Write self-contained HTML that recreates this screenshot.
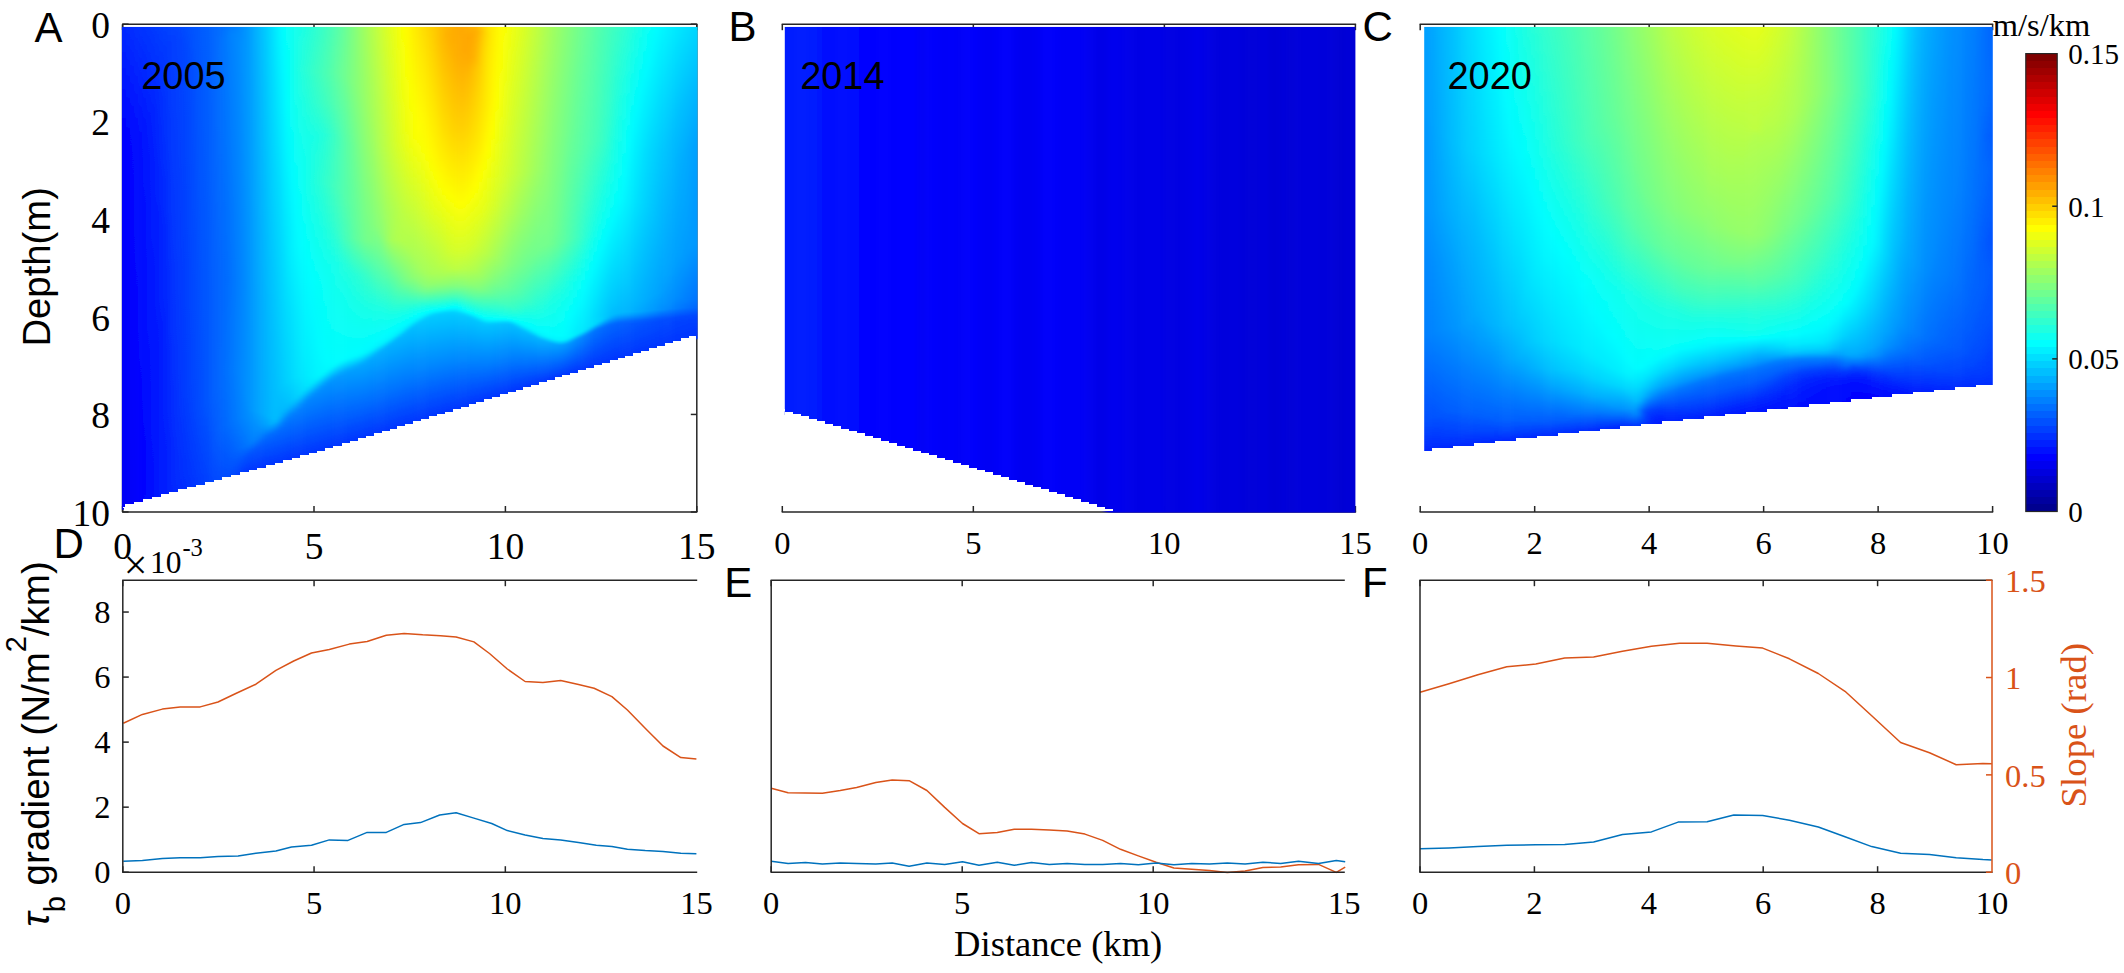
<!DOCTYPE html>
<html><head><meta charset="utf-8"><title>Figure</title>
<style>html,body{margin:0;padding:0;background:#fff;}svg{display:block;}</style></head>
<body><svg width="2124" height="973" viewBox="0 0 2124 973">
<defs><linearGradient id="a0" x1="0" y1="0" x2="0" y2="1"><stop offset="0" stop-color="#0029ff"/><stop offset="0.2237" stop-color="#0000ff"/><stop offset="0.9734" stop-color="#0000f5"/><stop offset="0.9983" stop-color="#0000f6"/></linearGradient>
<linearGradient id="a1" x1="0" y1="0" x2="0" y2="1"><stop offset="0" stop-color="#002bff"/><stop offset="0.2242" stop-color="#0004ff"/><stop offset="0.6436" stop-color="#0000fc"/><stop offset="0.9778" stop-color="#0000f7"/><stop offset="0.9986" stop-color="#0000f8"/></linearGradient>
<linearGradient id="a2" x1="0" y1="0" x2="0" y2="1"><stop offset="0" stop-color="#002dff"/><stop offset="0.2268" stop-color="#0007ff"/><stop offset="0.7991" stop-color="#0000fc"/><stop offset="0.9801" stop-color="#0000f9"/><stop offset="0.9988" stop-color="#0000fb"/></linearGradient>
<linearGradient id="a3" x1="0" y1="0" x2="0" y2="1"><stop offset="0" stop-color="#0030ff"/><stop offset="0.2294" stop-color="#000bff"/><stop offset="0.9282" stop-color="#0000fc"/><stop offset="0.9845" stop-color="#0000fc"/><stop offset="0.9991" stop-color="#0000fe"/></linearGradient>
<linearGradient id="a4" x1="0" y1="0" x2="0" y2="1"><stop offset="0" stop-color="#0032ff"/><stop offset="0.23" stop-color="#0010ff"/><stop offset="0.9889" stop-color="#0001ff"/><stop offset="0.9994" stop-color="#0002ff"/></linearGradient>
<linearGradient id="a5" x1="0" y1="0" x2="0" y2="1"><stop offset="0" stop-color="#0034ff"/><stop offset="0.2305" stop-color="#0014ff"/><stop offset="0.9598" stop-color="#0004ff"/><stop offset="0.9892" stop-color="#0007ff"/><stop offset="0.9997" stop-color="#0007ff"/></linearGradient>
<linearGradient id="a6" x1="0" y1="0" x2="0" y2="1"><stop offset="0" stop-color="#0036ff"/><stop offset="0.2206" stop-color="#001aff"/><stop offset="0.9852" stop-color="#000bff"/><stop offset="0.9999" stop-color="#000dff"/></linearGradient>
<linearGradient id="a7" x1="0" y1="0" x2="0" y2="1"><stop offset="0" stop-color="#0038ff"/><stop offset="0.1979" stop-color="#0020ff"/><stop offset="0.5959" stop-color="#0016ff"/><stop offset="0.9813" stop-color="#0010ff"/><stop offset="0.9981" stop-color="#0012ff"/></linearGradient>
<linearGradient id="a8" x1="0" y1="0" x2="0" y2="1"><stop offset="0" stop-color="#003bff"/><stop offset="0.1456" stop-color="#0029ff"/><stop offset="0.3989" stop-color="#001eff"/><stop offset="0.819" stop-color="#0015ff"/><stop offset="0.9984" stop-color="#0016ff"/></linearGradient>
<linearGradient id="a9" x1="0" y1="0" x2="0" y2="1"><stop offset="0" stop-color="#003dff"/><stop offset="0.09732" stop-color="#0031ff"/><stop offset="0.3893" stop-color="#0024ff"/><stop offset="0.8125" stop-color="#001bff"/><stop offset="0.9986" stop-color="#001aff"/></linearGradient>
<linearGradient id="a10" x1="0" y1="0" x2="0" y2="1"><stop offset="0" stop-color="#0040ff"/><stop offset="0.05726" stop-color="#0037ff"/><stop offset="0.422" stop-color="#0028ff"/><stop offset="0.8123" stop-color="#0020ff"/><stop offset="0.9989" stop-color="#001eff"/></linearGradient>
<linearGradient id="a11" x1="0" y1="0" x2="0" y2="1"><stop offset="0" stop-color="#0043ff"/><stop offset="0.03401" stop-color="#003bff"/><stop offset="0.5187" stop-color="#002cff"/><stop offset="0.8206" stop-color="#0025ff"/><stop offset="0.9992" stop-color="#0021ff"/></linearGradient>
<linearGradient id="a12" x1="0" y1="0" x2="0" y2="1"><stop offset="0" stop-color="#0043ff"/><stop offset="0.02344" stop-color="#003dff"/><stop offset="0.6947" stop-color="#002fff"/><stop offset="0.9994" stop-color="#0024ff"/></linearGradient>
<linearGradient id="a13" x1="0" y1="0" x2="0" y2="1"><stop offset="0" stop-color="#0043ff"/><stop offset="0.02136" stop-color="#003fff"/><stop offset="0.8011" stop-color="#0031ff"/><stop offset="0.9997" stop-color="#0028ff"/></linearGradient>
<linearGradient id="a14" x1="0" y1="0" x2="0" y2="1"><stop offset="0" stop-color="#0048ff"/><stop offset="0.02784" stop-color="#0043ff"/><stop offset="0.7987" stop-color="#0036ff"/><stop offset="1" stop-color="#002bff"/></linearGradient>
<linearGradient id="a15" x1="0" y1="0" x2="0" y2="1"><stop offset="0" stop-color="#004eff"/><stop offset="0.03649" stop-color="#0047ff"/><stop offset="0.7963" stop-color="#003cff"/><stop offset="0.9981" stop-color="#002eff"/></linearGradient>
<linearGradient id="a16" x1="0" y1="0" x2="0" y2="1"><stop offset="0" stop-color="#0051ff"/><stop offset="0.06025" stop-color="#004bff"/><stop offset="0.8026" stop-color="#0041ff"/><stop offset="0.9984" stop-color="#0031ff"/></linearGradient>
<linearGradient id="a17" x1="0" y1="0" x2="0" y2="1"><stop offset="0" stop-color="#0054ff"/><stop offset="0.1078" stop-color="#004fff"/><stop offset="0.811" stop-color="#0045ff"/><stop offset="0.9987" stop-color="#0034ff"/></linearGradient>
<linearGradient id="a18" x1="0" y1="0" x2="0" y2="1"><stop offset="0" stop-color="#0057ff"/><stop offset="0.6054" stop-color="#004dff"/><stop offset="0.8216" stop-color="#004aff"/><stop offset="0.9989" stop-color="#0037ff"/></linearGradient>
<linearGradient id="a19" x1="0" y1="0" x2="0" y2="1"><stop offset="0" stop-color="#005bff"/><stop offset="0.6026" stop-color="#0052ff"/><stop offset="0.8236" stop-color="#004fff"/><stop offset="0.9992" stop-color="#003bff"/></linearGradient>
<linearGradient id="a20" x1="0" y1="0" x2="0" y2="1"><stop offset="0" stop-color="#005eff"/><stop offset="0.5975" stop-color="#0056ff"/><stop offset="0.8213" stop-color="#0054ff"/><stop offset="0.9995" stop-color="#003eff"/></linearGradient>
<linearGradient id="a21" x1="0" y1="0" x2="0" y2="1"><stop offset="0" stop-color="#0062ff"/><stop offset="0.5946" stop-color="#005aff"/><stop offset="0.8168" stop-color="#005aff"/><stop offset="0.9715" stop-color="#0046ff"/><stop offset="0.9998" stop-color="#0042ff"/></linearGradient>
<linearGradient id="a22" x1="0" y1="0" x2="0" y2="1"><stop offset="0" stop-color="#0066ff"/><stop offset="0.2336" stop-color="#0064ff"/><stop offset="0.5721" stop-color="#005eff"/><stop offset="0.797" stop-color="#0060ff"/><stop offset="0.9084" stop-color="#0055ff"/><stop offset="0.9979" stop-color="#0044ff"/></linearGradient>
<linearGradient id="a23" x1="0" y1="0" x2="0" y2="1"><stop offset="0" stop-color="#006aff"/><stop offset="0.05472" stop-color="#006dff"/><stop offset="0.5691" stop-color="#0063ff"/><stop offset="0.7858" stop-color="#0065ff"/><stop offset="0.8909" stop-color="#005dff"/><stop offset="0.9982" stop-color="#0047ff"/></linearGradient>
<linearGradient id="a24" x1="0" y1="0" x2="0" y2="1"><stop offset="0" stop-color="#006fff"/><stop offset="0.03511" stop-color="#0073ff"/><stop offset="0.5618" stop-color="#0067ff"/><stop offset="0.7724" stop-color="#006bff"/><stop offset="0.8822" stop-color="#0064ff"/><stop offset="0.9985" stop-color="#0049ff"/></linearGradient>
<linearGradient id="a25" x1="0" y1="0" x2="0" y2="1"><stop offset="0" stop-color="#0075ff"/><stop offset="0.0242" stop-color="#007aff"/><stop offset="0.5544" stop-color="#006cff"/><stop offset="0.7634" stop-color="#0071ff"/><stop offset="0.8756" stop-color="#006aff"/><stop offset="0.9988" stop-color="#004aff"/></linearGradient>
<linearGradient id="a26" x1="0" y1="0" x2="0" y2="1"><stop offset="0" stop-color="#007bff"/><stop offset="0.01544" stop-color="#0081ff"/><stop offset="0.5536" stop-color="#0071ff"/><stop offset="0.7587" stop-color="#0077ff"/><stop offset="0.8711" stop-color="#0071ff"/><stop offset="0.9505" stop-color="#005aff"/><stop offset="0.9991" stop-color="#0049ff"/></linearGradient>
<linearGradient id="a27" x1="0" y1="0" x2="0" y2="1"><stop offset="0" stop-color="#007fff"/><stop offset="0.0199" stop-color="#0086ff"/><stop offset="0.5638" stop-color="#0078ff"/><stop offset="0.7606" stop-color="#007dff"/><stop offset="0.8689" stop-color="#0077ff"/><stop offset="0.9375" stop-color="#0063ff"/><stop offset="0.9839" stop-color="#004bff"/><stop offset="0.9949" stop-color="#0044ff"/><stop offset="0.9994" stop-color="#0044ff"/></linearGradient>
<linearGradient id="a28" x1="0" y1="0" x2="0" y2="1"><stop offset="0" stop-color="#0086ff"/><stop offset="0.03325" stop-color="#008bff"/><stop offset="0.5697" stop-color="#007fff"/><stop offset="0.7692" stop-color="#0084ff"/><stop offset="0.8667" stop-color="#007eff"/><stop offset="0.9354" stop-color="#0069ff"/><stop offset="0.9842" stop-color="#0045ff"/><stop offset="0.993" stop-color="#003dff"/><stop offset="0.9997" stop-color="#003dff"/></linearGradient>
<linearGradient id="a29" x1="0" y1="0" x2="0" y2="1"><stop offset="0" stop-color="#008eff"/><stop offset="0.05333" stop-color="#0092ff"/><stop offset="0.5733" stop-color="#0086ff"/><stop offset="0.7822" stop-color="#008aff"/><stop offset="0.8667" stop-color="#0085ff"/><stop offset="0.9355" stop-color="#006eff"/><stop offset="0.9622" stop-color="#0051ff"/><stop offset="0.9933" stop-color="#0037ff"/><stop offset="1" stop-color="#0037ff"/></linearGradient>
<linearGradient id="a30" x1="0" y1="0" x2="0" y2="1"><stop offset="0" stop-color="#0097ff"/><stop offset="0.1225" stop-color="#0099ff"/><stop offset="0.577" stop-color="#008eff"/><stop offset="0.8265" stop-color="#0091ff"/><stop offset="0.8733" stop-color="#0089ff"/><stop offset="0.9335" stop-color="#0075ff"/><stop offset="0.9558" stop-color="#0052ff"/><stop offset="0.9936" stop-color="#0033ff"/><stop offset="0.9981" stop-color="#0033ff"/></linearGradient>
<linearGradient id="a31" x1="0" y1="0" x2="0" y2="1"><stop offset="0" stop-color="#00a2ff"/><stop offset="0.5874" stop-color="#0097ff"/><stop offset="0.8555" stop-color="#0096ff"/><stop offset="0.9292" stop-color="#007dff"/><stop offset="0.9515" stop-color="#0053ff"/><stop offset="0.9939" stop-color="#0033ff"/><stop offset="0.9984" stop-color="#0033ff"/></linearGradient>
<linearGradient id="a32" x1="0" y1="0" x2="0" y2="1"><stop offset="0" stop-color="#00adff"/><stop offset="0.5889" stop-color="#009fff"/><stop offset="0.8599" stop-color="#009dff"/><stop offset="0.9248" stop-color="#0080ff"/><stop offset="0.9383" stop-color="#0066ff"/><stop offset="0.9472" stop-color="#0054ff"/><stop offset="0.9943" stop-color="#0033ff"/><stop offset="0.9987" stop-color="#0033ff"/></linearGradient>
<linearGradient id="a33" x1="0" y1="0" x2="0" y2="1"><stop offset="0" stop-color="#00b8ff"/><stop offset="0.595" stop-color="#00a8ff"/><stop offset="0.8644" stop-color="#00a5ff"/><stop offset="0.8981" stop-color="#0092ff"/><stop offset="0.9205" stop-color="#007fff"/><stop offset="0.943" stop-color="#0057ff"/><stop offset="0.9946" stop-color="#0033ff"/><stop offset="0.9991" stop-color="#0033ff"/></linearGradient>
<linearGradient id="a34" x1="0" y1="0" x2="0" y2="1"><stop offset="0" stop-color="#00c4ff"/><stop offset="0.6123" stop-color="#00b0ff"/><stop offset="0.8689" stop-color="#00acff"/><stop offset="0.8936" stop-color="#009eff"/><stop offset="0.9116" stop-color="#0089ff"/><stop offset="0.9342" stop-color="#0060ff"/><stop offset="0.9904" stop-color="#0033ff"/><stop offset="0.9994" stop-color="#0033ff"/></linearGradient>
<linearGradient id="a35" x1="0" y1="0" x2="0" y2="1"><stop offset="0" stop-color="#00d0ff"/><stop offset="0.65" stop-color="#00b8ff"/><stop offset="0.8779" stop-color="#00b2ff"/><stop offset="0.8982" stop-color="#00a3ff"/><stop offset="0.9073" stop-color="#0094ff"/><stop offset="0.9231" stop-color="#006cff"/><stop offset="0.9434" stop-color="#0058ff"/><stop offset="0.993" stop-color="#0033ff"/><stop offset="0.9998" stop-color="#0033ff"/></linearGradient>
<linearGradient id="a36" x1="0" y1="0" x2="0" y2="1"><stop offset="0" stop-color="#00ddff"/><stop offset="0.6472" stop-color="#00bfff"/><stop offset="0.8847" stop-color="#00b8ff"/><stop offset="0.8983" stop-color="#00aeff"/><stop offset="0.9096" stop-color="#008dff"/><stop offset="0.9209" stop-color="#006dff"/><stop offset="0.9368" stop-color="#005dff"/><stop offset="0.9934" stop-color="#0033ff"/><stop offset="0.9979" stop-color="#0033ff"/></linearGradient>
<linearGradient id="a37" x1="0" y1="0" x2="0" y2="1"><stop offset="0" stop-color="#00e9ff"/><stop offset="0.633" stop-color="#00c7ff"/><stop offset="0.8893" stop-color="#00bcff"/><stop offset="0.8962" stop-color="#00b2ff"/><stop offset="0.9166" stop-color="#0073ff"/><stop offset="0.9279" stop-color="#0063ff"/><stop offset="0.9937" stop-color="#0033ff"/><stop offset="0.9982" stop-color="#0033ff"/></linearGradient>
<linearGradient id="a38" x1="0" y1="0" x2="0" y2="1"><stop offset="0" stop-color="#00f6ff"/><stop offset="0.389" stop-color="#00dbff"/><stop offset="0.5573" stop-color="#00d3ff"/><stop offset="0.8166" stop-color="#00c5ff"/><stop offset="0.8849" stop-color="#00b7ff"/><stop offset="0.8963" stop-color="#00a0ff"/><stop offset="0.9122" stop-color="#0073ff"/><stop offset="0.9213" stop-color="#0067ff"/><stop offset="0.9941" stop-color="#0033ff"/><stop offset="0.9986" stop-color="#0033ff"/></linearGradient>
<linearGradient id="a39" x1="0" y1="0" x2="0" y2="1"><stop offset="0" stop-color="#01fffe"/><stop offset="0.2897" stop-color="#00eeff"/><stop offset="0.4562" stop-color="#00e2ff"/><stop offset="0.5383" stop-color="#00ddff"/><stop offset="0.812" stop-color="#00ccff"/><stop offset="0.869" stop-color="#00bbff"/><stop offset="0.8781" stop-color="#00b4ff"/><stop offset="0.9032" stop-color="#0079ff"/><stop offset="0.9146" stop-color="#006bff"/><stop offset="0.9944" stop-color="#0033ff"/><stop offset="0.999" stop-color="#0033ff"/></linearGradient>
<linearGradient id="a40" x1="0" y1="0" x2="0" y2="1"><stop offset="0" stop-color="#08fff7"/><stop offset="0.1784" stop-color="#02fffd"/><stop offset="0.4574" stop-color="#00eaff"/><stop offset="0.5168" stop-color="#00e8ff"/><stop offset="0.6952" stop-color="#00daff"/><stop offset="0.8096" stop-color="#00d2ff"/><stop offset="0.8599" stop-color="#00c1ff"/><stop offset="0.8713" stop-color="#00b6ff"/><stop offset="0.8942" stop-color="#007eff"/><stop offset="0.9079" stop-color="#006fff"/><stop offset="0.9925" stop-color="#0033ff"/><stop offset="0.9994" stop-color="#0033ff"/></linearGradient>
<linearGradient id="a41" x1="0" y1="0" x2="0" y2="1"><stop offset="0" stop-color="#0efff1"/><stop offset="0.1101" stop-color="#0ffff0"/><stop offset="0.3302" stop-color="#00fcff"/><stop offset="0.4609" stop-color="#00f2ff"/><stop offset="0.5091" stop-color="#00f1ff"/><stop offset="0.6444" stop-color="#00e2ff"/><stop offset="0.8049" stop-color="#00d9ff"/><stop offset="0.8553" stop-color="#00c7ff"/><stop offset="0.8645" stop-color="#00bdff"/><stop offset="0.8874" stop-color="#0082ff"/><stop offset="0.9012" stop-color="#0073ff"/><stop offset="0.9929" stop-color="#0033ff"/><stop offset="0.9998" stop-color="#0033ff"/></linearGradient>
<linearGradient id="a42" x1="0" y1="0" x2="0" y2="1"><stop offset="0" stop-color="#13ffec"/><stop offset="0.1012" stop-color="#18ffe7"/><stop offset="0.3978" stop-color="#00fcff"/><stop offset="0.4783" stop-color="#00f9ff"/><stop offset="0.5104" stop-color="#00f6ff"/><stop offset="0.653" stop-color="#00e8ff"/><stop offset="0.8048" stop-color="#00dfff"/><stop offset="0.853" stop-color="#00cdff"/><stop offset="0.8622" stop-color="#00baff"/><stop offset="0.8806" stop-color="#0087ff"/><stop offset="0.8921" stop-color="#0078ff"/><stop offset="0.9841" stop-color="#0038ff"/><stop offset="0.9956" stop-color="#0033ff"/><stop offset="0.9979" stop-color="#0033ff"/></linearGradient>
<linearGradient id="a43" x1="0" y1="0" x2="0" y2="1"><stop offset="0" stop-color="#18ffe7"/><stop offset="0.09914" stop-color="#20ffdf"/><stop offset="0.2928" stop-color="#0dfff2"/><stop offset="0.4703" stop-color="#00fdff"/><stop offset="0.5049" stop-color="#00fdff"/><stop offset="0.6571" stop-color="#00edff"/><stop offset="0.8047" stop-color="#00e4ff"/><stop offset="0.8462" stop-color="#00d5ff"/><stop offset="0.8554" stop-color="#00c1ff"/><stop offset="0.8715" stop-color="#0090ff"/><stop offset="0.883" stop-color="#007dff"/><stop offset="0.9753" stop-color="#003fff"/><stop offset="0.9937" stop-color="#0033ff"/><stop offset="0.9983" stop-color="#0033ff"/></linearGradient>
<linearGradient id="a44" x1="0" y1="0" x2="0" y2="1"><stop offset="0" stop-color="#1dffe2"/><stop offset="0.09941" stop-color="#27ffd8"/><stop offset="0.1988" stop-color="#1bffe4"/><stop offset="0.2774" stop-color="#12ffed"/><stop offset="0.3838" stop-color="#0efff1"/><stop offset="0.4948" stop-color="#02fffd"/><stop offset="0.756" stop-color="#00eeff"/><stop offset="0.8207" stop-color="#00e5ff"/><stop offset="0.8392" stop-color="#00ddff"/><stop offset="0.8485" stop-color="#00c7ff"/><stop offset="0.8647" stop-color="#0093ff"/><stop offset="0.8739" stop-color="#0082ff"/><stop offset="0.9779" stop-color="#003dff"/><stop offset="0.9941" stop-color="#0033ff"/><stop offset="0.9987" stop-color="#0033ff"/></linearGradient>
<linearGradient id="a45" x1="0" y1="0" x2="0" y2="1"><stop offset="0" stop-color="#23ffdc"/><stop offset="0.102" stop-color="#2effd1"/><stop offset="0.1878" stop-color="#23ffdc"/><stop offset="0.2596" stop-color="#16ffe9"/><stop offset="0.3709" stop-color="#16ffe9"/><stop offset="0.5471" stop-color="#00ffff"/><stop offset="0.8091" stop-color="#00edff"/><stop offset="0.8323" stop-color="#00e4ff"/><stop offset="0.8415" stop-color="#00ceff"/><stop offset="0.8578" stop-color="#0097ff"/><stop offset="0.867" stop-color="#0085ff"/><stop offset="0.9737" stop-color="#0040ff"/><stop offset="0.9946" stop-color="#0033ff"/><stop offset="0.9992" stop-color="#0033ff"/></linearGradient>
<linearGradient id="a46" x1="0" y1="0" x2="0" y2="1"><stop offset="0" stop-color="#29ffd6"/><stop offset="0.1023" stop-color="#35ffca"/><stop offset="0.1813" stop-color="#2affd5"/><stop offset="0.2557" stop-color="#19ffe6"/><stop offset="0.365" stop-color="#1dffe2"/><stop offset="0.5858" stop-color="#01fffe"/><stop offset="0.8113" stop-color="#00f0ff"/><stop offset="0.8276" stop-color="#00e8ff"/><stop offset="0.8369" stop-color="#00ceff"/><stop offset="0.8532" stop-color="#0096ff"/><stop offset="0.8625" stop-color="#0086ff"/><stop offset="0.9601" stop-color="#0049ff"/><stop offset="0.9927" stop-color="#0033ff"/><stop offset="0.9996" stop-color="#0033ff"/></linearGradient>
<linearGradient id="a47" x1="0" y1="0" x2="0" y2="1"><stop offset="0" stop-color="#2fffd0"/><stop offset="0.1049" stop-color="#3cffc3"/><stop offset="0.1795" stop-color="#30ffcf"/><stop offset="0.2541" stop-color="#1dffe2"/><stop offset="0.359" stop-color="#24ffdb"/><stop offset="0.5875" stop-color="#04fffb"/><stop offset="0.7437" stop-color="#00f9ff"/><stop offset="0.8159" stop-color="#00f3ff"/><stop offset="0.8229" stop-color="#00ebff"/><stop offset="0.8323" stop-color="#00ceff"/><stop offset="0.8462" stop-color="#009cff"/><stop offset="0.8556" stop-color="#008aff"/><stop offset="0.9605" stop-color="#0049ff"/><stop offset="0.9931" stop-color="#0033ff"/><stop offset="0.9978" stop-color="#0033ff"/></linearGradient>
<linearGradient id="a48" x1="0" y1="0" x2="0" y2="1"><stop offset="0" stop-color="#36ffc9"/><stop offset="0.1052" stop-color="#42ffbd"/><stop offset="0.1777" stop-color="#37ffc8"/><stop offset="0.2525" stop-color="#21ffde"/><stop offset="0.3577" stop-color="#2bffd4"/><stop offset="0.4559" stop-color="#1bffe4"/><stop offset="0.5143" stop-color="#12ffed"/><stop offset="0.5845" stop-color="#07fff8"/><stop offset="0.7551" stop-color="#00fbff"/><stop offset="0.8136" stop-color="#00f5ff"/><stop offset="0.8206" stop-color="#00e6ff"/><stop offset="0.8416" stop-color="#009cff"/><stop offset="0.851" stop-color="#008cff"/><stop offset="0.9515" stop-color="#004eff"/><stop offset="0.9936" stop-color="#0033ff"/><stop offset="0.9982" stop-color="#0033ff"/></linearGradient>
<linearGradient id="a49" x1="0" y1="0" x2="0" y2="1"><stop offset="0" stop-color="#3dffc2"/><stop offset="0.1078" stop-color="#49ffb6"/><stop offset="0.1782" stop-color="#3effc1"/><stop offset="0.2532" stop-color="#27ffd8"/><stop offset="0.361" stop-color="#31ffce"/><stop offset="0.4501" stop-color="#23ffdc"/><stop offset="0.5205" stop-color="#15ffea"/><stop offset="0.6002" stop-color="#09fff6"/><stop offset="0.776" stop-color="#00fdff"/><stop offset="0.8088" stop-color="#00f7ff"/><stop offset="0.8159" stop-color="#00e7ff"/><stop offset="0.8346" stop-color="#00a3ff"/><stop offset="0.844" stop-color="#008fff"/><stop offset="0.9518" stop-color="#004eff"/><stop offset="0.994" stop-color="#0033ff"/><stop offset="0.9987" stop-color="#0033ff"/></linearGradient>
<linearGradient id="a50" x1="0" y1="0" x2="0" y2="1"><stop offset="0" stop-color="#45ffba"/><stop offset="0.1082" stop-color="#50ffaf"/><stop offset="0.1787" stop-color="#45ffba"/><stop offset="0.2539" stop-color="#2fffd0"/><stop offset="0.3668" stop-color="#38ffc7"/><stop offset="0.4538" stop-color="#2affd5"/><stop offset="0.569" stop-color="#0ffff0"/><stop offset="0.7876" stop-color="#00fdff"/><stop offset="0.8041" stop-color="#00f8ff"/><stop offset="0.8135" stop-color="#00dfff"/><stop offset="0.83" stop-color="#00a4ff"/><stop offset="0.8394" stop-color="#0091ff"/><stop offset="0.9452" stop-color="#0052ff"/><stop offset="0.9945" stop-color="#0033ff"/><stop offset="0.9992" stop-color="#0033ff"/></linearGradient>
<linearGradient id="a51" x1="0" y1="0" x2="0" y2="1"><stop offset="0" stop-color="#4cffb3"/><stop offset="0.1085" stop-color="#58ffa7"/><stop offset="0.1816" stop-color="#4cffb3"/><stop offset="0.2547" stop-color="#38ffc7"/><stop offset="0.3749" stop-color="#3fffc0"/><stop offset="0.4622" stop-color="#2fffd0"/><stop offset="0.5635" stop-color="#13ffec"/><stop offset="0.7946" stop-color="#00fcff"/><stop offset="0.8017" stop-color="#00f5ff"/><stop offset="0.8111" stop-color="#00d9ff"/><stop offset="0.8253" stop-color="#00a7ff"/><stop offset="0.8347" stop-color="#0094ff"/><stop offset="0.9432" stop-color="#0054ff"/><stop offset="0.9927" stop-color="#0033ff"/><stop offset="0.9998" stop-color="#0033ff"/></linearGradient>
<linearGradient id="a52" x1="0" y1="0" x2="0" y2="1"><stop offset="0" stop-color="#55ffaa"/><stop offset="0.1064" stop-color="#60ff9f"/><stop offset="0.1821" stop-color="#54ffab"/><stop offset="0.2578" stop-color="#42ffbd"/><stop offset="0.3831" stop-color="#46ffb9"/><stop offset="0.48" stop-color="#34ffcb"/><stop offset="0.5604" stop-color="#18ffe7"/><stop offset="0.6716" stop-color="#0bfff4"/><stop offset="0.7922" stop-color="#00fdff"/><stop offset="0.7993" stop-color="#00f3ff"/><stop offset="0.8135" stop-color="#00c4ff"/><stop offset="0.8253" stop-color="#00a0ff"/><stop offset="0.8324" stop-color="#0095ff"/><stop offset="0.9364" stop-color="#0058ff"/><stop offset="0.9932" stop-color="#0033ff"/><stop offset="0.9979" stop-color="#0033ff"/></linearGradient>
<linearGradient id="a53" x1="0" y1="0" x2="0" y2="1"><stop offset="0" stop-color="#5effa1"/><stop offset="0.1091" stop-color="#68ff97"/><stop offset="0.1897" stop-color="#5bffa4"/><stop offset="0.2633" stop-color="#4cffb3"/><stop offset="0.3913" stop-color="#4dffb2"/><stop offset="0.498" stop-color="#3affc5"/><stop offset="0.5597" stop-color="#1fffe0"/><stop offset="0.638" stop-color="#10ffef"/><stop offset="0.7898" stop-color="#00fdff"/><stop offset="0.7969" stop-color="#00f2ff"/><stop offset="0.8206" stop-color="#00a6ff"/><stop offset="0.8301" stop-color="#0097ff"/><stop offset="0.9344" stop-color="#005aff"/><stop offset="0.9937" stop-color="#0033ff"/><stop offset="0.9985" stop-color="#0033ff"/></linearGradient>
<linearGradient id="a54" x1="0" y1="0" x2="0" y2="1"><stop offset="0" stop-color="#69ff96"/><stop offset="0.1166" stop-color="#70ff8f"/><stop offset="0.2141" stop-color="#5effa1"/><stop offset="0.2854" stop-color="#56ffa9"/><stop offset="0.402" stop-color="#55ffaa"/><stop offset="0.5066" stop-color="#44ffbb"/><stop offset="0.5637" stop-color="#24ffdb"/><stop offset="0.6256" stop-color="#14ffeb"/><stop offset="0.7873" stop-color="#00fdff"/><stop offset="0.7945" stop-color="#00f4ff"/><stop offset="0.8182" stop-color="#00a8ff"/><stop offset="0.8278" stop-color="#009aff"/><stop offset="0.9324" stop-color="#005bff"/><stop offset="0.9943" stop-color="#0033ff"/><stop offset="0.999" stop-color="#0033ff"/></linearGradient>
<linearGradient id="a55" x1="0" y1="0" x2="0" y2="1"><stop offset="0" stop-color="#75ff8a"/><stop offset="0.1241" stop-color="#79ff86"/><stop offset="0.2767" stop-color="#61ff9e"/><stop offset="0.4175" stop-color="#5bffa4"/><stop offset="0.5081" stop-color="#4effb1"/><stop offset="0.5821" stop-color="#23ffdc"/><stop offset="0.6441" stop-color="#15ffea"/><stop offset="0.7849" stop-color="#00fdff"/><stop offset="0.792" stop-color="#00f6ff"/><stop offset="0.804" stop-color="#00d2ff"/><stop offset="0.8159" stop-color="#00acff"/><stop offset="0.8254" stop-color="#009cff"/><stop offset="0.928" stop-color="#005fff"/><stop offset="0.9924" stop-color="#0033ff"/><stop offset="0.9996" stop-color="#0033ff"/></linearGradient>
<linearGradient id="a56" x1="0" y1="0" x2="0" y2="1"><stop offset="0" stop-color="#80ff7f"/><stop offset="0.134" stop-color="#81ff7e"/><stop offset="0.2847" stop-color="#6bff94"/><stop offset="0.4427" stop-color="#61ff9e"/><stop offset="0.5073" stop-color="#5affa5"/><stop offset="0.5934" stop-color="#25ffda"/><stop offset="0.6724" stop-color="#13ffec"/><stop offset="0.7824" stop-color="#00fdff"/><stop offset="0.7896" stop-color="#00f8ff"/><stop offset="0.7992" stop-color="#00dfff"/><stop offset="0.8135" stop-color="#00afff"/><stop offset="0.8231" stop-color="#009eff"/><stop offset="0.926" stop-color="#0060ff"/><stop offset="0.993" stop-color="#0033ff"/><stop offset="0.9978" stop-color="#0033ff"/></linearGradient>
<linearGradient id="a57" x1="0" y1="0" x2="0" y2="1"><stop offset="0" stop-color="#8cff73"/><stop offset="0.144" stop-color="#89ff76"/><stop offset="0.2976" stop-color="#75ff8a"/><stop offset="0.5088" stop-color="#63ff9c"/><stop offset="0.5976" stop-color="#29ffd6"/><stop offset="0.6744" stop-color="#15ffea"/><stop offset="0.78" stop-color="#00fdff"/><stop offset="0.7896" stop-color="#00f7ff"/><stop offset="0.7992" stop-color="#00dbff"/><stop offset="0.8112" stop-color="#00b2ff"/><stop offset="0.8208" stop-color="#00a0ff"/><stop offset="0.9239" stop-color="#0062ff"/><stop offset="0.9935" stop-color="#0033ff"/><stop offset="0.9983" stop-color="#0033ff"/></linearGradient>
<linearGradient id="a58" x1="0" y1="0" x2="0" y2="1"><stop offset="0" stop-color="#98ff67"/><stop offset="0.1565" stop-color="#91ff6e"/><stop offset="0.3274" stop-color="#7dff82"/><stop offset="0.5127" stop-color="#6bff94"/><stop offset="0.597" stop-color="#30ffcf"/><stop offset="0.6643" stop-color="#1affe5"/><stop offset="0.7775" stop-color="#00fdff"/><stop offset="0.7871" stop-color="#00f8ff"/><stop offset="0.7943" stop-color="#00e6ff"/><stop offset="0.8088" stop-color="#00b3ff"/><stop offset="0.816" stop-color="#00a4ff"/><stop offset="0.9315" stop-color="#005dff"/><stop offset="0.9941" stop-color="#0033ff"/><stop offset="0.9989" stop-color="#0033ff"/></linearGradient>
<linearGradient id="a59" x1="0" y1="0" x2="0" y2="1"><stop offset="0" stop-color="#a3ff5c"/><stop offset="0.1714" stop-color="#99ff66"/><stop offset="0.5167" stop-color="#72ff8d"/><stop offset="0.5988" stop-color="#37ffc8"/><stop offset="0.6833" stop-color="#17ffe8"/><stop offset="0.775" stop-color="#00fcff"/><stop offset="0.7871" stop-color="#00f4ff"/><stop offset="0.7967" stop-color="#00d4ff"/><stop offset="0.8064" stop-color="#00b2ff"/><stop offset="0.8136" stop-color="#00a5ff"/><stop offset="0.9174" stop-color="#0066ff"/><stop offset="0.9923" stop-color="#0033ff"/><stop offset="0.9995" stop-color="#0033ff"/></linearGradient>
<linearGradient id="a60" x1="0" y1="0" x2="0" y2="1"><stop offset="0" stop-color="#aeff51"/><stop offset="0.1913" stop-color="#a1ff5e"/><stop offset="0.5158" stop-color="#77ff88"/><stop offset="0.6151" stop-color="#35ffca"/><stop offset="0.6999" stop-color="#13ffec"/><stop offset="0.7701" stop-color="#00fdff"/><stop offset="0.7822" stop-color="#00f7ff"/><stop offset="0.7895" stop-color="#00e3ff"/><stop offset="0.8016" stop-color="#00b5ff"/><stop offset="0.8088" stop-color="#00a6ff"/><stop offset="0.913" stop-color="#0069ff"/><stop offset="0.9929" stop-color="#0033ff"/><stop offset="0.9977" stop-color="#0033ff"/></linearGradient>
<linearGradient id="a61" x1="0" y1="0" x2="0" y2="1"><stop offset="0" stop-color="#b9ff46"/><stop offset="0.2259" stop-color="#a7ff58"/><stop offset="0.4785" stop-color="#83ff7c"/><stop offset="0.5295" stop-color="#72ff8d"/><stop offset="0.6583" stop-color="#25ffda"/><stop offset="0.7651" stop-color="#00fdff"/><stop offset="0.7797" stop-color="#00f5ff"/><stop offset="0.787" stop-color="#00deff"/><stop offset="0.7967" stop-color="#00b7ff"/><stop offset="0.804" stop-color="#00a8ff"/><stop offset="0.9109" stop-color="#006aff"/><stop offset="0.9935" stop-color="#0033ff"/><stop offset="0.9983" stop-color="#0033ff"/></linearGradient>
<linearGradient id="a62" x1="0" y1="0" x2="0" y2="1"><stop offset="0" stop-color="#c3ff3c"/><stop offset="0.2802" stop-color="#acff53"/><stop offset="0.4873" stop-color="#89ff76"/><stop offset="0.5604" stop-color="#66ff99"/><stop offset="0.6846" stop-color="#1cffe3"/><stop offset="0.7626" stop-color="#00fcff"/><stop offset="0.7772" stop-color="#00f2ff"/><stop offset="0.787" stop-color="#00ccff"/><stop offset="0.7943" stop-color="#00b1ff"/><stop offset="0.8016" stop-color="#00a9ff"/><stop offset="0.9137" stop-color="#0067ff"/><stop offset="0.9941" stop-color="#0033ff"/><stop offset="0.9989" stop-color="#0033ff"/></linearGradient>
<linearGradient id="a63" x1="0" y1="0" x2="0" y2="1"><stop offset="0" stop-color="#ceff31"/><stop offset="0.2957" stop-color="#b4ff4b"/><stop offset="0.5059" stop-color="#8dff72"/><stop offset="0.6281" stop-color="#44ffbb"/><stop offset="0.6892" stop-color="#1cffe3"/><stop offset="0.7576" stop-color="#00fdff"/><stop offset="0.7723" stop-color="#00f5ff"/><stop offset="0.7772" stop-color="#00e7ff"/><stop offset="0.7894" stop-color="#00b3ff"/><stop offset="0.7943" stop-color="#00acff"/><stop offset="0.9043" stop-color="#006dff"/><stop offset="0.9922" stop-color="#0033ff"/><stop offset="0.9996" stop-color="#0033ff"/></linearGradient>
<linearGradient id="a64" x1="0" y1="0" x2="0" y2="1"><stop offset="0" stop-color="#d8ff27"/><stop offset="0.2917" stop-color="#beff41"/><stop offset="0.4805" stop-color="#9eff61"/><stop offset="0.5222" stop-color="#96ff69"/><stop offset="0.5614" stop-color="#78ff87"/><stop offset="0.6521" stop-color="#39ffc6"/><stop offset="0.6962" stop-color="#1cffe3"/><stop offset="0.7551" stop-color="#00fdff"/><stop offset="0.7698" stop-color="#00f3ff"/><stop offset="0.7747" stop-color="#00e1ff"/><stop offset="0.7845" stop-color="#00b6ff"/><stop offset="0.7894" stop-color="#00aeff"/><stop offset="0.8997" stop-color="#006fff"/><stop offset="0.9928" stop-color="#0033ff"/><stop offset="0.9978" stop-color="#0033ff"/></linearGradient>
<linearGradient id="a65" x1="0" y1="0" x2="0" y2="1"><stop offset="0" stop-color="#e1ff1e"/><stop offset="0.2902" stop-color="#c8ff37"/><stop offset="0.4598" stop-color="#a8ff57"/><stop offset="0.5238" stop-color="#a5ff5a"/><stop offset="0.568" stop-color="#7fff80"/><stop offset="0.6517" stop-color="#41ffbe"/><stop offset="0.7058" stop-color="#1affe5"/><stop offset="0.75" stop-color="#00feff"/><stop offset="0.7648" stop-color="#00f5ff"/><stop offset="0.7697" stop-color="#00e6ff"/><stop offset="0.7795" stop-color="#00b8ff"/><stop offset="0.7844" stop-color="#00b0ff"/><stop offset="0.8976" stop-color="#0070ff"/><stop offset="0.9935" stop-color="#0033ff"/><stop offset="0.9984" stop-color="#0033ff"/></linearGradient>
<linearGradient id="a66" x1="0" y1="0" x2="0" y2="1"><stop offset="0" stop-color="#eaff15"/><stop offset="0.2886" stop-color="#d2ff2d"/><stop offset="0.4539" stop-color="#b0ff4f"/><stop offset="0.5254" stop-color="#acff53"/><stop offset="0.6487" stop-color="#4cffb3"/><stop offset="0.7153" stop-color="#14ffeb"/><stop offset="0.7474" stop-color="#00fdff"/><stop offset="0.7622" stop-color="#00f2ff"/><stop offset="0.7696" stop-color="#00d0ff"/><stop offset="0.7745" stop-color="#00baff"/><stop offset="0.7795" stop-color="#00b2ff"/><stop offset="0.8929" stop-color="#0073ff"/><stop offset="0.9941" stop-color="#0033ff"/><stop offset="0.999" stop-color="#0033ff"/></linearGradient>
<linearGradient id="a67" x1="0" y1="0" x2="0" y2="1"><stop offset="0" stop-color="#f2ff0d"/><stop offset="0.287" stop-color="#dbff24"/><stop offset="0.4528" stop-color="#b7ff48"/><stop offset="0.527" stop-color="#b0ff4f"/><stop offset="0.6384" stop-color="#60ff9f"/><stop offset="0.7102" stop-color="#18ffe7"/><stop offset="0.7423" stop-color="#00feff"/><stop offset="0.7572" stop-color="#00f2ff"/><stop offset="0.7621" stop-color="#00deff"/><stop offset="0.7695" stop-color="#00bbff"/><stop offset="0.7745" stop-color="#00b4ff"/><stop offset="0.8908" stop-color="#0074ff"/><stop offset="0.9922" stop-color="#0033ff"/><stop offset="0.9997" stop-color="#0033ff"/></linearGradient>
<linearGradient id="a68" x1="0" y1="0" x2="0" y2="1"><stop offset="0" stop-color="#fbff04"/><stop offset="0.2457" stop-color="#e9ff16"/><stop offset="0.3028" stop-color="#dfff20"/><stop offset="0.4642" stop-color="#bbff44"/><stop offset="0.5312" stop-color="#b2ff4d"/><stop offset="0.6329" stop-color="#6fff90"/><stop offset="0.7124" stop-color="#15ffea"/><stop offset="0.7397" stop-color="#00fdff"/><stop offset="0.7521" stop-color="#00f2ff"/><stop offset="0.7645" stop-color="#00bcff"/><stop offset="0.7719" stop-color="#00b5ff"/><stop offset="0.8936" stop-color="#0071ff"/><stop offset="0.9929" stop-color="#0033ff"/><stop offset="0.9978" stop-color="#0033ff"/></linearGradient>
<linearGradient id="a69" x1="0" y1="0" x2="0" y2="1"><stop offset="0" stop-color="#fffb00"/><stop offset="0.1096" stop-color="#faff05"/><stop offset="0.244" stop-color="#f0ff0f"/><stop offset="0.2913" stop-color="#eaff15"/><stop offset="0.4781" stop-color="#bdff42"/><stop offset="0.5428" stop-color="#b0ff4f"/><stop offset="0.6324" stop-color="#7aff85"/><stop offset="0.6822" stop-color="#39ffc6"/><stop offset="0.7196" stop-color="#0dfff2"/><stop offset="0.737" stop-color="#00fcff"/><stop offset="0.7445" stop-color="#00f6ff"/><stop offset="0.7495" stop-color="#00e6ff"/><stop offset="0.7569" stop-color="#00c4ff"/><stop offset="0.7619" stop-color="#00b9ff"/><stop offset="0.8764" stop-color="#007bff"/><stop offset="0.9935" stop-color="#0033ff"/><stop offset="0.9985" stop-color="#0033ff"/></linearGradient>
<linearGradient id="a70" x1="0" y1="0" x2="0" y2="1"><stop offset="0" stop-color="#fff300"/><stop offset="0.1624" stop-color="#fcff03"/><stop offset="0.2448" stop-color="#f6ff09"/><stop offset="0.2822" stop-color="#f3ff0c"/><stop offset="0.5595" stop-color="#acff53"/><stop offset="0.6269" stop-color="#87ff78"/><stop offset="0.6594" stop-color="#61ff9e"/><stop offset="0.7094" stop-color="#16ffe9"/><stop offset="0.7318" stop-color="#00fdff"/><stop offset="0.7393" stop-color="#00f6ff"/><stop offset="0.7443" stop-color="#00e5ff"/><stop offset="0.7518" stop-color="#00c5ff"/><stop offset="0.7568" stop-color="#00bbff"/><stop offset="0.8742" stop-color="#007dff"/><stop offset="0.9941" stop-color="#0033ff"/><stop offset="0.9991" stop-color="#0033ff"/></linearGradient>
<linearGradient id="a71" x1="0" y1="0" x2="0" y2="1"><stop offset="0" stop-color="#ffeb00"/><stop offset="0.208" stop-color="#fcff03"/><stop offset="0.2781" stop-color="#faff05"/><stop offset="0.5763" stop-color="#aaff55"/><stop offset="0.6264" stop-color="#8fff70"/><stop offset="0.659" stop-color="#69ff96"/><stop offset="0.7116" stop-color="#12ffed"/><stop offset="0.7266" stop-color="#00ffff"/><stop offset="0.7366" stop-color="#00f1ff"/><stop offset="0.7467" stop-color="#00c8ff"/><stop offset="0.7517" stop-color="#00beff"/><stop offset="0.8669" stop-color="#0081ff"/><stop offset="0.9922" stop-color="#0033ff"/><stop offset="0.9997" stop-color="#0033ff"/></linearGradient>
<linearGradient id="a72" x1="0" y1="0" x2="0" y2="1"><stop offset="0" stop-color="#ffe400"/><stop offset="0.2514" stop-color="#ffff00"/><stop offset="0.2991" stop-color="#f8ff07"/><stop offset="0.4675" stop-color="#cdff32"/><stop offset="0.5329" stop-color="#baff45"/><stop offset="0.6058" stop-color="#a3ff5c"/><stop offset="0.6384" stop-color="#8cff73"/><stop offset="0.6636" stop-color="#6cff93"/><stop offset="0.7088" stop-color="#15ffea"/><stop offset="0.7239" stop-color="#00ffff"/><stop offset="0.7314" stop-color="#00f5ff"/><stop offset="0.744" stop-color="#00c7ff"/><stop offset="0.7515" stop-color="#00c0ff"/><stop offset="0.8747" stop-color="#007dff"/><stop offset="0.9928" stop-color="#0033ff"/><stop offset="0.9979" stop-color="#0033ff"/></linearGradient>
<linearGradient id="a73" x1="0" y1="0" x2="0" y2="1"><stop offset="0" stop-color="#ffdd00"/><stop offset="0.2244" stop-color="#fff900"/><stop offset="0.3076" stop-color="#fbff04"/><stop offset="0.4564" stop-color="#d6ff29"/><stop offset="0.5396" stop-color="#bcff43"/><stop offset="0.6152" stop-color="#a4ff5b"/><stop offset="0.648" stop-color="#8bff74"/><stop offset="0.6657" stop-color="#72ff8d"/><stop offset="0.706" stop-color="#1affe5"/><stop offset="0.7237" stop-color="#00fdff"/><stop offset="0.7287" stop-color="#00f3ff"/><stop offset="0.7388" stop-color="#00ccff"/><stop offset="0.7438" stop-color="#00c4ff"/><stop offset="0.8598" stop-color="#0086ff"/><stop offset="0.9935" stop-color="#0033ff"/><stop offset="0.9985" stop-color="#0033ff"/></linearGradient>
<linearGradient id="a74" x1="0" y1="0" x2="0" y2="1"><stop offset="0" stop-color="#ffd600"/><stop offset="0.2631" stop-color="#fff800"/><stop offset="0.3263" stop-color="#fcff03"/><stop offset="0.4528" stop-color="#ddff22"/><stop offset="0.5514" stop-color="#bdff42"/><stop offset="0.6248" stop-color="#a5ff5a"/><stop offset="0.6551" stop-color="#8bff74"/><stop offset="0.6703" stop-color="#70ff8f"/><stop offset="0.7083" stop-color="#17ffe8"/><stop offset="0.7209" stop-color="#01fffe"/><stop offset="0.726" stop-color="#00f3ff"/><stop offset="0.7361" stop-color="#00ccff"/><stop offset="0.7437" stop-color="#00c5ff"/><stop offset="0.8651" stop-color="#0083ff"/><stop offset="0.9916" stop-color="#0033ff"/><stop offset="0.9992" stop-color="#0033ff"/></linearGradient>
<linearGradient id="a75" x1="0" y1="0" x2="0" y2="1"><stop offset="0" stop-color="#ffcf00"/><stop offset="0.3147" stop-color="#fff900"/><stop offset="0.3578" stop-color="#fbff04"/><stop offset="0.4542" stop-color="#e2ff1d"/><stop offset="0.6268" stop-color="#a8ff57"/><stop offset="0.6547" stop-color="#8fff70"/><stop offset="0.6725" stop-color="#6fff90"/><stop offset="0.7131" stop-color="#0ffff0"/><stop offset="0.7207" stop-color="#01fffe"/><stop offset="0.7258" stop-color="#00eeff"/><stop offset="0.7334" stop-color="#00d0ff"/><stop offset="0.7384" stop-color="#00c8ff"/><stop offset="0.8552" stop-color="#0089ff"/><stop offset="0.9922" stop-color="#0033ff"/><stop offset="0.9998" stop-color="#0033ff"/></linearGradient>
<linearGradient id="a76" x1="0" y1="0" x2="0" y2="1"><stop offset="0" stop-color="#ffc900"/><stop offset="0.03819" stop-color="#ffcb00"/><stop offset="0.3208" stop-color="#fff500"/><stop offset="0.3768" stop-color="#fcff03"/><stop offset="0.4633" stop-color="#e5ff1a"/><stop offset="0.6263" stop-color="#abff54"/><stop offset="0.6517" stop-color="#94ff6b"/><stop offset="0.6721" stop-color="#72ff8d"/><stop offset="0.7179" stop-color="#07fff8"/><stop offset="0.7205" stop-color="#02fffd"/><stop offset="0.7255" stop-color="#00eeff"/><stop offset="0.7332" stop-color="#00d0ff"/><stop offset="0.7408" stop-color="#00c8ff"/><stop offset="0.8605" stop-color="#0087ff"/><stop offset="0.9929" stop-color="#0033ff"/><stop offset="0.9979" stop-color="#0033ff"/></linearGradient>
<linearGradient id="a77" x1="0" y1="0" x2="0" y2="1"><stop offset="0" stop-color="#ffc000"/><stop offset="0.0332" stop-color="#ffc100"/><stop offset="0.3116" stop-color="#ffed00"/><stop offset="0.3984" stop-color="#fdff02"/><stop offset="0.6079" stop-color="#b8ff47"/><stop offset="0.6411" stop-color="#a2ff5d"/><stop offset="0.664" stop-color="#84ff7b"/><stop offset="0.6896" stop-color="#4dffb2"/><stop offset="0.7202" stop-color="#04fffb"/><stop offset="0.7228" stop-color="#00fcff"/><stop offset="0.733" stop-color="#00d2ff"/><stop offset="0.7381" stop-color="#00c9ff"/><stop offset="0.853" stop-color="#008bff"/><stop offset="0.9935" stop-color="#0033ff"/><stop offset="0.9986" stop-color="#0033ff"/></linearGradient>
<linearGradient id="a78" x1="0" y1="0" x2="0" y2="1"><stop offset="0" stop-color="#ffb800"/><stop offset="0.02306" stop-color="#ffb700"/><stop offset="0.2562" stop-color="#ffdd00"/><stop offset="0.3638" stop-color="#fff400"/><stop offset="0.4202" stop-color="#fcff03"/><stop offset="0.5893" stop-color="#c3ff3c"/><stop offset="0.6303" stop-color="#aeff51"/><stop offset="0.6585" stop-color="#8fff70"/><stop offset="0.679" stop-color="#69ff96"/><stop offset="0.7226" stop-color="#00ffff"/><stop offset="0.7328" stop-color="#00d5ff"/><stop offset="0.7379" stop-color="#00caff"/><stop offset="0.8558" stop-color="#008aff"/><stop offset="0.9916" stop-color="#0033ff"/><stop offset="0.9993" stop-color="#0033ff"/></linearGradient>
<linearGradient id="a79" x1="0" y1="0" x2="0" y2="1"><stop offset="0" stop-color="#ffb400"/><stop offset="0.02056" stop-color="#ffb000"/><stop offset="0.3162" stop-color="#ffe400"/><stop offset="0.4293" stop-color="#fdff02"/><stop offset="0.5784" stop-color="#cdff32"/><stop offset="0.6247" stop-color="#b6ff49"/><stop offset="0.6606" stop-color="#8dff72"/><stop offset="0.6812" stop-color="#66ff99"/><stop offset="0.7223" stop-color="#03fffc"/><stop offset="0.7249" stop-color="#00faff"/><stop offset="0.7352" stop-color="#00d1ff"/><stop offset="0.7429" stop-color="#00c8ff"/><stop offset="0.8612" stop-color="#0087ff"/><stop offset="0.9923" stop-color="#0033ff"/><stop offset="1" stop-color="#0033ff"/></linearGradient>
<linearGradient id="a80" x1="0" y1="0" x2="0" y2="1"><stop offset="0" stop-color="#ffaf00"/><stop offset="0.03353" stop-color="#ffae00"/><stop offset="0.2656" stop-color="#ffd500"/><stop offset="0.4384" stop-color="#fdff02"/><stop offset="0.5751" stop-color="#d3ff2c"/><stop offset="0.6241" stop-color="#baff45"/><stop offset="0.668" stop-color="#83ff7c"/><stop offset="0.6912" stop-color="#51ffae"/><stop offset="0.7221" stop-color="#04fffb"/><stop offset="0.7247" stop-color="#00fdff"/><stop offset="0.7376" stop-color="#00cfff"/><stop offset="0.7453" stop-color="#00c7ff"/><stop offset="0.864" stop-color="#0086ff"/><stop offset="0.9929" stop-color="#0033ff"/><stop offset="0.9981" stop-color="#0033ff"/></linearGradient>
<linearGradient id="a81" x1="0" y1="0" x2="0" y2="1"><stop offset="0" stop-color="#ffab00"/><stop offset="0.07504" stop-color="#ffaf00"/><stop offset="0.2639" stop-color="#ffd200"/><stop offset="0.4528" stop-color="#fdff02"/><stop offset="0.577" stop-color="#d5ff2a"/><stop offset="0.6262" stop-color="#bcff43"/><stop offset="0.6728" stop-color="#7eff81"/><stop offset="0.6986" stop-color="#44ffbb"/><stop offset="0.7167" stop-color="#16ffe9"/><stop offset="0.7245" stop-color="#01fffe"/><stop offset="0.7323" stop-color="#00ebff"/><stop offset="0.74" stop-color="#00d1ff"/><stop offset="0.7478" stop-color="#00c7ff"/><stop offset="0.8642" stop-color="#0086ff"/><stop offset="0.9936" stop-color="#0033ff"/><stop offset="0.9988" stop-color="#0033ff"/></linearGradient>
<linearGradient id="a82" x1="0" y1="0" x2="0" y2="1"><stop offset="0" stop-color="#ffa800"/><stop offset="0.08048" stop-color="#ffad00"/><stop offset="0.2674" stop-color="#ffd100"/><stop offset="0.4595" stop-color="#fdff02"/><stop offset="0.5815" stop-color="#d4ff2b"/><stop offset="0.6282" stop-color="#baff45"/><stop offset="0.675" stop-color="#7eff81"/><stop offset="0.7035" stop-color="#41ffbe"/><stop offset="0.7295" stop-color="#02fffd"/><stop offset="0.7347" stop-color="#00f5ff"/><stop offset="0.7451" stop-color="#00cfff"/><stop offset="0.7529" stop-color="#00c6ff"/><stop offset="0.8671" stop-color="#0085ff"/><stop offset="0.9917" stop-color="#0033ff"/><stop offset="0.9995" stop-color="#0033ff"/></linearGradient>
<linearGradient id="a83" x1="0" y1="0" x2="0" y2="1"><stop offset="0" stop-color="#ffaa00"/><stop offset="0.06251" stop-color="#ffa800"/><stop offset="0.2683" stop-color="#ffd200"/><stop offset="0.4584" stop-color="#fdff02"/><stop offset="0.586" stop-color="#d2ff2d"/><stop offset="0.6329" stop-color="#b5ff4a"/><stop offset="0.672" stop-color="#88ff77"/><stop offset="0.698" stop-color="#58ffa7"/><stop offset="0.7371" stop-color="#02fffd"/><stop offset="0.7397" stop-color="#00faff"/><stop offset="0.7501" stop-color="#00d1ff"/><stop offset="0.7553" stop-color="#00c7ff"/><stop offset="0.8647" stop-color="#0088ff"/><stop offset="0.9924" stop-color="#0033ff"/><stop offset="0.9976" stop-color="#0033ff"/></linearGradient>
<linearGradient id="a84" x1="0" y1="0" x2="0" y2="1"><stop offset="0" stop-color="#ffae00"/><stop offset="0.02875" stop-color="#ffa600"/><stop offset="0.08101" stop-color="#ffab00"/><stop offset="0.1359" stop-color="#ffbc00"/><stop offset="0.2666" stop-color="#ffd500"/><stop offset="0.4469" stop-color="#fdff02"/><stop offset="0.5828" stop-color="#d2ff2d"/><stop offset="0.6324" stop-color="#b6ff49"/><stop offset="0.6716" stop-color="#8eff71"/><stop offset="0.6978" stop-color="#63ff9c"/><stop offset="0.7448" stop-color="#00ffff"/><stop offset="0.7552" stop-color="#00d4ff"/><stop offset="0.7605" stop-color="#00c7ff"/><stop offset="0.8755" stop-color="#0083ff"/><stop offset="0.9931" stop-color="#0033ff"/><stop offset="0.9983" stop-color="#0033ff"/></linearGradient>
<linearGradient id="a85" x1="0" y1="0" x2="0" y2="1"><stop offset="0" stop-color="#ffb200"/><stop offset="0.02098" stop-color="#ffa900"/><stop offset="0.08128" stop-color="#ffaf00"/><stop offset="0.1154" stop-color="#ffbe00"/><stop offset="0.3094" stop-color="#ffe300"/><stop offset="0.4353" stop-color="#fdff02"/><stop offset="0.5768" stop-color="#d1ff2e"/><stop offset="0.6345" stop-color="#b3ff4c"/><stop offset="0.6765" stop-color="#8cff73"/><stop offset="0.7027" stop-color="#63ff9c"/><stop offset="0.7499" stop-color="#04fffb"/><stop offset="0.7525" stop-color="#00faff"/><stop offset="0.763" stop-color="#00ceff"/><stop offset="0.7683" stop-color="#00c5ff"/><stop offset="0.8731" stop-color="#0086ff"/><stop offset="0.9911" stop-color="#0033ff"/><stop offset="0.999" stop-color="#0033ff"/></linearGradient>
<linearGradient id="a86" x1="0" y1="0" x2="0" y2="1"><stop offset="0" stop-color="#ffb600"/><stop offset="0.01315" stop-color="#ffaf00"/><stop offset="0.08419" stop-color="#ffbb00"/><stop offset="0.1158" stop-color="#ffc800"/><stop offset="0.3025" stop-color="#ffe600"/><stop offset="0.4157" stop-color="#ffff00"/><stop offset="0.5735" stop-color="#cfff30"/><stop offset="0.6419" stop-color="#acff53"/><stop offset="0.684" stop-color="#86ff79"/><stop offset="0.7103" stop-color="#5dffa2"/><stop offset="0.7577" stop-color="#02fffd"/><stop offset="0.7629" stop-color="#00edff"/><stop offset="0.7708" stop-color="#00cdff"/><stop offset="0.7761" stop-color="#00c4ff"/><stop offset="0.8787" stop-color="#0085ff"/><stop offset="0.9918" stop-color="#0033ff"/><stop offset="0.9997" stop-color="#0033ff"/></linearGradient>
<linearGradient id="a87" x1="0" y1="0" x2="0" y2="1"><stop offset="0" stop-color="#ffc600"/><stop offset="0.0132" stop-color="#ffbe00"/><stop offset="0.07127" stop-color="#ffcb00"/><stop offset="0.1927" stop-color="#ffdd00"/><stop offset="0.3009" stop-color="#ffec00"/><stop offset="0.3907" stop-color="#fdff02"/><stop offset="0.4936" stop-color="#e5ff1a"/><stop offset="0.5939" stop-color="#c1ff3e"/><stop offset="0.6573" stop-color="#9eff61"/><stop offset="0.6942" stop-color="#7cff83"/><stop offset="0.7338" stop-color="#38ffc7"/><stop offset="0.7655" stop-color="#00ffff"/><stop offset="0.7734" stop-color="#00e0ff"/><stop offset="0.7813" stop-color="#00c6ff"/><stop offset="0.9001" stop-color="#0077ff"/><stop offset="0.9925" stop-color="#0033ff"/><stop offset="0.9978" stop-color="#0033ff"/></linearGradient>
<linearGradient id="a88" x1="0" y1="0" x2="0" y2="1"><stop offset="0" stop-color="#ffd900"/><stop offset="0.01324" stop-color="#ffd100"/><stop offset="0.06621" stop-color="#ffdc00"/><stop offset="0.2092" stop-color="#ffe700"/><stop offset="0.3258" stop-color="#fff900"/><stop offset="0.3682" stop-color="#fbff04"/><stop offset="0.4794" stop-color="#e4ff1b"/><stop offset="0.5959" stop-color="#bcff43"/><stop offset="0.6648" stop-color="#94ff6b"/><stop offset="0.6992" stop-color="#75ff8a"/><stop offset="0.739" stop-color="#36ffc9"/><stop offset="0.7707" stop-color="#01fffe"/><stop offset="0.776" stop-color="#00f2ff"/><stop offset="0.7866" stop-color="#00c9ff"/><stop offset="0.7946" stop-color="#00c0ff"/><stop offset="0.8979" stop-color="#007bff"/><stop offset="0.9906" stop-color="#0033ff"/><stop offset="0.9985" stop-color="#0033ff"/></linearGradient>
<linearGradient id="a89" x1="0" y1="0" x2="0" y2="1"><stop offset="0" stop-color="#ffe500"/><stop offset="0.02392" stop-color="#ffe200"/><stop offset="0.08238" stop-color="#ffe800"/><stop offset="0.1967" stop-color="#ffef00"/><stop offset="0.3295" stop-color="#fdff02"/><stop offset="0.4837" stop-color="#dcff23"/><stop offset="0.6033" stop-color="#b3ff4c"/><stop offset="0.6671" stop-color="#8dff72"/><stop offset="0.7069" stop-color="#6bff94"/><stop offset="0.7468" stop-color="#2effd1"/><stop offset="0.776" stop-color="#00ffff"/><stop offset="0.7813" stop-color="#00eeff"/><stop offset="0.7893" stop-color="#00cdff"/><stop offset="0.7946" stop-color="#00c2ff"/><stop offset="0.8903" stop-color="#0082ff"/><stop offset="0.9913" stop-color="#0033ff"/><stop offset="0.9992" stop-color="#0033ff"/></linearGradient>
<linearGradient id="a90" x1="0" y1="0" x2="0" y2="1"><stop offset="0" stop-color="#ffed00"/><stop offset="0.1947" stop-color="#fff800"/><stop offset="0.272" stop-color="#feff01"/><stop offset="0.472" stop-color="#d9ff26"/><stop offset="0.608" stop-color="#abff54"/><stop offset="0.6693" stop-color="#87ff78"/><stop offset="0.712" stop-color="#64ff9b"/><stop offset="0.7493" stop-color="#30ffcf"/><stop offset="0.7787" stop-color="#01fffe"/><stop offset="0.7813" stop-color="#00f9ff"/><stop offset="0.792" stop-color="#00cbff"/><stop offset="0.7973" stop-color="#00c1ff"/><stop offset="0.8933" stop-color="#0080ff"/><stop offset="0.992" stop-color="#0033ff"/><stop offset="1" stop-color="#0033ff"/></linearGradient>
<linearGradient id="a91" x1="0" y1="0" x2="0" y2="1"><stop offset="0" stop-color="#fff500"/><stop offset="0.1953" stop-color="#fcff03"/><stop offset="0.3586" stop-color="#e8ff17"/><stop offset="0.4816" stop-color="#d0ff2f"/><stop offset="0.6181" stop-color="#a0ff5f"/><stop offset="0.6823" stop-color="#7aff85"/><stop offset="0.7225" stop-color="#58ffa7"/><stop offset="0.7626" stop-color="#21ffde"/><stop offset="0.7813" stop-color="#02fffd"/><stop offset="0.784" stop-color="#00f8ff"/><stop offset="0.7947" stop-color="#00c8ff"/><stop offset="0.8" stop-color="#00bfff"/><stop offset="0.8964" stop-color="#007eff"/><stop offset="0.99" stop-color="#0033ff"/><stop offset="0.9981" stop-color="#0033ff"/></linearGradient>
<linearGradient id="a92" x1="0" y1="0" x2="0" y2="1"><stop offset="0" stop-color="#fffd00"/><stop offset="0.1853" stop-color="#f5ff0a"/><stop offset="0.4162" stop-color="#d8ff27"/><stop offset="0.5397" stop-color="#b6ff49"/><stop offset="0.6363" stop-color="#92ff6d"/><stop offset="0.6981" stop-color="#6dff92"/><stop offset="0.7384" stop-color="#48ffb7"/><stop offset="0.7733" stop-color="#16ffe9"/><stop offset="0.784" stop-color="#03fffc"/><stop offset="0.7867" stop-color="#00f6ff"/><stop offset="0.7947" stop-color="#00cfff"/><stop offset="0.8001" stop-color="#00c0ff"/><stop offset="0.8995" stop-color="#007cff"/><stop offset="0.9907" stop-color="#0033ff"/><stop offset="0.9988" stop-color="#0033ff"/></linearGradient>
<linearGradient id="a93" x1="0" y1="0" x2="0" y2="1"><stop offset="0" stop-color="#faff05"/><stop offset="0.2371" stop-color="#e7ff18"/><stop offset="0.4176" stop-color="#d1ff2e"/><stop offset="0.5415" stop-color="#aeff51"/><stop offset="0.6439" stop-color="#88ff77"/><stop offset="0.7032" stop-color="#68ff97"/><stop offset="0.7463" stop-color="#42ffbd"/><stop offset="0.7759" stop-color="#19ffe6"/><stop offset="0.7867" stop-color="#03fffc"/><stop offset="0.7894" stop-color="#00f5ff"/><stop offset="0.7975" stop-color="#00ccff"/><stop offset="0.8029" stop-color="#00beff"/><stop offset="0.8972" stop-color="#007eff"/><stop offset="0.9915" stop-color="#0033ff"/><stop offset="0.9995" stop-color="#0033ff"/></linearGradient>
<linearGradient id="a94" x1="0" y1="0" x2="0" y2="1"><stop offset="0" stop-color="#f3ff0c"/><stop offset="0.3704" stop-color="#d1ff2e"/><stop offset="0.4839" stop-color="#b9ff46"/><stop offset="0.638" stop-color="#85ff7a"/><stop offset="0.7056" stop-color="#64ff9b"/><stop offset="0.7516" stop-color="#40ffbf"/><stop offset="0.7786" stop-color="#1bffe4"/><stop offset="0.7894" stop-color="#06fff9"/><stop offset="0.7921" stop-color="#00f9ff"/><stop offset="0.8002" stop-color="#00ceff"/><stop offset="0.8056" stop-color="#00beff"/><stop offset="0.9057" stop-color="#0078ff"/><stop offset="0.9922" stop-color="#0033ff"/><stop offset="0.9976" stop-color="#0033ff"/></linearGradient>
<linearGradient id="a95" x1="0" y1="0" x2="0" y2="1"><stop offset="0" stop-color="#ecff13"/><stop offset="0.3988" stop-color="#c6ff39"/><stop offset="0.5073" stop-color="#abff54"/><stop offset="0.6457" stop-color="#7dff82"/><stop offset="0.7162" stop-color="#5bffa4"/><stop offset="0.7623" stop-color="#37ffc8"/><stop offset="0.784" stop-color="#1affe5"/><stop offset="0.7949" stop-color="#05fffa"/><stop offset="0.7976" stop-color="#00fbff"/><stop offset="0.8084" stop-color="#00c6ff"/><stop offset="0.8139" stop-color="#00bbff"/><stop offset="0.9061" stop-color="#0079ff"/><stop offset="0.9902" stop-color="#0033ff"/><stop offset="0.9983" stop-color="#0033ff"/></linearGradient>
<linearGradient id="a96" x1="0" y1="0" x2="0" y2="1"><stop offset="0" stop-color="#e5ff1a"/><stop offset="0.4002" stop-color="#beff41"/><stop offset="0.5091" stop-color="#a3ff5c"/><stop offset="0.6479" stop-color="#78ff87"/><stop offset="0.7269" stop-color="#52ffad"/><stop offset="0.7704" stop-color="#2fffd0"/><stop offset="0.7976" stop-color="#09fff6"/><stop offset="0.8031" stop-color="#00ffff"/><stop offset="0.8085" stop-color="#00ebff"/><stop offset="0.8167" stop-color="#00c5ff"/><stop offset="0.8221" stop-color="#00b9ff"/><stop offset="0.912" stop-color="#0076ff"/><stop offset="0.9909" stop-color="#0033ff"/><stop offset="0.9991" stop-color="#0033ff"/></linearGradient>
<linearGradient id="a97" x1="0" y1="0" x2="0" y2="1"><stop offset="0" stop-color="#deff21"/><stop offset="0.3988" stop-color="#b8ff47"/><stop offset="0.5081" stop-color="#9dff62"/><stop offset="0.6474" stop-color="#74ff8b"/><stop offset="0.7321" stop-color="#4cffb3"/><stop offset="0.7758" stop-color="#29ffd6"/><stop offset="0.8086" stop-color="#01fffe"/><stop offset="0.8141" stop-color="#00f7ff"/><stop offset="0.8277" stop-color="#00beff"/><stop offset="0.8359" stop-color="#00b5ff"/><stop offset="0.9288" stop-color="#006aff"/><stop offset="0.9917" stop-color="#0033ff"/><stop offset="0.9999" stop-color="#0033ff"/></linearGradient>
<linearGradient id="a98" x1="0" y1="0" x2="0" y2="1"><stop offset="0" stop-color="#d6ff29"/><stop offset="0.3975" stop-color="#b1ff4e"/><stop offset="0.5099" stop-color="#97ff68"/><stop offset="0.6004" stop-color="#7fff80"/><stop offset="0.6744" stop-color="#65ff9a"/><stop offset="0.7539" stop-color="#3affc5"/><stop offset="0.8169" stop-color="#00fdff"/><stop offset="0.8224" stop-color="#00f6ff"/><stop offset="0.8361" stop-color="#00bdff"/><stop offset="0.8416" stop-color="#00b5ff"/><stop offset="0.9266" stop-color="#006fff"/><stop offset="0.9896" stop-color="#0033ff"/><stop offset="0.9979" stop-color="#0033ff"/></linearGradient>
<linearGradient id="a99" x1="0" y1="0" x2="0" y2="1"><stop offset="0" stop-color="#ceff31"/><stop offset="0.3962" stop-color="#aaff55"/><stop offset="0.5144" stop-color="#90ff6f"/><stop offset="0.5915" stop-color="#7dff82"/><stop offset="0.652" stop-color="#6bff94"/><stop offset="0.7565" stop-color="#36ffc9"/><stop offset="0.8226" stop-color="#00feff"/><stop offset="0.8308" stop-color="#00f6ff"/><stop offset="0.8363" stop-color="#00e1ff"/><stop offset="0.8446" stop-color="#00bcff"/><stop offset="0.8501" stop-color="#00b2ff"/><stop offset="0.9326" stop-color="#006bff"/><stop offset="0.9904" stop-color="#0033ff"/><stop offset="0.9986" stop-color="#0033ff"/></linearGradient>
<linearGradient id="a100" x1="0" y1="0" x2="0" y2="1"><stop offset="0" stop-color="#c6ff39"/><stop offset="0.3948" stop-color="#a3ff5c"/><stop offset="0.5273" stop-color="#88ff77"/><stop offset="0.6322" stop-color="#70ff8f"/><stop offset="0.7703" stop-color="#2bffd4"/><stop offset="0.831" stop-color="#00fdff"/><stop offset="0.8393" stop-color="#00f7ff"/><stop offset="0.8448" stop-color="#00e3ff"/><stop offset="0.8531" stop-color="#00bcff"/><stop offset="0.8558" stop-color="#00b4ff"/><stop offset="0.9469" stop-color="#005fff"/><stop offset="0.9911" stop-color="#0033ff"/><stop offset="0.9994" stop-color="#0033ff"/></linearGradient>
<linearGradient id="a101" x1="0" y1="0" x2="0" y2="1"><stop offset="0" stop-color="#beff41"/><stop offset="0.3934" stop-color="#9cff63"/><stop offset="0.6206" stop-color="#72ff8d"/><stop offset="0.8007" stop-color="#17ffe8"/><stop offset="0.8395" stop-color="#00fcff"/><stop offset="0.8478" stop-color="#00f6ff"/><stop offset="0.8533" stop-color="#00e4ff"/><stop offset="0.8616" stop-color="#00bcff"/><stop offset="0.8644" stop-color="#00b2ff"/><stop offset="0.9586" stop-color="#0055ff"/><stop offset="0.9891" stop-color="#0033ff"/><stop offset="0.9974" stop-color="#0033ff"/></linearGradient>
<linearGradient id="a102" x1="0" y1="0" x2="0" y2="1"><stop offset="0" stop-color="#b5ff4a"/><stop offset="0.392" stop-color="#96ff69"/><stop offset="0.6117" stop-color="#73ff8c"/><stop offset="0.7841" stop-color="#1fffe0"/><stop offset="0.8452" stop-color="#00fdff"/><stop offset="0.8564" stop-color="#00f5ff"/><stop offset="0.8619" stop-color="#00e1ff"/><stop offset="0.8703" stop-color="#00b7ff"/><stop offset="0.873" stop-color="#00aeff"/><stop offset="0.9565" stop-color="#0059ff"/><stop offset="0.9898" stop-color="#0033ff"/><stop offset="0.9982" stop-color="#0033ff"/></linearGradient>
<linearGradient id="a103" x1="0" y1="0" x2="0" y2="1"><stop offset="0" stop-color="#adff52"/><stop offset="0.3962" stop-color="#8eff71"/><stop offset="0.572" stop-color="#79ff86"/><stop offset="0.6111" stop-color="#72ff8d"/><stop offset="0.7729" stop-color="#20ffdf"/><stop offset="0.851" stop-color="#00feff"/><stop offset="0.8622" stop-color="#00f7ff"/><stop offset="0.865" stop-color="#00f1ff"/><stop offset="0.8789" stop-color="#00aeff"/><stop offset="0.8873" stop-color="#00a3ff"/><stop offset="0.9627" stop-color="#0053ff"/><stop offset="0.9906" stop-color="#0033ff"/><stop offset="0.9989" stop-color="#0033ff"/></linearGradient>
<linearGradient id="a104" x1="0" y1="0" x2="0" y2="1"><stop offset="0" stop-color="#a5ff5a"/><stop offset="0.406" stop-color="#86ff79"/><stop offset="0.5657" stop-color="#76ff89"/><stop offset="0.6077" stop-color="#70ff8f"/><stop offset="0.7673" stop-color="#1effe1"/><stop offset="0.8597" stop-color="#00fdff"/><stop offset="0.8709" stop-color="#00f4ff"/><stop offset="0.8765" stop-color="#00dcff"/><stop offset="0.8849" stop-color="#00afff"/><stop offset="0.8877" stop-color="#00a6ff"/><stop offset="0.9577" stop-color="#005aff"/><stop offset="0.9885" stop-color="#0033ff"/><stop offset="0.9997" stop-color="#0033ff"/></linearGradient>
<linearGradient id="a105" x1="0" y1="0" x2="0" y2="1"><stop offset="0" stop-color="#9dff62"/><stop offset="0.4047" stop-color="#7fff80"/><stop offset="0.5677" stop-color="#71ff8e"/><stop offset="0.6098" stop-color="#6aff95"/><stop offset="0.7532" stop-color="#20ffdf"/><stop offset="0.8656" stop-color="#00fdff"/><stop offset="0.8768" stop-color="#00f5ff"/><stop offset="0.8796" stop-color="#00ecff"/><stop offset="0.8909" stop-color="#00aeff"/><stop offset="0.8937" stop-color="#00a4ff"/><stop offset="0.9668" stop-color="#0050ff"/><stop offset="0.9892" stop-color="#0033ff"/><stop offset="0.9977" stop-color="#0033ff"/></linearGradient>
<linearGradient id="a106" x1="0" y1="0" x2="0" y2="1"><stop offset="0" stop-color="#96ff69"/><stop offset="0.392" stop-color="#7aff85"/><stop offset="0.5754" stop-color="#6aff95"/><stop offset="0.6205" stop-color="#5fffa0"/><stop offset="0.7277" stop-color="#28ffd7"/><stop offset="0.8038" stop-color="#0dfff2"/><stop offset="0.8715" stop-color="#00fdff"/><stop offset="0.8828" stop-color="#00f3ff"/><stop offset="0.8884" stop-color="#00d8ff"/><stop offset="0.8969" stop-color="#00a8ff"/><stop offset="0.8997" stop-color="#009fff"/><stop offset="0.9646" stop-color="#0053ff"/><stop offset="0.99" stop-color="#0033ff"/><stop offset="0.9984" stop-color="#0033ff"/></linearGradient>
<linearGradient id="a107" x1="0" y1="0" x2="0" y2="1"><stop offset="0" stop-color="#8eff71"/><stop offset="0.3736" stop-color="#75ff8a"/><stop offset="0.6058" stop-color="#5effa1"/><stop offset="0.6794" stop-color="#38ffc7"/><stop offset="0.7784" stop-color="#11ffee"/><stop offset="0.852" stop-color="#03fffc"/><stop offset="0.8747" stop-color="#00fdff"/><stop offset="0.886" stop-color="#00f3ff"/><stop offset="0.8917" stop-color="#00d7ff"/><stop offset="0.9001" stop-color="#00a5ff"/><stop offset="0.903" stop-color="#009bff"/><stop offset="0.9681" stop-color="#004eff"/><stop offset="0.9907" stop-color="#0033ff"/><stop offset="0.9992" stop-color="#0033ff"/></linearGradient>
<linearGradient id="a108" x1="0" y1="0" x2="0" y2="1"><stop offset="0" stop-color="#87ff78"/><stop offset="0.2869" stop-color="#74ff8b"/><stop offset="0.6023" stop-color="#57ffa8"/><stop offset="0.6591" stop-color="#3dffc2"/><stop offset="0.7244" stop-color="#1effe1"/><stop offset="0.8267" stop-color="#01fffe"/><stop offset="0.8778" stop-color="#00f9ff"/><stop offset="0.8864" stop-color="#00f2ff"/><stop offset="0.8892" stop-color="#00e7ff"/><stop offset="0.9006" stop-color="#00a1ff"/><stop offset="0.9034" stop-color="#0097ff"/><stop offset="0.9716" stop-color="#0049ff"/><stop offset="0.9886" stop-color="#0033ff"/><stop offset="1" stop-color="#0033ff"/></linearGradient>
<linearGradient id="a109" x1="0" y1="0" x2="0" y2="1"><stop offset="0" stop-color="#80ff7f"/><stop offset="0.288" stop-color="#6dff92"/><stop offset="0.6045" stop-color="#4effb1"/><stop offset="0.6643" stop-color="#33ffcc"/><stop offset="0.7299" stop-color="#17ffe8"/><stop offset="0.8211" stop-color="#00feff"/><stop offset="0.881" stop-color="#00f4ff"/><stop offset="0.8839" stop-color="#00f2ff"/><stop offset="0.8867" stop-color="#00e8ff"/><stop offset="0.8981" stop-color="#00a1ff"/><stop offset="0.901" stop-color="#0094ff"/><stop offset="0.9894" stop-color="#0033ff"/><stop offset="0.9979" stop-color="#0033ff"/></linearGradient>
<linearGradient id="a110" x1="0" y1="0" x2="0" y2="1"><stop offset="0" stop-color="#79ff86"/><stop offset="0.352" stop-color="#62ff9d"/><stop offset="0.6067" stop-color="#44ffbb"/><stop offset="0.6668" stop-color="#2affd5"/><stop offset="0.7326" stop-color="#10ffef"/><stop offset="0.8041" stop-color="#00fdff"/><stop offset="0.8814" stop-color="#00eeff"/><stop offset="0.8842" stop-color="#00e4ff"/><stop offset="0.8957" stop-color="#009bff"/><stop offset="0.8985" stop-color="#008fff"/><stop offset="0.9901" stop-color="#0033ff"/><stop offset="0.9987" stop-color="#0033ff"/></linearGradient>
<linearGradient id="a111" x1="0" y1="0" x2="0" y2="1"><stop offset="0" stop-color="#72ff8d"/><stop offset="0.3533" stop-color="#5cffa3"/><stop offset="0.6089" stop-color="#3affc5"/><stop offset="0.6692" stop-color="#22ffdd"/><stop offset="0.7352" stop-color="#0afff5"/><stop offset="0.7869" stop-color="#00fcff"/><stop offset="0.8788" stop-color="#00eaff"/><stop offset="0.8817" stop-color="#00e1ff"/><stop offset="0.8875" stop-color="#00bdff"/><stop offset="0.8932" stop-color="#0096ff"/><stop offset="0.8961" stop-color="#008aff"/><stop offset="0.9909" stop-color="#0033ff"/><stop offset="0.9995" stop-color="#0033ff"/></linearGradient>
<linearGradient id="a112" x1="0" y1="0" x2="0" y2="1"><stop offset="0" stop-color="#6bff94"/><stop offset="0.3488" stop-color="#56ffa9"/><stop offset="0.6082" stop-color="#30ffcf"/><stop offset="0.6774" stop-color="#16ffe9"/><stop offset="0.7524" stop-color="#00ffff"/><stop offset="0.8561" stop-color="#00ebff"/><stop offset="0.8763" stop-color="#00e6ff"/><stop offset="0.8792" stop-color="#00deff"/><stop offset="0.885" stop-color="#00b9ff"/><stop offset="0.8907" stop-color="#0092ff"/><stop offset="0.8936" stop-color="#0084ff"/><stop offset="0.9916" stop-color="#0033ff"/><stop offset="0.9974" stop-color="#0033ff"/></linearGradient>
<linearGradient id="a113" x1="0" y1="0" x2="0" y2="1"><stop offset="0" stop-color="#65ff9a"/><stop offset="0.3414" stop-color="#51ffae"/><stop offset="0.6018" stop-color="#27ffd8"/><stop offset="0.7262" stop-color="#00feff"/><stop offset="0.8419" stop-color="#00e7ff"/><stop offset="0.8737" stop-color="#00e1ff"/><stop offset="0.8766" stop-color="#00d6ff"/><stop offset="0.8882" stop-color="#0089ff"/><stop offset="0.8911" stop-color="#007dff"/><stop offset="0.9895" stop-color="#0033ff"/><stop offset="0.9981" stop-color="#0033ff"/></linearGradient>
<linearGradient id="a114" x1="0" y1="0" x2="0" y2="1"><stop offset="0" stop-color="#5fffa0"/><stop offset="0.3339" stop-color="#4cffb3"/><stop offset="0.5924" stop-color="#20ffdf"/><stop offset="0.7027" stop-color="#00fdff"/><stop offset="0.8392" stop-color="#00e1ff"/><stop offset="0.8682" stop-color="#00dfff"/><stop offset="0.8711" stop-color="#00d8ff"/><stop offset="0.877" stop-color="#00b7ff"/><stop offset="0.8828" stop-color="#0090ff"/><stop offset="0.8857" stop-color="#0080ff"/><stop offset="0.8886" stop-color="#0077ff"/><stop offset="0.9902" stop-color="#0033ff"/><stop offset="0.9989" stop-color="#0033ff"/></linearGradient>
<linearGradient id="a115" x1="0" y1="0" x2="0" y2="1"><stop offset="0" stop-color="#58ffa7"/><stop offset="0.2652" stop-color="#4bffb4"/><stop offset="0.3381" stop-color="#45ffba"/><stop offset="0.5829" stop-color="#19ffe6"/><stop offset="0.6791" stop-color="#00fdff"/><stop offset="0.8394" stop-color="#00dbff"/><stop offset="0.8656" stop-color="#00d8ff"/><stop offset="0.8685" stop-color="#00ceff"/><stop offset="0.8802" stop-color="#0088ff"/><stop offset="0.8831" stop-color="#007aff"/><stop offset="0.886" stop-color="#0072ff"/><stop offset="0.991" stop-color="#0033ff"/><stop offset="0.9997" stop-color="#0033ff"/></linearGradient>
<linearGradient id="a116" x1="0" y1="0" x2="0" y2="1"><stop offset="0" stop-color="#52ffad"/><stop offset="0.2574" stop-color="#44ffbb"/><stop offset="0.3306" stop-color="#40ffbf"/><stop offset="0.5675" stop-color="#14ffeb"/><stop offset="0.6494" stop-color="#00fdff"/><stop offset="0.8425" stop-color="#00d3ff"/><stop offset="0.8601" stop-color="#00d4ff"/><stop offset="0.863" stop-color="#00d0ff"/><stop offset="0.8688" stop-color="#00b8ff"/><stop offset="0.8805" stop-color="#0079ff"/><stop offset="0.8835" stop-color="#0070ff"/><stop offset="0.9917" stop-color="#0033ff"/><stop offset="0.9975" stop-color="#0033ff"/></linearGradient>
<linearGradient id="a117" x1="0" y1="0" x2="0" y2="1"><stop offset="0" stop-color="#4cffb3"/><stop offset="0.2555" stop-color="#3cffc3"/><stop offset="0.3347" stop-color="#37ffc8"/><stop offset="0.5491" stop-color="#10ffef"/><stop offset="0.6225" stop-color="#00fdff"/><stop offset="0.8456" stop-color="#00ccff"/><stop offset="0.8574" stop-color="#00ccff"/><stop offset="0.8632" stop-color="#00bdff"/><stop offset="0.8779" stop-color="#0079ff"/><stop offset="0.8838" stop-color="#006aff"/><stop offset="0.9924" stop-color="#0033ff"/><stop offset="0.9983" stop-color="#0033ff"/></linearGradient>
<linearGradient id="a118" x1="0" y1="0" x2="0" y2="1"><stop offset="0" stop-color="#46ffb9"/><stop offset="0.2623" stop-color="#34ffcb"/><stop offset="0.3507" stop-color="#2cffd3"/><stop offset="0.5305" stop-color="#0dfff2"/><stop offset="0.5983" stop-color="#00fcff"/><stop offset="0.8164" stop-color="#00cbff"/><stop offset="0.8547" stop-color="#00c3ff"/><stop offset="0.8606" stop-color="#00b5ff"/><stop offset="0.8783" stop-color="#0070ff"/><stop offset="0.8841" stop-color="#0067ff"/><stop offset="0.9932" stop-color="#0033ff"/><stop offset="0.9991" stop-color="#0033ff"/></linearGradient>
<linearGradient id="a119" x1="0" y1="0" x2="0" y2="1"><stop offset="0" stop-color="#40ffbf"/><stop offset="0.2781" stop-color="#2bffd4"/><stop offset="0.5088" stop-color="#0bfff4"/><stop offset="0.5709" stop-color="#00fcff"/><stop offset="0.8135" stop-color="#00c8ff"/><stop offset="0.8519" stop-color="#00bcff"/><stop offset="0.8608" stop-color="#00a8ff"/><stop offset="0.8786" stop-color="#006cff"/><stop offset="0.8845" stop-color="#0064ff"/><stop offset="0.991" stop-color="#0033ff"/><stop offset="0.9999" stop-color="#0033ff"/></linearGradient>
<linearGradient id="a120" x1="0" y1="0" x2="0" y2="1"><stop offset="0" stop-color="#3bffc4"/><stop offset="0.389" stop-color="#14ffeb"/><stop offset="0.5107" stop-color="#04fffb"/><stop offset="0.5523" stop-color="#00faff"/><stop offset="0.8195" stop-color="#00c4ff"/><stop offset="0.8522" stop-color="#00b9ff"/><stop offset="0.8611" stop-color="#00a4ff"/><stop offset="0.8789" stop-color="#006bff"/><stop offset="0.8848" stop-color="#0062ff"/><stop offset="0.9917" stop-color="#0033ff"/><stop offset="0.9977" stop-color="#0033ff"/></linearGradient>
<linearGradient id="a121" x1="0" y1="0" x2="0" y2="1"><stop offset="0" stop-color="#35ffca"/><stop offset="0.5096" stop-color="#00fdff"/><stop offset="0.7451" stop-color="#00d1ff"/><stop offset="0.8524" stop-color="#00b8ff"/><stop offset="0.8613" stop-color="#00a4ff"/><stop offset="0.8792" stop-color="#006cff"/><stop offset="0.8852" stop-color="#0061ff"/><stop offset="0.9925" stop-color="#0033ff"/><stop offset="0.9984" stop-color="#0033ff"/></linearGradient>
<linearGradient id="a122" x1="0" y1="0" x2="0" y2="1"><stop offset="0" stop-color="#2fffd0"/><stop offset="0.4398" stop-color="#00ffff"/><stop offset="0.5175" stop-color="#00f5ff"/><stop offset="0.7599" stop-color="#00cbff"/><stop offset="0.8526" stop-color="#00b7ff"/><stop offset="0.8616" stop-color="#00a7ff"/><stop offset="0.8825" stop-color="#0067ff"/><stop offset="0.8915" stop-color="#005cff"/><stop offset="0.9932" stop-color="#0033ff"/><stop offset="0.9992" stop-color="#0033ff"/></linearGradient>
<linearGradient id="a123" x1="0" y1="0" x2="0" y2="1"><stop offset="0" stop-color="#29ffd6"/><stop offset="0.3513" stop-color="#00feff"/><stop offset="0.5165" stop-color="#00efff"/><stop offset="0.7687" stop-color="#00c7ff"/><stop offset="0.8558" stop-color="#00b4ff"/><stop offset="0.8648" stop-color="#00a3ff"/><stop offset="0.8829" stop-color="#006aff"/><stop offset="0.8919" stop-color="#005bff"/><stop offset="0.994" stop-color="#0033ff"/><stop offset="1" stop-color="#0033ff"/></linearGradient>
<linearGradient id="a124" x1="0" y1="0" x2="0" y2="1"><stop offset="0" stop-color="#22ffdd"/><stop offset="0.2924" stop-color="#00fcff"/><stop offset="0.5275" stop-color="#00e7ff"/><stop offset="0.8259" stop-color="#00b9ff"/><stop offset="0.8591" stop-color="#00b0ff"/><stop offset="0.8681" stop-color="#009dff"/><stop offset="0.8862" stop-color="#0066ff"/><stop offset="0.8952" stop-color="#0058ff"/><stop offset="0.9947" stop-color="#0033ff"/><stop offset="0.9977" stop-color="#0033ff"/></linearGradient>
<linearGradient id="a125" x1="0" y1="0" x2="0" y2="1"><stop offset="0" stop-color="#1cffe3"/><stop offset="0.2421" stop-color="#00fcff"/><stop offset="0.3903" stop-color="#00ecff"/><stop offset="0.5325" stop-color="#00e0ff"/><stop offset="0.8291" stop-color="#00b5ff"/><stop offset="0.8623" stop-color="#00abff"/><stop offset="0.8714" stop-color="#0097ff"/><stop offset="0.8896" stop-color="#0062ff"/><stop offset="0.8987" stop-color="#0056ff"/><stop offset="0.9925" stop-color="#0033ff"/><stop offset="0.9985" stop-color="#0033ff"/></linearGradient>
<linearGradient id="a126" x1="0" y1="0" x2="0" y2="1"><stop offset="0" stop-color="#15ffea"/><stop offset="0.1883" stop-color="#00fcff"/><stop offset="0.3827" stop-color="#00e6ff"/><stop offset="0.5406" stop-color="#00d9ff"/><stop offset="0.8322" stop-color="#00b1ff"/><stop offset="0.8656" stop-color="#00a6ff"/><stop offset="0.8778" stop-color="#0087ff"/><stop offset="0.893" stop-color="#005eff"/><stop offset="0.9021" stop-color="#0053ff"/><stop offset="0.9932" stop-color="#0033ff"/><stop offset="0.9993" stop-color="#0033ff"/></linearGradient>
<linearGradient id="a127" x1="0" y1="0" x2="0" y2="1"><stop offset="0" stop-color="#0efff1"/><stop offset="0.1403" stop-color="#00fcff"/><stop offset="0.3811" stop-color="#00dfff"/><stop offset="0.5488" stop-color="#00d2ff"/><stop offset="0.8324" stop-color="#00adff"/><stop offset="0.8659" stop-color="#00a3ff"/><stop offset="0.8751" stop-color="#0092ff"/><stop offset="0.8933" stop-color="#005fff"/><stop offset="0.9025" stop-color="#0052ff"/><stop offset="0.994" stop-color="#0033ff"/><stop offset="0.997" stop-color="#0033ff"/></linearGradient>
<linearGradient id="a128" x1="0" y1="0" x2="0" y2="1"><stop offset="0" stop-color="#08fff7"/><stop offset="0.101" stop-color="#00fcff"/><stop offset="0.3795" stop-color="#00d9ff"/><stop offset="0.5601" stop-color="#00cbff"/><stop offset="0.8294" stop-color="#00aaff"/><stop offset="0.8692" stop-color="#009dff"/><stop offset="0.8815" stop-color="#0081ff"/><stop offset="0.8968" stop-color="#005aff"/><stop offset="0.906" stop-color="#0050ff"/><stop offset="0.9947" stop-color="#0033ff"/><stop offset="0.9978" stop-color="#0033ff"/></linearGradient>
<linearGradient id="a129" x1="0" y1="0" x2="0" y2="1"><stop offset="0" stop-color="#03fffc"/><stop offset="0.07989" stop-color="#00f9ff"/><stop offset="0.3779" stop-color="#00d4ff"/><stop offset="0.5746" stop-color="#00c5ff"/><stop offset="0.8265" stop-color="#00a7ff"/><stop offset="0.8695" stop-color="#009bff"/><stop offset="0.8787" stop-color="#008aff"/><stop offset="0.8972" stop-color="#005bff"/><stop offset="0.9064" stop-color="#004fff"/><stop offset="0.9955" stop-color="#0033ff"/><stop offset="0.9986" stop-color="#0033ff"/></linearGradient>
<linearGradient id="a130" x1="0" y1="0" x2="0" y2="1"><stop offset="0" stop-color="#00fdff"/><stop offset="0.3825" stop-color="#00ceff"/><stop offset="0.5984" stop-color="#00bdff"/><stop offset="0.8235" stop-color="#00a4ff"/><stop offset="0.8729" stop-color="#0095ff"/><stop offset="0.8852" stop-color="#007bff"/><stop offset="0.9007" stop-color="#0056ff"/><stop offset="0.9099" stop-color="#004cff"/><stop offset="0.9963" stop-color="#0033ff"/><stop offset="0.9994" stop-color="#0033ff"/></linearGradient>
<linearGradient id="a131" x1="0" y1="0" x2="0" y2="1"><stop offset="0" stop-color="#00f8ff"/><stop offset="0.3778" stop-color="#00c9ff"/><stop offset="0.6472" stop-color="#00b4ff"/><stop offset="0.8236" stop-color="#00a0ff"/><stop offset="0.8763" stop-color="#008fff"/><stop offset="0.8918" stop-color="#006cff"/><stop offset="0.9042" stop-color="#0052ff"/><stop offset="0.9134" stop-color="#004aff"/><stop offset="0.994" stop-color="#0033ff"/><stop offset="0.997" stop-color="#0033ff"/></linearGradient>
<linearGradient id="a132" x1="0" y1="0" x2="0" y2="1"><stop offset="0" stop-color="#00f4ff"/><stop offset="0.3699" stop-color="#00c5ff"/><stop offset="0.774" stop-color="#00a4ff"/><stop offset="0.8611" stop-color="#0092ff"/><stop offset="0.8797" stop-color="#0088ff"/><stop offset="0.9046" stop-color="#0053ff"/><stop offset="0.9139" stop-color="#0049ff"/><stop offset="0.9947" stop-color="#0033ff"/><stop offset="0.9978" stop-color="#0033ff"/></linearGradient>
<linearGradient id="a133" x1="0" y1="0" x2="0" y2="1"><stop offset="0" stop-color="#00efff"/><stop offset="0.3558" stop-color="#00c1ff"/><stop offset="0.7708" stop-color="#00a1ff"/><stop offset="0.8613" stop-color="#008eff"/><stop offset="0.88" stop-color="#0086ff"/><stop offset="0.8956" stop-color="#0068ff"/><stop offset="0.9113" stop-color="#004bff"/><stop offset="0.9924" stop-color="#0033ff"/><stop offset="0.9986" stop-color="#0033ff"/></linearGradient>
<linearGradient id="a134" x1="0" y1="0" x2="0" y2="1"><stop offset="0" stop-color="#00ecff"/><stop offset="0.3478" stop-color="#00bdff"/><stop offset="0.7457" stop-color="#00a1ff"/><stop offset="0.8522" stop-color="#008eff"/><stop offset="0.8835" stop-color="#0080ff"/><stop offset="0.9117" stop-color="#004cff"/><stop offset="0.9242" stop-color="#0044ff"/><stop offset="0.9963" stop-color="#0033ff"/><stop offset="0.9994" stop-color="#0033ff"/></linearGradient>
<linearGradient id="a135" x1="0" y1="0" x2="0" y2="1"><stop offset="0" stop-color="#00e8ff"/><stop offset="0.2674" stop-color="#00c2ff"/><stop offset="0.4215" stop-color="#00b2ff"/><stop offset="0.7234" stop-color="#00a0ff"/><stop offset="0.8493" stop-color="#008bff"/><stop offset="0.887" stop-color="#007aff"/><stop offset="0.9122" stop-color="#004dff"/><stop offset="0.9248" stop-color="#0043ff"/><stop offset="0.9971" stop-color="#0033ff"/></linearGradient>
<linearGradient id="a136" x1="0" y1="0" x2="0" y2="1"><stop offset="0" stop-color="#00e4ff"/><stop offset="0.259" stop-color="#00bfff"/><stop offset="0.4263" stop-color="#00adff"/><stop offset="0.7137" stop-color="#009fff"/><stop offset="0.8526" stop-color="#0087ff"/><stop offset="0.8874" stop-color="#0078ff"/><stop offset="0.9158" stop-color="#004aff"/><stop offset="0.9316" stop-color="#0041ff"/><stop offset="0.9979" stop-color="#0033ff"/></linearGradient>
<linearGradient id="a137" x1="0" y1="0" x2="0" y2="1"><stop offset="0" stop-color="#00e0ff"/><stop offset="0.241" stop-color="#00bdff"/><stop offset="0.4027" stop-color="#00abff"/><stop offset="0.6246" stop-color="#00a2ff"/><stop offset="0.7451" stop-color="#0097ff"/><stop offset="0.8656" stop-color="#007fff"/><stop offset="0.8909" stop-color="#0072ff"/><stop offset="0.9195" stop-color="#0048ff"/><stop offset="0.9417" stop-color="#003fff"/><stop offset="0.9987" stop-color="#0033ff"/></linearGradient>
<linearGradient id="a138" x1="0" y1="0" x2="0" y2="1"><stop offset="0" stop-color="#00dcff"/><stop offset="0.2196" stop-color="#00bcff"/><stop offset="0.3884" stop-color="#00a7ff"/><stop offset="0.5921" stop-color="#009fff"/><stop offset="0.7067" stop-color="#009aff"/><stop offset="0.8659" stop-color="#007cff"/><stop offset="0.8945" stop-color="#006dff"/><stop offset="0.92" stop-color="#0049ff"/><stop offset="0.9391" stop-color="#003fff"/><stop offset="0.9996" stop-color="#0033ff"/></linearGradient>
<linearGradient id="a139" x1="0" y1="0" x2="0" y2="1"><stop offset="0" stop-color="#00d9ff"/><stop offset="0.2109" stop-color="#00b9ff"/><stop offset="0.3803" stop-color="#00a3ff"/><stop offset="0.5785" stop-color="#009bff"/><stop offset="0.6968" stop-color="#0099ff"/><stop offset="0.8693" stop-color="#0077ff"/><stop offset="0.8981" stop-color="#0069ff"/><stop offset="0.9237" stop-color="#0047ff"/><stop offset="0.9524" stop-color="#003cff"/><stop offset="0.9972" stop-color="#0033ff"/></linearGradient>
<linearGradient id="a140" x1="0" y1="0" x2="0" y2="1"><stop offset="0" stop-color="#00d6ff"/><stop offset="0.2115" stop-color="#00b7ff"/><stop offset="0.3782" stop-color="#00a1ff"/><stop offset="0.5737" stop-color="#0098ff"/><stop offset="0.6955" stop-color="#0098ff"/><stop offset="0.8718" stop-color="#0074ff"/><stop offset="0.9007" stop-color="#0066ff"/><stop offset="0.9263" stop-color="#0046ff"/><stop offset="0.9808" stop-color="#0035ff"/><stop offset="0.9968" stop-color="#0033ff"/></linearGradient>
<clipPath id="cpa"><rect x="121.90" y="26.80" width="575.70" height="484.80"/></clipPath>
<filter id="fa" filterUnits="userSpaceOnUse" x="91.9" y="21.8" width="635.7" height="496.2"><feGaussianBlur stdDeviation="2.0 0"/></filter>
<linearGradient id="b0" x1="0" y1="0" x2="0" y2="1"><stop offset="0" stop-color="#001dff"/><stop offset="0.9994" stop-color="#001dff"/></linearGradient>
<linearGradient id="b1" x1="0" y1="0" x2="0" y2="1"><stop offset="0" stop-color="#001aff"/><stop offset="0.9988" stop-color="#001aff"/></linearGradient>
<linearGradient id="b2" x1="0" y1="0" x2="0" y2="1"><stop offset="0" stop-color="#001aff"/><stop offset="0.9982" stop-color="#001aff"/></linearGradient>
<linearGradient id="b3" x1="0" y1="0" x2="0" y2="1"><stop offset="0" stop-color="#001aff"/><stop offset="0.9975" stop-color="#001aff"/></linearGradient>
<linearGradient id="b4" x1="0" y1="0" x2="0" y2="1"><stop offset="0" stop-color="#001cff"/><stop offset="0.9995" stop-color="#001cff"/></linearGradient>
<linearGradient id="b5" x1="0" y1="0" x2="0" y2="1"><stop offset="0" stop-color="#001dff"/><stop offset="0.9988" stop-color="#001dff"/></linearGradient>
<linearGradient id="b6" x1="0" y1="0" x2="0" y2="1"><stop offset="0" stop-color="#001cff"/><stop offset="0.9982" stop-color="#001cff"/></linearGradient>
<linearGradient id="b7" x1="0" y1="0" x2="0" y2="1"><stop offset="0" stop-color="#001bff"/><stop offset="0.9976" stop-color="#001bff"/></linearGradient>
<linearGradient id="b8" x1="0" y1="0" x2="0" y2="1"><stop offset="0" stop-color="#0017ff"/><stop offset="0.9995" stop-color="#0017ff"/></linearGradient>
<linearGradient id="b9" x1="0" y1="0" x2="0" y2="1"><stop offset="0" stop-color="#0011ff"/><stop offset="0.9989" stop-color="#0011ff"/></linearGradient>
<linearGradient id="b10" x1="0" y1="0" x2="0" y2="1"><stop offset="0" stop-color="#000cff"/><stop offset="0.9983" stop-color="#000cff"/></linearGradient>
<linearGradient id="b11" x1="0" y1="0" x2="0" y2="1"><stop offset="0" stop-color="#000bff"/><stop offset="0.9977" stop-color="#000bff"/></linearGradient>
<linearGradient id="b12" x1="0" y1="0" x2="0" y2="1"><stop offset="0" stop-color="#000bff"/><stop offset="0.9995" stop-color="#000bff"/></linearGradient>
<linearGradient id="b13" x1="0" y1="0" x2="0" y2="1"><stop offset="0" stop-color="#0009ff"/><stop offset="0.9989" stop-color="#0009ff"/></linearGradient>
<linearGradient id="b14" x1="0" y1="0" x2="0" y2="1"><stop offset="0" stop-color="#0007ff"/><stop offset="0.9983" stop-color="#0007ff"/></linearGradient>
<linearGradient id="b15" x1="0" y1="0" x2="0" y2="1"><stop offset="0" stop-color="#0007ff"/><stop offset="0.9977" stop-color="#0007ff"/></linearGradient>
<linearGradient id="b16" x1="0" y1="0" x2="0" y2="1"><stop offset="0" stop-color="#0009ff"/><stop offset="0.9996" stop-color="#0009ff"/></linearGradient>
<linearGradient id="b17" x1="0" y1="0" x2="0" y2="1"><stop offset="0" stop-color="#0009ff"/><stop offset="0.999" stop-color="#0009ff"/></linearGradient>
<linearGradient id="b18" x1="0" y1="0" x2="0" y2="1"><stop offset="0" stop-color="#0005ff"/><stop offset="0.9984" stop-color="#0005ff"/></linearGradient>
<linearGradient id="b19" x1="0" y1="0" x2="0" y2="1"><stop offset="0" stop-color="#0001ff"/><stop offset="0.9978" stop-color="#0001ff"/></linearGradient>
<linearGradient id="b20" x1="0" y1="0" x2="0" y2="1"><stop offset="0" stop-color="#0003ff"/><stop offset="0.9996" stop-color="#0003ff"/></linearGradient>
<linearGradient id="b21" x1="0" y1="0" x2="0" y2="1"><stop offset="0" stop-color="#0005ff"/><stop offset="0.999" stop-color="#0005ff"/></linearGradient>
<linearGradient id="b22" x1="0" y1="0" x2="0" y2="1"><stop offset="0" stop-color="#0006ff"/><stop offset="0.9984" stop-color="#0006ff"/></linearGradient>
<linearGradient id="b23" x1="0" y1="0" x2="0" y2="1"><stop offset="0" stop-color="#0006ff"/><stop offset="0.9979" stop-color="#0006ff"/></linearGradient>
<linearGradient id="b24" x1="0" y1="0" x2="0" y2="1"><stop offset="0" stop-color="#0005ff"/><stop offset="0.9997" stop-color="#0005ff"/></linearGradient>
<linearGradient id="b25" x1="0" y1="0" x2="0" y2="1"><stop offset="0" stop-color="#0002ff"/><stop offset="0.9991" stop-color="#0002ff"/></linearGradient>
<linearGradient id="b26" x1="0" y1="0" x2="0" y2="1"><stop offset="0" stop-color="#0000fd"/><stop offset="0.9985" stop-color="#0000fd"/></linearGradient>
<linearGradient id="b27" x1="0" y1="0" x2="0" y2="1"><stop offset="0" stop-color="#0001ff"/><stop offset="0.9979" stop-color="#0001ff"/></linearGradient>
<linearGradient id="b28" x1="0" y1="0" x2="0" y2="1"><stop offset="0" stop-color="#0003ff"/><stop offset="0.9997" stop-color="#0003ff"/></linearGradient>
<linearGradient id="b29" x1="0" y1="0" x2="0" y2="1"><stop offset="0" stop-color="#0003ff"/><stop offset="0.9991" stop-color="#0003ff"/></linearGradient>
<linearGradient id="b30" x1="0" y1="0" x2="0" y2="1"><stop offset="0" stop-color="#0002ff"/><stop offset="0.9985" stop-color="#0002ff"/></linearGradient>
<linearGradient id="b31" x1="0" y1="0" x2="0" y2="1"><stop offset="0" stop-color="#0000ff"/><stop offset="0.998" stop-color="#0000ff"/></linearGradient>
<linearGradient id="b32" x1="0" y1="0" x2="0" y2="1"><stop offset="0" stop-color="#0000fa"/><stop offset="0.9997" stop-color="#0000fa"/></linearGradient>
<linearGradient id="b33" x1="0" y1="0" x2="0" y2="1"><stop offset="0" stop-color="#0000f6"/><stop offset="0.9992" stop-color="#0000f6"/></linearGradient>
<linearGradient id="b34" x1="0" y1="0" x2="0" y2="1"><stop offset="0" stop-color="#0000f9"/><stop offset="0.9986" stop-color="#0000f9"/></linearGradient>
<linearGradient id="b35" x1="0" y1="0" x2="0" y2="1"><stop offset="0" stop-color="#0000fd"/><stop offset="0.998" stop-color="#0000fd"/></linearGradient>
<linearGradient id="b36" x1="0" y1="0" x2="0" y2="1"><stop offset="0" stop-color="#0000fc"/><stop offset="0.9998" stop-color="#0000fc"/></linearGradient>
<linearGradient id="b37" x1="0" y1="0" x2="0" y2="1"><stop offset="0" stop-color="#0000fa"/><stop offset="0.9992" stop-color="#0000fa"/></linearGradient>
<linearGradient id="b38" x1="0" y1="0" x2="0" y2="1"><stop offset="0" stop-color="#0000f9"/><stop offset="0.9986" stop-color="#0000f9"/></linearGradient>
<linearGradient id="b39" x1="0" y1="0" x2="0" y2="1"><stop offset="0" stop-color="#0000f9"/><stop offset="0.9981" stop-color="#0000f9"/></linearGradient>
<linearGradient id="b40" x1="0" y1="0" x2="0" y2="1"><stop offset="0" stop-color="#0000fa"/><stop offset="0.9998" stop-color="#0000fa"/></linearGradient>
<linearGradient id="b41" x1="0" y1="0" x2="0" y2="1"><stop offset="0" stop-color="#0000f9"/><stop offset="0.9992" stop-color="#0000f9"/></linearGradient>
<linearGradient id="b42" x1="0" y1="0" x2="0" y2="1"><stop offset="0" stop-color="#0000f8"/><stop offset="0.9987" stop-color="#0000f8"/></linearGradient>
<linearGradient id="b43" x1="0" y1="0" x2="0" y2="1"><stop offset="0" stop-color="#0000f9"/><stop offset="0.9981" stop-color="#0000f9"/></linearGradient>
<linearGradient id="b44" x1="0" y1="0" x2="0" y2="1"><stop offset="0" stop-color="#0000fc"/><stop offset="0.9998" stop-color="#0000fc"/></linearGradient>
<linearGradient id="b45" x1="0" y1="0" x2="0" y2="1"><stop offset="0" stop-color="#0000fc"/><stop offset="0.9993" stop-color="#0000fc"/></linearGradient>
<linearGradient id="b46" x1="0" y1="0" x2="0" y2="1"><stop offset="0" stop-color="#0000fa"/><stop offset="0.9987" stop-color="#0000fa"/></linearGradient>
<linearGradient id="b47" x1="0" y1="0" x2="0" y2="1"><stop offset="0" stop-color="#0000f8"/><stop offset="0.9982" stop-color="#0000f8"/></linearGradient>
<linearGradient id="b48" x1="0" y1="0" x2="0" y2="1"><stop offset="0" stop-color="#0000f6"/><stop offset="0.9999" stop-color="#0000f6"/></linearGradient>
<linearGradient id="b49" x1="0" y1="0" x2="0" y2="1"><stop offset="0" stop-color="#0000f4"/><stop offset="0.9993" stop-color="#0000f4"/></linearGradient>
<linearGradient id="b50" x1="0" y1="0" x2="0" y2="1"><stop offset="0" stop-color="#0000f5"/><stop offset="0.9988" stop-color="#0000f5"/></linearGradient>
<linearGradient id="b51" x1="0" y1="0" x2="0" y2="1"><stop offset="0" stop-color="#0000f8"/><stop offset="0.9982" stop-color="#0000f8"/></linearGradient>
<linearGradient id="b52" x1="0" y1="0" x2="0" y2="1"><stop offset="0" stop-color="#0000f9"/><stop offset="0.9999" stop-color="#0000f9"/></linearGradient>
<linearGradient id="b53" x1="0" y1="0" x2="0" y2="1"><stop offset="0" stop-color="#0000fb"/><stop offset="0.9993" stop-color="#0000fb"/></linearGradient>
<linearGradient id="b54" x1="0" y1="0" x2="0" y2="1"><stop offset="0" stop-color="#0000fb"/><stop offset="0.9988" stop-color="#0000fb"/></linearGradient>
<linearGradient id="b55" x1="0" y1="0" x2="0" y2="1"><stop offset="0" stop-color="#0000f7"/><stop offset="0.9983" stop-color="#0000f7"/></linearGradient>
<linearGradient id="b56" x1="0" y1="0" x2="0" y2="1"><stop offset="0" stop-color="#0000f4"/><stop offset="0.9999" stop-color="#0000f4"/></linearGradient>
<linearGradient id="b57" x1="0" y1="0" x2="0" y2="1"><stop offset="0" stop-color="#0000f2"/><stop offset="0.9994" stop-color="#0000f2"/></linearGradient>
<linearGradient id="b58" x1="0" y1="0" x2="0" y2="1"><stop offset="0" stop-color="#0000f1"/><stop offset="0.9989" stop-color="#0000f1"/></linearGradient>
<linearGradient id="b59" x1="0" y1="0" x2="0" y2="1"><stop offset="0" stop-color="#0000f1"/><stop offset="0.9983" stop-color="#0000f1"/></linearGradient>
<linearGradient id="b60" x1="0" y1="0" x2="0" y2="1"><stop offset="0" stop-color="#0000f2"/><stop offset="1" stop-color="#0000f2"/></linearGradient>
<linearGradient id="b61" x1="0" y1="0" x2="0" y2="1"><stop offset="0" stop-color="#0000f3"/><stop offset="0.9994" stop-color="#0000f3"/></linearGradient>
<linearGradient id="b62" x1="0" y1="0" x2="0" y2="1"><stop offset="0" stop-color="#0000f7"/><stop offset="0.9989" stop-color="#0000f7"/></linearGradient>
<linearGradient id="b63" x1="0" y1="0" x2="0" y2="1"><stop offset="0" stop-color="#0000fa"/><stop offset="0.9984" stop-color="#0000fa"/></linearGradient>
<linearGradient id="b64" x1="0" y1="0" x2="0" y2="1"><stop offset="0" stop-color="#0000fa"/><stop offset="1" stop-color="#0000fa"/></linearGradient>
<linearGradient id="b65" x1="0" y1="0" x2="0" y2="1"><stop offset="0" stop-color="#0000fa"/><stop offset="0.9995" stop-color="#0000fa"/></linearGradient>
<linearGradient id="b66" x1="0" y1="0" x2="0" y2="1"><stop offset="0" stop-color="#0000f9"/><stop offset="0.9989" stop-color="#0000f9"/></linearGradient>
<linearGradient id="b67" x1="0" y1="0" x2="0" y2="1"><stop offset="0" stop-color="#0000f6"/><stop offset="0.9984" stop-color="#0000f6"/></linearGradient>
<linearGradient id="b68" x1="0" y1="0" x2="0" y2="1"><stop offset="0" stop-color="#0000f5"/><stop offset="0.9979" stop-color="#0000f5"/></linearGradient>
<linearGradient id="b69" x1="0" y1="0" x2="0" y2="1"><stop offset="0" stop-color="#0000f6"/><stop offset="0.9995" stop-color="#0000f6"/></linearGradient>
<linearGradient id="b70" x1="0" y1="0" x2="0" y2="1"><stop offset="0" stop-color="#0000f7"/><stop offset="0.999" stop-color="#0000f7"/></linearGradient>
<linearGradient id="b71" x1="0" y1="0" x2="0" y2="1"><stop offset="0" stop-color="#0000f6"/><stop offset="0.9985" stop-color="#0000f6"/></linearGradient>
<linearGradient id="b72" x1="0" y1="0" x2="0" y2="1"><stop offset="0" stop-color="#0000f5"/><stop offset="0.9979" stop-color="#0000f5"/></linearGradient>
<linearGradient id="b73" x1="0" y1="0" x2="0" y2="1"><stop offset="0" stop-color="#0000f3"/><stop offset="0.9995" stop-color="#0000f3"/></linearGradient>
<linearGradient id="b74" x1="0" y1="0" x2="0" y2="1"><stop offset="0" stop-color="#0000ef"/><stop offset="0.999" stop-color="#0000ef"/></linearGradient>
<linearGradient id="b75" x1="0" y1="0" x2="0" y2="1"><stop offset="0" stop-color="#0000ec"/><stop offset="0.9985" stop-color="#0000ec"/></linearGradient>
<linearGradient id="b76" x1="0" y1="0" x2="0" y2="1"><stop offset="0" stop-color="#0000e9"/><stop offset="0.998" stop-color="#0000e9"/></linearGradient>
<linearGradient id="b77" x1="0" y1="0" x2="0" y2="1"><stop offset="0" stop-color="#0000e7"/><stop offset="0.9996" stop-color="#0000e7"/></linearGradient>
<linearGradient id="b78" x1="0" y1="0" x2="0" y2="1"><stop offset="0" stop-color="#0000ea"/><stop offset="0.999" stop-color="#0000ea"/></linearGradient>
<linearGradient id="b79" x1="0" y1="0" x2="0" y2="1"><stop offset="0" stop-color="#0000ee"/><stop offset="1" stop-color="#0000ee"/></linearGradient>
<linearGradient id="b80" x1="0" y1="0" x2="0" y2="1"><stop offset="0" stop-color="#0000ee"/><stop offset="1" stop-color="#0000ee"/></linearGradient>
<linearGradient id="b81" x1="0" y1="0" x2="0" y2="1"><stop offset="0" stop-color="#0000ed"/><stop offset="1" stop-color="#0000ed"/></linearGradient>
<linearGradient id="b82" x1="0" y1="0" x2="0" y2="1"><stop offset="0" stop-color="#0000ec"/><stop offset="1" stop-color="#0000ec"/></linearGradient>
<linearGradient id="b83" x1="0" y1="0" x2="0" y2="1"><stop offset="0" stop-color="#0000ea"/><stop offset="1" stop-color="#0000ea"/></linearGradient>
<linearGradient id="b84" x1="0" y1="0" x2="0" y2="1"><stop offset="0" stop-color="#0000e8"/><stop offset="1" stop-color="#0000e8"/></linearGradient>
<linearGradient id="b85" x1="0" y1="0" x2="0" y2="1"><stop offset="0" stop-color="#0000e7"/><stop offset="1" stop-color="#0000e7"/></linearGradient>
<linearGradient id="b86" x1="0" y1="0" x2="0" y2="1"><stop offset="0" stop-color="#0000e5"/><stop offset="1" stop-color="#0000e5"/></linearGradient>
<linearGradient id="b87" x1="0" y1="0" x2="0" y2="1"><stop offset="0" stop-color="#0000e6"/><stop offset="1" stop-color="#0000e6"/></linearGradient>
<linearGradient id="b88" x1="0" y1="0" x2="0" y2="1"><stop offset="0" stop-color="#0000e7"/><stop offset="1" stop-color="#0000e7"/></linearGradient>
<linearGradient id="b89" x1="0" y1="0" x2="0" y2="1"><stop offset="0" stop-color="#0000e7"/><stop offset="1" stop-color="#0000e7"/></linearGradient>
<linearGradient id="b90" x1="0" y1="0" x2="0" y2="1"><stop offset="0" stop-color="#0000e7"/><stop offset="1" stop-color="#0000e7"/></linearGradient>
<linearGradient id="b91" x1="0" y1="0" x2="0" y2="1"><stop offset="0" stop-color="#0000e7"/><stop offset="1" stop-color="#0000e7"/></linearGradient>
<linearGradient id="b92" x1="0" y1="0" x2="0" y2="1"><stop offset="0" stop-color="#0000e5"/><stop offset="1" stop-color="#0000e5"/></linearGradient>
<linearGradient id="b93" x1="0" y1="0" x2="0" y2="1"><stop offset="0" stop-color="#0000e3"/><stop offset="1" stop-color="#0000e3"/></linearGradient>
<linearGradient id="b94" x1="0" y1="0" x2="0" y2="1"><stop offset="0" stop-color="#0000e3"/><stop offset="1" stop-color="#0000e3"/></linearGradient>
<linearGradient id="b95" x1="0" y1="0" x2="0" y2="1"><stop offset="0" stop-color="#0000e2"/><stop offset="1" stop-color="#0000e2"/></linearGradient>
<linearGradient id="b96" x1="0" y1="0" x2="0" y2="1"><stop offset="0" stop-color="#0000e3"/><stop offset="1" stop-color="#0000e3"/></linearGradient>
<linearGradient id="b97" x1="0" y1="0" x2="0" y2="1"><stop offset="0" stop-color="#0000e3"/><stop offset="1" stop-color="#0000e3"/></linearGradient>
<linearGradient id="b98" x1="0" y1="0" x2="0" y2="1"><stop offset="0" stop-color="#0000e4"/><stop offset="1" stop-color="#0000e4"/></linearGradient>
<linearGradient id="b99" x1="0" y1="0" x2="0" y2="1"><stop offset="0" stop-color="#0000e7"/><stop offset="1" stop-color="#0000e7"/></linearGradient>
<linearGradient id="b100" x1="0" y1="0" x2="0" y2="1"><stop offset="0" stop-color="#0000e9"/><stop offset="1" stop-color="#0000e9"/></linearGradient>
<linearGradient id="b101" x1="0" y1="0" x2="0" y2="1"><stop offset="0" stop-color="#0000e8"/><stop offset="1" stop-color="#0000e8"/></linearGradient>
<linearGradient id="b102" x1="0" y1="0" x2="0" y2="1"><stop offset="0" stop-color="#0000e5"/><stop offset="1" stop-color="#0000e5"/></linearGradient>
<linearGradient id="b103" x1="0" y1="0" x2="0" y2="1"><stop offset="0" stop-color="#0000e3"/><stop offset="1" stop-color="#0000e3"/></linearGradient>
<linearGradient id="b104" x1="0" y1="0" x2="0" y2="1"><stop offset="0" stop-color="#0000e0"/><stop offset="1" stop-color="#0000e0"/></linearGradient>
<linearGradient id="b105" x1="0" y1="0" x2="0" y2="1"><stop offset="0" stop-color="#0000de"/><stop offset="1" stop-color="#0000de"/></linearGradient>
<linearGradient id="b106" x1="0" y1="0" x2="0" y2="1"><stop offset="0" stop-color="#0000de"/><stop offset="1" stop-color="#0000de"/></linearGradient>
<linearGradient id="b107" x1="0" y1="0" x2="0" y2="1"><stop offset="0" stop-color="#0000dd"/><stop offset="1" stop-color="#0000dd"/></linearGradient>
<linearGradient id="b108" x1="0" y1="0" x2="0" y2="1"><stop offset="0" stop-color="#0000de"/><stop offset="1" stop-color="#0000de"/></linearGradient>
<linearGradient id="b109" x1="0" y1="0" x2="0" y2="1"><stop offset="0" stop-color="#0000df"/><stop offset="1" stop-color="#0000df"/></linearGradient>
<linearGradient id="b110" x1="0" y1="0" x2="0" y2="1"><stop offset="0" stop-color="#0000de"/><stop offset="1" stop-color="#0000de"/></linearGradient>
<linearGradient id="b111" x1="0" y1="0" x2="0" y2="1"><stop offset="0" stop-color="#0000db"/><stop offset="1" stop-color="#0000db"/></linearGradient>
<linearGradient id="b112" x1="0" y1="0" x2="0" y2="1"><stop offset="0" stop-color="#0000da"/><stop offset="1" stop-color="#0000da"/></linearGradient>
<linearGradient id="b113" x1="0" y1="0" x2="0" y2="1"><stop offset="0" stop-color="#0000d9"/><stop offset="1" stop-color="#0000d9"/></linearGradient>
<linearGradient id="b114" x1="0" y1="0" x2="0" y2="1"><stop offset="0" stop-color="#0000d9"/><stop offset="1" stop-color="#0000d9"/></linearGradient>
<linearGradient id="b115" x1="0" y1="0" x2="0" y2="1"><stop offset="0" stop-color="#0000da"/><stop offset="1" stop-color="#0000da"/></linearGradient>
<linearGradient id="b116" x1="0" y1="0" x2="0" y2="1"><stop offset="0" stop-color="#0000dc"/><stop offset="1" stop-color="#0000dc"/></linearGradient>
<linearGradient id="b117" x1="0" y1="0" x2="0" y2="1"><stop offset="0" stop-color="#0000db"/><stop offset="1" stop-color="#0000db"/></linearGradient>
<linearGradient id="b118" x1="0" y1="0" x2="0" y2="1"><stop offset="0" stop-color="#0000d7"/><stop offset="1" stop-color="#0000d7"/></linearGradient>
<linearGradient id="b119" x1="0" y1="0" x2="0" y2="1"><stop offset="0" stop-color="#0000d6"/><stop offset="1" stop-color="#0000d6"/></linearGradient>
<linearGradient id="b120" x1="0" y1="0" x2="0" y2="1"><stop offset="0" stop-color="#0000d8"/><stop offset="1" stop-color="#0000d8"/></linearGradient>
<linearGradient id="b121" x1="0" y1="0" x2="0" y2="1"><stop offset="0" stop-color="#0000da"/><stop offset="1" stop-color="#0000da"/></linearGradient>
<linearGradient id="b122" x1="0" y1="0" x2="0" y2="1"><stop offset="0" stop-color="#0000d9"/><stop offset="1" stop-color="#0000d9"/></linearGradient>
<linearGradient id="b123" x1="0" y1="0" x2="0" y2="1"><stop offset="0" stop-color="#0000d8"/><stop offset="1" stop-color="#0000d8"/></linearGradient>
<linearGradient id="b124" x1="0" y1="0" x2="0" y2="1"><stop offset="0" stop-color="#0000d9"/><stop offset="1" stop-color="#0000d9"/></linearGradient>
<linearGradient id="b125" x1="0" y1="0" x2="0" y2="1"><stop offset="0" stop-color="#0000db"/><stop offset="1" stop-color="#0000db"/></linearGradient>
<linearGradient id="b126" x1="0" y1="0" x2="0" y2="1"><stop offset="0" stop-color="#0000dc"/><stop offset="1" stop-color="#0000dc"/></linearGradient>
<linearGradient id="b127" x1="0" y1="0" x2="0" y2="1"><stop offset="0" stop-color="#0000dc"/><stop offset="1" stop-color="#0000dc"/></linearGradient>
<linearGradient id="b128" x1="0" y1="0" x2="0" y2="1"><stop offset="0" stop-color="#0000dc"/><stop offset="1" stop-color="#0000dc"/></linearGradient>
<linearGradient id="b129" x1="0" y1="0" x2="0" y2="1"><stop offset="0" stop-color="#0000dc"/><stop offset="1" stop-color="#0000dc"/></linearGradient>
<linearGradient id="b130" x1="0" y1="0" x2="0" y2="1"><stop offset="0" stop-color="#0000db"/><stop offset="1" stop-color="#0000db"/></linearGradient>
<linearGradient id="b131" x1="0" y1="0" x2="0" y2="1"><stop offset="0" stop-color="#0000db"/><stop offset="1" stop-color="#0000db"/></linearGradient>
<linearGradient id="b132" x1="0" y1="0" x2="0" y2="1"><stop offset="0" stop-color="#0000da"/><stop offset="1" stop-color="#0000da"/></linearGradient>
<linearGradient id="b133" x1="0" y1="0" x2="0" y2="1"><stop offset="0" stop-color="#0000d9"/><stop offset="1" stop-color="#0000d9"/></linearGradient>
<linearGradient id="b134" x1="0" y1="0" x2="0" y2="1"><stop offset="0" stop-color="#0000d7"/><stop offset="1" stop-color="#0000d7"/></linearGradient>
<linearGradient id="b135" x1="0" y1="0" x2="0" y2="1"><stop offset="0" stop-color="#0000d4"/><stop offset="1" stop-color="#0000d4"/></linearGradient>
<linearGradient id="b136" x1="0" y1="0" x2="0" y2="1"><stop offset="0" stop-color="#0000d6"/><stop offset="1" stop-color="#0000d6"/></linearGradient>
<linearGradient id="b137" x1="0" y1="0" x2="0" y2="1"><stop offset="0" stop-color="#0000d8"/><stop offset="1" stop-color="#0000d8"/></linearGradient>
<linearGradient id="b138" x1="0" y1="0" x2="0" y2="1"><stop offset="0" stop-color="#0000d7"/><stop offset="1" stop-color="#0000d7"/></linearGradient>
<linearGradient id="b139" x1="0" y1="0" x2="0" y2="1"><stop offset="0" stop-color="#0000d5"/><stop offset="1" stop-color="#0000d5"/></linearGradient>
<clipPath id="cpb"><rect x="784.80" y="26.80" width="570.60" height="486.00"/></clipPath>
<filter id="fb" filterUnits="userSpaceOnUse" x="754.8" y="21.8" width="630.6" height="496.2"><feGaussianBlur stdDeviation="2.0 0"/></filter>
<linearGradient id="c0" x1="0" y1="0" x2="0" y2="1"><stop offset="0" stop-color="#00a0ff"/><stop offset="0.2037" stop-color="#009bff"/><stop offset="0.2716" stop-color="#0096ff"/><stop offset="0.4144" stop-color="#0096ff"/><stop offset="0.5501" stop-color="#0088ff"/><stop offset="0.721" stop-color="#007fff"/><stop offset="0.9247" stop-color="#004dff"/><stop offset="0.9949" stop-color="#0025ff"/><stop offset="0.9996" stop-color="#0025ff"/></linearGradient>
<linearGradient id="c1" x1="0" y1="0" x2="0" y2="1"><stop offset="0" stop-color="#00a4ff"/><stop offset="0.2062" stop-color="#00a1ff"/><stop offset="0.2812" stop-color="#009cff"/><stop offset="0.4219" stop-color="#0099ff"/><stop offset="0.5461" stop-color="#008cff"/><stop offset="0.7195" stop-color="#0082ff"/><stop offset="0.9211" stop-color="#0050ff"/><stop offset="0.9937" stop-color="#0025ff"/><stop offset="0.9984" stop-color="#0025ff"/></linearGradient>
<linearGradient id="c2" x1="0" y1="0" x2="0" y2="1"><stop offset="0" stop-color="#00a9ff"/><stop offset="0.2159" stop-color="#00a6ff"/><stop offset="0.3308" stop-color="#00a2ff"/><stop offset="0.4388" stop-color="#009cff"/><stop offset="0.5561" stop-color="#0090ff"/><stop offset="0.7156" stop-color="#0086ff"/><stop offset="0.915" stop-color="#0053ff"/><stop offset="0.9784" stop-color="#002fff"/><stop offset="0.9948" stop-color="#0026ff"/><stop offset="0.9995" stop-color="#0026ff"/></linearGradient>
<linearGradient id="c3" x1="0" y1="0" x2="0" y2="1"><stop offset="0" stop-color="#00b0ff"/><stop offset="0.2325" stop-color="#00aaff"/><stop offset="0.4299" stop-color="#00a2ff"/><stop offset="0.5473" stop-color="#0094ff"/><stop offset="0.7117" stop-color="#0089ff"/><stop offset="0.9114" stop-color="#0056ff"/><stop offset="0.9724" stop-color="#0033ff"/><stop offset="0.9936" stop-color="#0026ff"/><stop offset="0.9983" stop-color="#0026ff"/></linearGradient>
<linearGradient id="c4" x1="0" y1="0" x2="0" y2="1"><stop offset="0" stop-color="#00b5ff"/><stop offset="0.2516" stop-color="#00b0ff"/><stop offset="0.4303" stop-color="#00a6ff"/><stop offset="0.5479" stop-color="#0098ff"/><stop offset="0.7102" stop-color="#008cff"/><stop offset="0.9077" stop-color="#0059ff"/><stop offset="0.9665" stop-color="#0038ff"/><stop offset="0.9924" stop-color="#0026ff"/><stop offset="0.9994" stop-color="#0026ff"/></linearGradient>
<linearGradient id="c5" x1="0" y1="0" x2="0" y2="1"><stop offset="0" stop-color="#00baff"/><stop offset="0.2613" stop-color="#00b5ff"/><stop offset="0.4308" stop-color="#00aaff"/><stop offset="0.5485" stop-color="#009cff"/><stop offset="0.7086" stop-color="#008fff"/><stop offset="0.9064" stop-color="#005cff"/><stop offset="0.9629" stop-color="#003cff"/><stop offset="0.9935" stop-color="#0026ff"/><stop offset="0.9982" stop-color="#0026ff"/></linearGradient>
<linearGradient id="c6" x1="0" y1="0" x2="0" y2="1"><stop offset="0" stop-color="#00bfff"/><stop offset="0.2663" stop-color="#00bbff"/><stop offset="0.4289" stop-color="#00afff"/><stop offset="0.5444" stop-color="#00a0ff"/><stop offset="0.7071" stop-color="#0092ff"/><stop offset="0.9074" stop-color="#005dff"/><stop offset="0.9616" stop-color="#003dff"/><stop offset="0.9922" stop-color="#0026ff"/><stop offset="0.9993" stop-color="#0026ff"/></linearGradient>
<linearGradient id="c7" x1="0" y1="0" x2="0" y2="1"><stop offset="0" stop-color="#00c4ff"/><stop offset="0.2713" stop-color="#00c0ff"/><stop offset="0.4318" stop-color="#00b2ff"/><stop offset="0.5498" stop-color="#00a4ff"/><stop offset="0.7078" stop-color="#0095ff"/><stop offset="0.9084" stop-color="#005eff"/><stop offset="0.9603" stop-color="#003fff"/><stop offset="0.9933" stop-color="#0026ff"/><stop offset="0.9981" stop-color="#0026ff"/></linearGradient>
<linearGradient id="c8" x1="0" y1="0" x2="0" y2="1"><stop offset="0" stop-color="#00caff"/><stop offset="0.2764" stop-color="#00c4ff"/><stop offset="0.4346" stop-color="#00b5ff"/><stop offset="0.5433" stop-color="#00a8ff"/><stop offset="0.7086" stop-color="#0097ff"/><stop offset="0.9094" stop-color="#005fff"/><stop offset="0.9567" stop-color="#0043ff"/><stop offset="0.9921" stop-color="#0026ff"/><stop offset="0.9992" stop-color="#0026ff"/></linearGradient>
<linearGradient id="c9" x1="0" y1="0" x2="0" y2="1"><stop offset="0" stop-color="#00d0ff"/><stop offset="0.2838" stop-color="#00c8ff"/><stop offset="0.4375" stop-color="#00b8ff"/><stop offset="0.5203" stop-color="#00adff"/><stop offset="0.7047" stop-color="#009bff"/><stop offset="0.9105" stop-color="#0061ff"/><stop offset="0.9578" stop-color="#0043ff"/><stop offset="0.9932" stop-color="#0026ff"/><stop offset="0.998" stop-color="#0026ff"/></linearGradient>
<linearGradient id="c10" x1="0" y1="0" x2="0" y2="1"><stop offset="0" stop-color="#00d6ff"/><stop offset="0.2888" stop-color="#00cdff"/><stop offset="0.4427" stop-color="#00baff"/><stop offset="0.4995" stop-color="#00b3ff"/><stop offset="0.696" stop-color="#00a0ff"/><stop offset="0.9115" stop-color="#0062ff"/><stop offset="0.9565" stop-color="#0045ff"/><stop offset="0.992" stop-color="#0026ff"/><stop offset="0.9991" stop-color="#0026ff"/></linearGradient>
<linearGradient id="c11" x1="0" y1="0" x2="0" y2="1"><stop offset="0" stop-color="#00dbff"/><stop offset="0.2939" stop-color="#00d0ff"/><stop offset="0.448" stop-color="#00bcff"/><stop offset="0.5333" stop-color="#00b3ff"/><stop offset="0.6945" stop-color="#00a3ff"/><stop offset="0.9101" stop-color="#0064ff"/><stop offset="0.9552" stop-color="#0048ff"/><stop offset="0.9931" stop-color="#0026ff"/><stop offset="0.9978" stop-color="#0026ff"/></linearGradient>
<linearGradient id="c12" x1="0" y1="0" x2="0" y2="1"><stop offset="0" stop-color="#00e1ff"/><stop offset="0.2966" stop-color="#00d4ff"/><stop offset="0.458" stop-color="#00beff"/><stop offset="0.681" stop-color="#00a9ff"/><stop offset="0.7688" stop-color="#0092ff"/><stop offset="0.9183" stop-color="#0062ff"/><stop offset="0.961" stop-color="#0043ff"/><stop offset="0.9919" stop-color="#0026ff"/><stop offset="0.999" stop-color="#0026ff"/></linearGradient>
<linearGradient id="c13" x1="0" y1="0" x2="0" y2="1"><stop offset="0" stop-color="#00e6ff"/><stop offset="0.2993" stop-color="#00d8ff"/><stop offset="0.5226" stop-color="#00bbff"/><stop offset="0.6699" stop-color="#00aeff"/><stop offset="0.7483" stop-color="#009cff"/><stop offset="0.9217" stop-color="#0061ff"/><stop offset="0.9621" stop-color="#0044ff"/><stop offset="0.993" stop-color="#0026ff"/><stop offset="0.9977" stop-color="#0026ff"/></linearGradient>
<linearGradient id="c14" x1="0" y1="0" x2="0" y2="1"><stop offset="0" stop-color="#00ebff"/><stop offset="0.302" stop-color="#00dcff"/><stop offset="0.5256" stop-color="#00bfff"/><stop offset="0.6921" stop-color="#00aeff"/><stop offset="0.7943" stop-color="#008fff"/><stop offset="0.9251" stop-color="#0061ff"/><stop offset="0.9632" stop-color="#0044ff"/><stop offset="0.9917" stop-color="#0026ff"/><stop offset="0.9989" stop-color="#0026ff"/></linearGradient>
<linearGradient id="c15" x1="0" y1="0" x2="0" y2="1"><stop offset="0" stop-color="#00f0ff"/><stop offset="0.3024" stop-color="#00e0ff"/><stop offset="0.5286" stop-color="#00c3ff"/><stop offset="0.7024" stop-color="#00b0ff"/><stop offset="0.8286" stop-color="#0085ff"/><stop offset="0.9262" stop-color="#0062ff"/><stop offset="0.9643" stop-color="#0044ff"/><stop offset="0.9929" stop-color="#0026ff"/><stop offset="1" stop-color="#0026ff"/></linearGradient>
<linearGradient id="c16" x1="0" y1="0" x2="0" y2="1"><stop offset="0" stop-color="#00f4ff"/><stop offset="0.3003" stop-color="#00e4ff"/><stop offset="0.5339" stop-color="#00c6ff"/><stop offset="0.7079" stop-color="#00b2ff"/><stop offset="0.82" stop-color="#008bff"/><stop offset="0.9296" stop-color="#0062ff"/><stop offset="0.9654" stop-color="#0044ff"/><stop offset="0.9916" stop-color="#0026ff"/><stop offset="0.9988" stop-color="#0026ff"/></linearGradient>
<linearGradient id="c17" x1="0" y1="0" x2="0" y2="1"><stop offset="0" stop-color="#00f9ff"/><stop offset="0.3007" stop-color="#00e8ff"/><stop offset="0.5369" stop-color="#00caff"/><stop offset="0.7111" stop-color="#00b5ff"/><stop offset="0.8114" stop-color="#0092ff"/><stop offset="0.8973" stop-color="#0071ff"/><stop offset="0.9426" stop-color="#005bff"/><stop offset="0.9784" stop-color="#0035ff"/><stop offset="0.9927" stop-color="#0027ff"/><stop offset="0.9999" stop-color="#0027ff"/></linearGradient>
<linearGradient id="c18" x1="0" y1="0" x2="0" y2="1"><stop offset="0" stop-color="#00feff"/><stop offset="0.2986" stop-color="#00ecff"/><stop offset="0.5423" stop-color="#00ceff"/><stop offset="0.7119" stop-color="#00b8ff"/><stop offset="0.8051" stop-color="#0098ff"/><stop offset="0.8864" stop-color="#0076ff"/><stop offset="0.9389" stop-color="#005fff"/><stop offset="0.97" stop-color="#0041ff"/><stop offset="0.9915" stop-color="#0027ff"/><stop offset="0.9986" stop-color="#0027ff"/></linearGradient>
<linearGradient id="c19" x1="0" y1="0" x2="0" y2="1"><stop offset="0" stop-color="#04fffb"/><stop offset="0.1746" stop-color="#00f9ff"/><stop offset="0.3133" stop-color="#00edff"/><stop offset="0.5549" stop-color="#00d1ff"/><stop offset="0.7152" stop-color="#00bbff"/><stop offset="0.8037" stop-color="#009dff"/><stop offset="0.885" stop-color="#0078ff"/><stop offset="0.9376" stop-color="#0062ff"/><stop offset="0.9663" stop-color="#0047ff"/><stop offset="0.9902" stop-color="#0027ff"/><stop offset="0.9998" stop-color="#0027ff"/></linearGradient>
<linearGradient id="c20" x1="0" y1="0" x2="0" y2="1"><stop offset="0" stop-color="#09fff6"/><stop offset="0.1916" stop-color="#00fcff"/><stop offset="0.3161" stop-color="#00f1ff"/><stop offset="0.7016" stop-color="#00c1ff"/><stop offset="0.795" stop-color="#00a5ff"/><stop offset="0.886" stop-color="#0079ff"/><stop offset="0.9387" stop-color="#0062ff"/><stop offset="0.9674" stop-color="#0047ff"/><stop offset="0.9913" stop-color="#0027ff"/><stop offset="0.9985" stop-color="#0027ff"/></linearGradient>
<linearGradient id="c21" x1="0" y1="0" x2="0" y2="1"><stop offset="0" stop-color="#0efff1"/><stop offset="0.2589" stop-color="#00fcff"/><stop offset="0.5226" stop-color="#00ddff"/><stop offset="0.7144" stop-color="#00c2ff"/><stop offset="0.7983" stop-color="#00a8ff"/><stop offset="0.8894" stop-color="#0079ff"/><stop offset="0.9397" stop-color="#0062ff"/><stop offset="0.9685" stop-color="#0046ff"/><stop offset="0.9901" stop-color="#0028ff"/><stop offset="0.9997" stop-color="#0027ff"/></linearGradient>
<linearGradient id="c22" x1="0" y1="0" x2="0" y2="1"><stop offset="0" stop-color="#13ffec"/><stop offset="0.2856" stop-color="#00fcff"/><stop offset="0.5232" stop-color="#00e1ff"/><stop offset="0.72" stop-color="#00c5ff"/><stop offset="0.7968" stop-color="#00adff"/><stop offset="0.8928" stop-color="#0079ff"/><stop offset="0.9432" stop-color="#0060ff"/><stop offset="0.972" stop-color="#0041ff"/><stop offset="0.9912" stop-color="#0027ff"/><stop offset="0.9984" stop-color="#0027ff"/></linearGradient>
<linearGradient id="c23" x1="0" y1="0" x2="0" y2="1"><stop offset="0" stop-color="#19ffe6"/><stop offset="0.3124" stop-color="#00fcff"/><stop offset="0.692" stop-color="#00ceff"/><stop offset="0.7881" stop-color="#00b5ff"/><stop offset="0.901" stop-color="#0078ff"/><stop offset="0.9467" stop-color="#005eff"/><stop offset="0.9755" stop-color="#003dff"/><stop offset="0.9924" stop-color="#0027ff"/><stop offset="0.9996" stop-color="#0027ff"/></linearGradient>
<linearGradient id="c24" x1="0" y1="0" x2="0" y2="1"><stop offset="0" stop-color="#1effe1"/><stop offset="0.2983" stop-color="#03fffc"/><stop offset="0.3945" stop-color="#00f5ff"/><stop offset="0.6471" stop-color="#00d9ff"/><stop offset="0.765" stop-color="#00c1ff"/><stop offset="0.8275" stop-color="#00a4ff"/><stop offset="0.9093" stop-color="#0075ff"/><stop offset="0.9502" stop-color="#005cff"/><stop offset="0.9791" stop-color="#0038ff"/><stop offset="0.9911" stop-color="#0027ff"/><stop offset="0.9983" stop-color="#0027ff"/></linearGradient>
<linearGradient id="c25" x1="0" y1="0" x2="0" y2="1"><stop offset="0" stop-color="#22ffdd"/><stop offset="0.2986" stop-color="#07fff8"/><stop offset="0.3733" stop-color="#00fbff"/><stop offset="0.6334" stop-color="#00deff"/><stop offset="0.761" stop-color="#00c6ff"/><stop offset="0.8236" stop-color="#00abff"/><stop offset="0.92" stop-color="#0071ff"/><stop offset="0.9561" stop-color="#0057ff"/><stop offset="0.9922" stop-color="#0027ff"/><stop offset="0.9995" stop-color="#0027ff"/></linearGradient>
<linearGradient id="c26" x1="0" y1="0" x2="0" y2="1"><stop offset="0" stop-color="#26ffd9"/><stop offset="0.299" stop-color="#0bfff4"/><stop offset="0.3954" stop-color="#00fcff"/><stop offset="0.6028" stop-color="#00e6ff"/><stop offset="0.7571" stop-color="#00cbff"/><stop offset="0.8222" stop-color="#00b0ff"/><stop offset="0.95" stop-color="#005eff"/><stop offset="0.9765" stop-color="#003cff"/><stop offset="0.991" stop-color="#0027ff"/><stop offset="0.9982" stop-color="#0027ff"/></linearGradient>
<linearGradient id="c27" x1="0" y1="0" x2="0" y2="1"><stop offset="0" stop-color="#2affd5"/><stop offset="0.2993" stop-color="#0ffff0"/><stop offset="0.42" stop-color="#00fdff"/><stop offset="0.5817" stop-color="#00ecff"/><stop offset="0.758" stop-color="#00cfff"/><stop offset="0.8231" stop-color="#00b4ff"/><stop offset="0.9511" stop-color="#005dff"/><stop offset="0.9776" stop-color="#003bff"/><stop offset="0.9921" stop-color="#0028ff"/><stop offset="0.9993" stop-color="#0028ff"/></linearGradient>
<linearGradient id="c28" x1="0" y1="0" x2="0" y2="1"><stop offset="0" stop-color="#2effd1"/><stop offset="0.2948" stop-color="#14ffeb"/><stop offset="0.4471" stop-color="#00fdff"/><stop offset="0.5655" stop-color="#00f1ff"/><stop offset="0.7588" stop-color="#00d2ff"/><stop offset="0.8241" stop-color="#00b8ff"/><stop offset="0.8821" stop-color="#0090ff"/><stop offset="0.9546" stop-color="#005bff"/><stop offset="0.9812" stop-color="#0036ff"/><stop offset="0.9908" stop-color="#0028ff"/><stop offset="0.9981" stop-color="#0028ff"/></linearGradient>
<linearGradient id="c29" x1="0" y1="0" x2="0" y2="1"><stop offset="0" stop-color="#32ffcd"/><stop offset="0.2903" stop-color="#19ffe6"/><stop offset="0.4694" stop-color="#00feff"/><stop offset="0.5565" stop-color="#00f5ff"/><stop offset="0.7621" stop-color="#00d5ff"/><stop offset="0.8299" stop-color="#00baff"/><stop offset="0.8758" stop-color="#0099ff"/><stop offset="0.9557" stop-color="#005aff"/><stop offset="0.9847" stop-color="#0030ff"/><stop offset="0.992" stop-color="#0027ff"/><stop offset="0.9992" stop-color="#0027ff"/></linearGradient>
<linearGradient id="c30" x1="0" y1="0" x2="0" y2="1"><stop offset="0" stop-color="#35ffca"/><stop offset="0.2882" stop-color="#1effe1"/><stop offset="0.4917" stop-color="#00feff"/><stop offset="0.5644" stop-color="#00f6ff"/><stop offset="0.7654" stop-color="#00d7ff"/><stop offset="0.8357" stop-color="#00bcff"/><stop offset="0.8744" stop-color="#009fff"/><stop offset="0.935" stop-color="#006eff"/><stop offset="0.9641" stop-color="#0051ff"/><stop offset="0.9907" stop-color="#0028ff"/><stop offset="0.998" stop-color="#0028ff"/></linearGradient>
<linearGradient id="c31" x1="0" y1="0" x2="0" y2="1"><stop offset="0" stop-color="#39ffc6"/><stop offset="0.2837" stop-color="#23ffdc"/><stop offset="0.5044" stop-color="#01fffe"/><stop offset="0.759" stop-color="#00dcff"/><stop offset="0.8294" stop-color="#00c3ff"/><stop offset="0.8682" stop-color="#00a9ff"/><stop offset="0.9579" stop-color="#0059ff"/><stop offset="0.9918" stop-color="#0028ff"/><stop offset="0.9991" stop-color="#0028ff"/></linearGradient>
<linearGradient id="c32" x1="0" y1="0" x2="0" y2="1"><stop offset="0" stop-color="#3cffc3"/><stop offset="0.2816" stop-color="#28ffd7"/><stop offset="0.5293" stop-color="#00feff"/><stop offset="0.7648" stop-color="#00deff"/><stop offset="0.8328" stop-color="#00c5ff"/><stop offset="0.8765" stop-color="#00a5ff"/><stop offset="0.959" stop-color="#0059ff"/><stop offset="0.9906" stop-color="#0028ff"/><stop offset="0.9978" stop-color="#0028ff"/></linearGradient>
<linearGradient id="c33" x1="0" y1="0" x2="0" y2="1"><stop offset="0" stop-color="#40ffbf"/><stop offset="0.2795" stop-color="#2cffd3"/><stop offset="0.5445" stop-color="#00ffff"/><stop offset="0.7705" stop-color="#00e0ff"/><stop offset="0.8337" stop-color="#00c8ff"/><stop offset="0.8823" stop-color="#00a4ff"/><stop offset="0.9577" stop-color="#005bff"/><stop offset="0.9917" stop-color="#0028ff"/><stop offset="0.999" stop-color="#0028ff"/></linearGradient>
<linearGradient id="c34" x1="0" y1="0" x2="0" y2="1"><stop offset="0" stop-color="#44ffbb"/><stop offset="0.2774" stop-color="#31ffce"/><stop offset="0.5548" stop-color="#01fffe"/><stop offset="0.7714" stop-color="#00e2ff"/><stop offset="0.8347" stop-color="#00cbff"/><stop offset="0.8858" stop-color="#00a5ff"/><stop offset="0.9564" stop-color="#005eff"/><stop offset="0.9904" stop-color="#0028ff"/><stop offset="0.9977" stop-color="#0028ff"/></linearGradient>
<linearGradient id="c35" x1="0" y1="0" x2="0" y2="1"><stop offset="0" stop-color="#47ffb8"/><stop offset="0.2777" stop-color="#35ffca"/><stop offset="0.5628" stop-color="#02fffd"/><stop offset="0.7723" stop-color="#00e5ff"/><stop offset="0.8332" stop-color="#00cfff"/><stop offset="0.8844" stop-color="#00aaff"/><stop offset="0.9502" stop-color="#0068ff"/><stop offset="0.9794" stop-color="#003bff"/><stop offset="0.9916" stop-color="#0028ff"/><stop offset="0.9989" stop-color="#0028ff"/></linearGradient>
<linearGradient id="c36" x1="0" y1="0" x2="0" y2="1"><stop offset="0" stop-color="#4bffb4"/><stop offset="0.2781" stop-color="#3affc5"/><stop offset="0.5805" stop-color="#02fffd"/><stop offset="0.7757" stop-color="#00e7ff"/><stop offset="0.8366" stop-color="#00d0ff"/><stop offset="0.8879" stop-color="#00abff"/><stop offset="0.9464" stop-color="#006eff"/><stop offset="0.9757" stop-color="#0042ff"/><stop offset="0.9903" stop-color="#0028ff"/><stop offset="0.9976" stop-color="#0028ff"/></linearGradient>
<linearGradient id="c37" x1="0" y1="0" x2="0" y2="1"><stop offset="0" stop-color="#4fffb0"/><stop offset="0.2784" stop-color="#3effc1"/><stop offset="0.6032" stop-color="#01fffe"/><stop offset="0.7814" stop-color="#00e8ff"/><stop offset="0.84" stop-color="#00d2ff"/><stop offset="0.8913" stop-color="#00acff"/><stop offset="0.9451" stop-color="#0072ff"/><stop offset="0.9768" stop-color="#0040ff"/><stop offset="0.9915" stop-color="#0028ff"/><stop offset="0.9988" stop-color="#0028ff"/></linearGradient>
<linearGradient id="c38" x1="0" y1="0" x2="0" y2="1"><stop offset="0" stop-color="#53ffac"/><stop offset="0.2763" stop-color="#42ffbd"/><stop offset="0.4865" stop-color="#1affe5"/><stop offset="0.6332" stop-color="#00feff"/><stop offset="0.7897" stop-color="#00e9ff"/><stop offset="0.8459" stop-color="#00d2ff"/><stop offset="0.8973" stop-color="#00aaff"/><stop offset="0.9437" stop-color="#0075ff"/><stop offset="0.9755" stop-color="#0043ff"/><stop offset="0.9902" stop-color="#0028ff"/><stop offset="0.9999" stop-color="#0028ff"/></linearGradient>
<linearGradient id="c39" x1="0" y1="0" x2="0" y2="1"><stop offset="0" stop-color="#56ffa9"/><stop offset="0.2741" stop-color="#46ffb9"/><stop offset="0.4724" stop-color="#21ffde"/><stop offset="0.6291" stop-color="#02fffd"/><stop offset="0.7882" stop-color="#00ecff"/><stop offset="0.8469" stop-color="#00d5ff"/><stop offset="0.8959" stop-color="#00b0ff"/><stop offset="0.9399" stop-color="#007cff"/><stop offset="0.9742" stop-color="#0046ff"/><stop offset="0.9913" stop-color="#0028ff"/><stop offset="0.9987" stop-color="#0028ff"/></linearGradient>
<linearGradient id="c40" x1="0" y1="0" x2="0" y2="1"><stop offset="0" stop-color="#5affa5"/><stop offset="0.2696" stop-color="#4bffb4"/><stop offset="0.4607" stop-color="#29ffd6"/><stop offset="0.62" stop-color="#06fff9"/><stop offset="0.6911" stop-color="#00fbff"/><stop offset="0.8038" stop-color="#00eaff"/><stop offset="0.8577" stop-color="#00d2ff"/><stop offset="0.9043" stop-color="#00acff"/><stop offset="0.9459" stop-color="#0076ff"/><stop offset="0.9827" stop-color="#0036ff"/><stop offset="0.99" stop-color="#0029ff"/><stop offset="0.9998" stop-color="#0028ff"/></linearGradient>
<linearGradient id="c41" x1="0" y1="0" x2="0" y2="1"><stop offset="0" stop-color="#5effa1"/><stop offset="0.265" stop-color="#4fffb0"/><stop offset="0.4514" stop-color="#2fffd0"/><stop offset="0.6207" stop-color="#08fff7"/><stop offset="0.6992" stop-color="#00fcff"/><stop offset="0.8096" stop-color="#00ebff"/><stop offset="0.8612" stop-color="#00d4ff"/><stop offset="0.9078" stop-color="#00adff"/><stop offset="0.947" stop-color="#0077ff"/><stop offset="0.9912" stop-color="#0029ff"/><stop offset="0.9986" stop-color="#0029ff"/></linearGradient>
<linearGradient id="c42" x1="0" y1="0" x2="0" y2="1"><stop offset="0" stop-color="#62ff9d"/><stop offset="0.2555" stop-color="#54ffab"/><stop offset="0.4421" stop-color="#36ffc9"/><stop offset="0.6239" stop-color="#0afff5"/><stop offset="0.7123" stop-color="#00fdff"/><stop offset="0.8155" stop-color="#00ecff"/><stop offset="0.8671" stop-color="#00d3ff"/><stop offset="0.9088" stop-color="#00afff"/><stop offset="0.9457" stop-color="#007cff"/><stop offset="0.9899" stop-color="#0029ff"/><stop offset="0.9997" stop-color="#0028ff"/></linearGradient>
<linearGradient id="c43" x1="0" y1="0" x2="0" y2="1"><stop offset="0" stop-color="#66ff99"/><stop offset="0.2459" stop-color="#58ffa7"/><stop offset="0.4353" stop-color="#3dffc2"/><stop offset="0.6296" stop-color="#0bfff4"/><stop offset="0.7279" stop-color="#00fdff"/><stop offset="0.8238" stop-color="#00ecff"/><stop offset="0.8706" stop-color="#00d5ff"/><stop offset="0.9124" stop-color="#00aeff"/><stop offset="0.9443" stop-color="#0082ff"/><stop offset="0.9911" stop-color="#0028ff"/><stop offset="0.9984" stop-color="#0028ff"/></linearGradient>
<linearGradient id="c44" x1="0" y1="0" x2="0" y2="1"><stop offset="0" stop-color="#6bff94"/><stop offset="0.2364" stop-color="#5dffa2"/><stop offset="0.4309" stop-color="#43ffbc"/><stop offset="0.5441" stop-color="#24ffdb"/><stop offset="0.6697" stop-color="#07fff8"/><stop offset="0.7534" stop-color="#00fcff"/><stop offset="0.8322" stop-color="#00ecff"/><stop offset="0.8765" stop-color="#00d4ff"/><stop offset="0.9233" stop-color="#00a4ff"/><stop offset="0.9504" stop-color="#007bff"/><stop offset="0.9898" stop-color="#0029ff"/><stop offset="0.9996" stop-color="#0029ff"/></linearGradient>
<linearGradient id="c45" x1="0" y1="0" x2="0" y2="1"><stop offset="0" stop-color="#6fff90"/><stop offset="0.2292" stop-color="#61ff9e"/><stop offset="0.4314" stop-color="#47ffb8"/><stop offset="0.5349" stop-color="#2cffd3"/><stop offset="0.6458" stop-color="#0dfff2"/><stop offset="0.7592" stop-color="#00fdff"/><stop offset="0.8381" stop-color="#00edff"/><stop offset="0.88" stop-color="#00d4ff"/><stop offset="0.9318" stop-color="#009dff"/><stop offset="0.954" stop-color="#0078ff"/><stop offset="0.9885" stop-color="#002cff"/><stop offset="0.9983" stop-color="#0029ff"/></linearGradient>
<linearGradient id="c46" x1="0" y1="0" x2="0" y2="1"><stop offset="0" stop-color="#74ff8b"/><stop offset="0.227" stop-color="#65ff9a"/><stop offset="0.4343" stop-color="#4cffb3"/><stop offset="0.5331" stop-color="#32ffcd"/><stop offset="0.6417" stop-color="#11ffee"/><stop offset="0.7675" stop-color="#00feff"/><stop offset="0.844" stop-color="#00eeff"/><stop offset="0.8835" stop-color="#00d5ff"/><stop offset="0.9378" stop-color="#0098ff"/><stop offset="0.9575" stop-color="#0074ff"/><stop offset="0.9896" stop-color="#0029ff"/><stop offset="0.9995" stop-color="#0028ff"/></linearGradient>
<linearGradient id="c47" x1="0" y1="0" x2="0" y2="1"><stop offset="0" stop-color="#79ff86"/><stop offset="0.2273" stop-color="#69ff96"/><stop offset="0.4398" stop-color="#4fffb0"/><stop offset="0.5362" stop-color="#36ffc9"/><stop offset="0.6523" stop-color="#11ffee"/><stop offset="0.7857" stop-color="#00fdff"/><stop offset="0.85" stop-color="#00efff"/><stop offset="0.887" stop-color="#00d6ff"/><stop offset="0.9438" stop-color="#0092ff"/><stop offset="0.9587" stop-color="#0075ff"/><stop offset="0.9883" stop-color="#002bff"/><stop offset="0.9957" stop-color="#0027ff"/><stop offset="0.9982" stop-color="#0027ff"/></linearGradient>
<linearGradient id="c48" x1="0" y1="0" x2="0" y2="1"><stop offset="0" stop-color="#7eff81"/><stop offset="0.2301" stop-color="#6dff92"/><stop offset="0.4428" stop-color="#54ffab"/><stop offset="0.5368" stop-color="#3bffc4"/><stop offset="0.663" stop-color="#11ffee"/><stop offset="0.804" stop-color="#00fdff"/><stop offset="0.8534" stop-color="#00f1ff"/><stop offset="0.8905" stop-color="#00d6ff"/><stop offset="0.945" stop-color="#0093ff"/><stop offset="0.9648" stop-color="#0068ff"/><stop offset="0.9895" stop-color="#0028ff"/><stop offset="0.9994" stop-color="#0027ff"/></linearGradient>
<linearGradient id="c49" x1="0" y1="0" x2="0" y2="1"><stop offset="0" stop-color="#83ff7c"/><stop offset="0.2378" stop-color="#70ff8f"/><stop offset="0.4458" stop-color="#58ffa7"/><stop offset="0.5374" stop-color="#40ffbf"/><stop offset="0.6637" stop-color="#14ffeb"/><stop offset="0.8198" stop-color="#00fcff"/><stop offset="0.8594" stop-color="#00f2ff"/><stop offset="0.8965" stop-color="#00d5ff"/><stop offset="0.9461" stop-color="#0095ff"/><stop offset="0.9684" stop-color="#0064ff"/><stop offset="0.9907" stop-color="#0028ff"/><stop offset="0.9981" stop-color="#0028ff"/></linearGradient>
<linearGradient id="c50" x1="0" y1="0" x2="0" y2="1"><stop offset="0" stop-color="#88ff77"/><stop offset="0.2504" stop-color="#73ff8c"/><stop offset="0.4513" stop-color="#5cffa3"/><stop offset="0.5381" stop-color="#45ffba"/><stop offset="0.6645" stop-color="#16ffe9"/><stop offset="0.8307" stop-color="#00feff"/><stop offset="0.8654" stop-color="#00f1ff"/><stop offset="0.9075" stop-color="#00cdff"/><stop offset="0.9472" stop-color="#009aff"/><stop offset="0.967" stop-color="#0071ff"/><stop offset="0.9894" stop-color="#0030ff"/><stop offset="0.9993" stop-color="#002eff"/></linearGradient>
<linearGradient id="c51" x1="0" y1="0" x2="0" y2="1"><stop offset="0" stop-color="#8dff72"/><stop offset="0.3426" stop-color="#6fff90"/><stop offset="0.494" stop-color="#57ffa8"/><stop offset="0.6107" stop-color="#2dffd2"/><stop offset="0.6802" stop-color="#15ffea"/><stop offset="0.8465" stop-color="#00fcff"/><stop offset="0.8912" stop-color="#00dfff"/><stop offset="0.9285" stop-color="#00bbff"/><stop offset="0.9632" stop-color="#0083ff"/><stop offset="0.9905" stop-color="#0036ff"/><stop offset="0.998" stop-color="#0036ff"/></linearGradient>
<linearGradient id="c52" x1="0" y1="0" x2="0" y2="1"><stop offset="0" stop-color="#92ff6d"/><stop offset="0.3803" stop-color="#6fff90"/><stop offset="0.5095" stop-color="#58ffa7"/><stop offset="0.676" stop-color="#19ffe6"/><stop offset="0.8475" stop-color="#00fdff"/><stop offset="0.8948" stop-color="#00daff"/><stop offset="0.9296" stop-color="#00b4ff"/><stop offset="0.9519" stop-color="#007fff"/><stop offset="0.9644" stop-color="#0074ff"/><stop offset="0.9892" stop-color="#003aff"/><stop offset="0.9992" stop-color="#0038ff"/></linearGradient>
<linearGradient id="c53" x1="0" y1="0" x2="0" y2="1"><stop offset="0" stop-color="#97ff68"/><stop offset="0.4106" stop-color="#6fff90"/><stop offset="0.5226" stop-color="#58ffa7"/><stop offset="0.6296" stop-color="#2dffd2"/><stop offset="0.6968" stop-color="#17ffe8"/><stop offset="0.8436" stop-color="#00fdff"/><stop offset="0.8809" stop-color="#00e2ff"/><stop offset="0.9182" stop-color="#00b6ff"/><stop offset="0.9332" stop-color="#0098ff"/><stop offset="0.9556" stop-color="#0056ff"/><stop offset="0.9755" stop-color="#0049ff"/><stop offset="0.9904" stop-color="#0033ff"/><stop offset="0.9979" stop-color="#0033ff"/></linearGradient>
<linearGradient id="c54" x1="0" y1="0" x2="0" y2="1"><stop offset="0" stop-color="#9cff63"/><stop offset="0.4285" stop-color="#71ff8e"/><stop offset="0.5332" stop-color="#59ffa6"/><stop offset="0.6253" stop-color="#33ffcc"/><stop offset="0.6926" stop-color="#1affe5"/><stop offset="0.8296" stop-color="#01fffe"/><stop offset="0.8595" stop-color="#00f0ff"/><stop offset="0.8969" stop-color="#00c9ff"/><stop offset="0.9218" stop-color="#00a0ff"/><stop offset="0.9542" stop-color="#004aff"/><stop offset="0.9642" stop-color="#003dff"/><stop offset="0.9941" stop-color="#002aff"/><stop offset="0.999" stop-color="#002aff"/></linearGradient>
<linearGradient id="c55" x1="0" y1="0" x2="0" y2="1"><stop offset="0" stop-color="#a1ff5e"/><stop offset="0.429" stop-color="#74ff8b"/><stop offset="0.5363" stop-color="#5cffa3"/><stop offset="0.6211" stop-color="#3affc5"/><stop offset="0.6959" stop-color="#1bffe4"/><stop offset="0.8206" stop-color="#03fffc"/><stop offset="0.8406" stop-color="#00f9ff"/><stop offset="0.8755" stop-color="#00dbff"/><stop offset="0.9054" stop-color="#00b2ff"/><stop offset="0.9229" stop-color="#008eff"/><stop offset="0.9553" stop-color="#0042ff"/><stop offset="0.9703" stop-color="#002fff"/><stop offset="0.9927" stop-color="#0022ff"/><stop offset="0.9977" stop-color="#0022ff"/></linearGradient>
<linearGradient id="c56" x1="0" y1="0" x2="0" y2="1"><stop offset="0" stop-color="#a6ff59"/><stop offset="0.4295" stop-color="#78ff87"/><stop offset="0.5419" stop-color="#5fffa0"/><stop offset="0.6243" stop-color="#3cffc3"/><stop offset="0.7067" stop-color="#1affe5"/><stop offset="0.8116" stop-color="#06fff9"/><stop offset="0.8316" stop-color="#00fbff"/><stop offset="0.8666" stop-color="#00deff"/><stop offset="0.899" stop-color="#00b3ff"/><stop offset="0.919" stop-color="#008cff"/><stop offset="0.9565" stop-color="#003dff"/><stop offset="0.9765" stop-color="#0026ff"/><stop offset="0.9939" stop-color="#001eff"/><stop offset="0.9989" stop-color="#001eff"/></linearGradient>
<linearGradient id="c57" x1="0" y1="0" x2="0" y2="1"><stop offset="0" stop-color="#acff53"/><stop offset="0.4326" stop-color="#7bff84"/><stop offset="0.5451" stop-color="#62ff9d"/><stop offset="0.6301" stop-color="#3effc1"/><stop offset="0.7101" stop-color="#1bffe4"/><stop offset="0.8076" stop-color="#06fff9"/><stop offset="0.8276" stop-color="#00fbff"/><stop offset="0.8651" stop-color="#00daff"/><stop offset="0.9001" stop-color="#00a9ff"/><stop offset="0.9176" stop-color="#0085ff"/><stop offset="0.9576" stop-color="#003aff"/><stop offset="0.9801" stop-color="#0022ff"/><stop offset="0.9951" stop-color="#001cff"/><stop offset="0.9976" stop-color="#001cff"/></linearGradient>
<linearGradient id="c58" x1="0" y1="0" x2="0" y2="1"><stop offset="0" stop-color="#b1ff4e"/><stop offset="0.4406" stop-color="#7dff82"/><stop offset="0.5532" stop-color="#63ff9c"/><stop offset="0.6484" stop-color="#38ffc7"/><stop offset="0.7109" stop-color="#1cffe3"/><stop offset="0.8061" stop-color="#06fff9"/><stop offset="0.8236" stop-color="#00fbff"/><stop offset="0.8611" stop-color="#00d9ff"/><stop offset="0.8987" stop-color="#00a4ff"/><stop offset="0.9237" stop-color="#0074ff"/><stop offset="0.9613" stop-color="#0036ff"/><stop offset="0.9888" stop-color="#001cff"/><stop offset="0.9988" stop-color="#001cff"/></linearGradient>
<linearGradient id="c59" x1="0" y1="0" x2="0" y2="1"><stop offset="0" stop-color="#b6ff49"/><stop offset="0.4511" stop-color="#7fff80"/><stop offset="0.5614" stop-color="#63ff9c"/><stop offset="0.6592" stop-color="#37ffc8"/><stop offset="0.7118" stop-color="#1dffe2"/><stop offset="0.802" stop-color="#07fff8"/><stop offset="0.8196" stop-color="#00fcff"/><stop offset="0.8571" stop-color="#00d9ff"/><stop offset="0.8972" stop-color="#00a1ff"/><stop offset="0.9198" stop-color="#0075ff"/><stop offset="0.9399" stop-color="#0057ff"/><stop offset="0.9674" stop-color="#0030ff"/><stop offset="0.9925" stop-color="#001dff"/><stop offset="0.9975" stop-color="#001dff"/></linearGradient>
<linearGradient id="c60" x1="0" y1="0" x2="0" y2="1"><stop offset="0" stop-color="#bbff44"/><stop offset="0.4592" stop-color="#80ff7f"/><stop offset="0.5696" stop-color="#63ff9c"/><stop offset="0.665" stop-color="#37ffc8"/><stop offset="0.7126" stop-color="#1effe1"/><stop offset="0.798" stop-color="#07fff8"/><stop offset="0.8155" stop-color="#00fcff"/><stop offset="0.8532" stop-color="#00daff"/><stop offset="0.8958" stop-color="#009eff"/><stop offset="0.9159" stop-color="#0077ff"/><stop offset="0.936" stop-color="#005dff"/><stop offset="0.9686" stop-color="#0030ff"/><stop offset="0.9912" stop-color="#001eff"/><stop offset="0.9987" stop-color="#001eff"/></linearGradient>
<linearGradient id="c61" x1="0" y1="0" x2="0" y2="1"><stop offset="0" stop-color="#beff41"/><stop offset="0.4572" stop-color="#84ff7b"/><stop offset="0.5728" stop-color="#65ff9a"/><stop offset="0.6632" stop-color="#3dffc2"/><stop offset="0.7135" stop-color="#1fffe0"/><stop offset="0.7964" stop-color="#07fff8"/><stop offset="0.814" stop-color="#00fbff"/><stop offset="0.8517" stop-color="#00d7ff"/><stop offset="0.8969" stop-color="#0098ff"/><stop offset="0.9145" stop-color="#0075ff"/><stop offset="0.9371" stop-color="#005aff"/><stop offset="0.9723" stop-color="#002eff"/><stop offset="0.9924" stop-color="#001fff"/><stop offset="0.9999" stop-color="#001fff"/></linearGradient>
<linearGradient id="c62" x1="0" y1="0" x2="0" y2="1"><stop offset="0" stop-color="#c1ff3e"/><stop offset="0.4578" stop-color="#86ff79"/><stop offset="0.581" stop-color="#65ff9a"/><stop offset="0.6615" stop-color="#41ffbe"/><stop offset="0.7169" stop-color="#20ffdf"/><stop offset="0.7948" stop-color="#07fff8"/><stop offset="0.8099" stop-color="#00fcff"/><stop offset="0.8477" stop-color="#00d9ff"/><stop offset="0.8929" stop-color="#009bff"/><stop offset="0.9105" stop-color="#0077ff"/><stop offset="0.9407" stop-color="#0054ff"/><stop offset="0.9785" stop-color="#002aff"/><stop offset="0.9935" stop-color="#0021ff"/><stop offset="0.9986" stop-color="#0021ff"/></linearGradient>
<linearGradient id="c63" x1="0" y1="0" x2="0" y2="1"><stop offset="0" stop-color="#c5ff3a"/><stop offset="0.4609" stop-color="#88ff77"/><stop offset="0.5893" stop-color="#65ff9a"/><stop offset="0.6623" stop-color="#43ffbc"/><stop offset="0.7202" stop-color="#21ffde"/><stop offset="0.7958" stop-color="#06fff9"/><stop offset="0.8109" stop-color="#00faff"/><stop offset="0.8512" stop-color="#00d1ff"/><stop offset="0.894" stop-color="#0094ff"/><stop offset="0.9091" stop-color="#0076ff"/><stop offset="0.9368" stop-color="#0058ff"/><stop offset="0.9771" stop-color="#002cff"/><stop offset="0.9922" stop-color="#0022ff"/><stop offset="0.9998" stop-color="#0022ff"/></linearGradient>
<linearGradient id="c64" x1="0" y1="0" x2="0" y2="1"><stop offset="0" stop-color="#c8ff37"/><stop offset="0.4639" stop-color="#8aff75"/><stop offset="0.5976" stop-color="#64ff9b"/><stop offset="0.6656" stop-color="#43ffbc"/><stop offset="0.7287" stop-color="#1fffe0"/><stop offset="0.7968" stop-color="#05fffa"/><stop offset="0.8094" stop-color="#00fbff"/><stop offset="0.8497" stop-color="#00d0ff"/><stop offset="0.89" stop-color="#0098ff"/><stop offset="0.9052" stop-color="#0078ff"/><stop offset="0.9228" stop-color="#0066ff"/><stop offset="0.9808" stop-color="#0029ff"/><stop offset="0.9959" stop-color="#0022ff"/><stop offset="0.9985" stop-color="#0022ff"/></linearGradient>
<linearGradient id="c65" x1="0" y1="0" x2="0" y2="1"><stop offset="0" stop-color="#ccff33"/><stop offset="0.467" stop-color="#8cff73"/><stop offset="0.6059" stop-color="#63ff9c"/><stop offset="0.674" stop-color="#40ffbf"/><stop offset="0.7371" stop-color="#1dffe2"/><stop offset="0.7977" stop-color="#04fffb"/><stop offset="0.8103" stop-color="#00f9ff"/><stop offset="0.8532" stop-color="#00c9ff"/><stop offset="0.8886" stop-color="#0096ff"/><stop offset="0.9037" stop-color="#0077ff"/><stop offset="0.9214" stop-color="#0065ff"/><stop offset="0.9391" stop-color="#0053ff"/><stop offset="0.9845" stop-color="#0026ff"/><stop offset="0.9971" stop-color="#0022ff"/><stop offset="0.9997" stop-color="#0022ff"/></linearGradient>
<linearGradient id="c66" x1="0" y1="0" x2="0" y2="1"><stop offset="0" stop-color="#cfff30"/><stop offset="0.4701" stop-color="#8dff72"/><stop offset="0.6091" stop-color="#64ff9b"/><stop offset="0.6799" stop-color="#3fffc0"/><stop offset="0.738" stop-color="#1dffe2"/><stop offset="0.7961" stop-color="#04fffb"/><stop offset="0.8088" stop-color="#00f9ff"/><stop offset="0.8517" stop-color="#00c9ff"/><stop offset="0.8846" stop-color="#009aff"/><stop offset="0.9023" stop-color="#0076ff"/><stop offset="0.9175" stop-color="#0066ff"/><stop offset="0.9352" stop-color="#0057ff"/><stop offset="0.9832" stop-color="#0027ff"/><stop offset="0.9958" stop-color="#0021ff"/><stop offset="0.9983" stop-color="#0021ff"/></linearGradient>
<linearGradient id="c67" x1="0" y1="0" x2="0" y2="1"><stop offset="0" stop-color="#d1ff2e"/><stop offset="0.4732" stop-color="#8fff70"/><stop offset="0.6124" stop-color="#65ff9a"/><stop offset="0.6858" stop-color="#3effc1"/><stop offset="0.7364" stop-color="#1effe1"/><stop offset="0.7971" stop-color="#03fffc"/><stop offset="0.8148" stop-color="#00f3ff"/><stop offset="0.8629" stop-color="#00b7ff"/><stop offset="0.8831" stop-color="#0099ff"/><stop offset="0.8983" stop-color="#0078ff"/><stop offset="0.9135" stop-color="#0068ff"/><stop offset="0.9338" stop-color="#0057ff"/><stop offset="0.9844" stop-color="#0025ff"/><stop offset="0.997" stop-color="#0020ff"/><stop offset="0.9995" stop-color="#0020ff"/></linearGradient>
<linearGradient id="c68" x1="0" y1="0" x2="0" y2="1"><stop offset="0" stop-color="#d4ff2b"/><stop offset="0.4763" stop-color="#90ff6f"/><stop offset="0.6106" stop-color="#67ff98"/><stop offset="0.6866" stop-color="#3fffc0"/><stop offset="0.7347" stop-color="#1fffe0"/><stop offset="0.7955" stop-color="#03fffc"/><stop offset="0.8133" stop-color="#00f3ff"/><stop offset="0.8614" stop-color="#00b7ff"/><stop offset="0.8817" stop-color="#0098ff"/><stop offset="0.8969" stop-color="#0078ff"/><stop offset="0.9121" stop-color="#0067ff"/><stop offset="0.9323" stop-color="#0058ff"/><stop offset="0.9856" stop-color="#0023ff"/><stop offset="0.9982" stop-color="#001fff"/></linearGradient>
<linearGradient id="c69" x1="0" y1="0" x2="0" y2="1"><stop offset="0" stop-color="#d6ff29"/><stop offset="0.4033" stop-color="#9fff60"/><stop offset="0.5175" stop-color="#88ff77"/><stop offset="0.6215" stop-color="#64ff9b"/><stop offset="0.69" stop-color="#3dffc2"/><stop offset="0.7382" stop-color="#1effe1"/><stop offset="0.794" stop-color="#03fffc"/><stop offset="0.8092" stop-color="#00f5ff"/><stop offset="0.8523" stop-color="#00c2ff"/><stop offset="0.8802" stop-color="#0097ff"/><stop offset="0.8954" stop-color="#0077ff"/><stop offset="0.9106" stop-color="#0067ff"/><stop offset="0.9309" stop-color="#0058ff"/><stop offset="0.9842" stop-color="#0023ff"/><stop offset="0.9969" stop-color="#001eff"/><stop offset="0.9994" stop-color="#001eff"/></linearGradient>
<linearGradient id="c70" x1="0" y1="0" x2="0" y2="1"><stop offset="0" stop-color="#d8ff27"/><stop offset="0.3759" stop-color="#a4ff5b"/><stop offset="0.5029" stop-color="#8eff71"/><stop offset="0.6146" stop-color="#69ff96"/><stop offset="0.6883" stop-color="#3fffc0"/><stop offset="0.7391" stop-color="#1effe1"/><stop offset="0.7924" stop-color="#04fffb"/><stop offset="0.8025" stop-color="#00fbff"/><stop offset="0.8432" stop-color="#00ccff"/><stop offset="0.8762" stop-color="#009cff"/><stop offset="0.894" stop-color="#0076ff"/><stop offset="0.9092" stop-color="#0067ff"/><stop offset="0.9295" stop-color="#0058ff"/><stop offset="0.9854" stop-color="#0021ff"/><stop offset="0.9981" stop-color="#001dff"/></linearGradient>
<linearGradient id="c71" x1="0" y1="0" x2="0" y2="1"><stop offset="0" stop-color="#daff25"/><stop offset="0.3763" stop-color="#a5ff5a"/><stop offset="0.506" stop-color="#90ff6f"/><stop offset="0.6103" stop-color="#6cff93"/><stop offset="0.684" stop-color="#42ffbd"/><stop offset="0.74" stop-color="#1effe1"/><stop offset="0.7908" stop-color="#05fffa"/><stop offset="0.8035" stop-color="#00faff"/><stop offset="0.8442" stop-color="#00c9ff"/><stop offset="0.8747" stop-color="#009cff"/><stop offset="0.89" stop-color="#0079ff"/><stop offset="0.9027" stop-color="#006aff"/><stop offset="0.9281" stop-color="#0058ff"/><stop offset="0.9841" stop-color="#0021ff"/><stop offset="0.9968" stop-color="#001cff"/><stop offset="0.9993" stop-color="#001cff"/></linearGradient>
<linearGradient id="c72" x1="0" y1="0" x2="0" y2="1"><stop offset="0" stop-color="#dbff24"/><stop offset="0.3793" stop-color="#a5ff5a"/><stop offset="0.5092" stop-color="#91ff6e"/><stop offset="0.6059" stop-color="#70ff8f"/><stop offset="0.6823" stop-color="#43ffbc"/><stop offset="0.7408" stop-color="#1fffe0"/><stop offset="0.7918" stop-color="#05fffa"/><stop offset="0.8045" stop-color="#00f9ff"/><stop offset="0.8503" stop-color="#00bfff"/><stop offset="0.8732" stop-color="#009bff"/><stop offset="0.8885" stop-color="#0079ff"/><stop offset="0.9012" stop-color="#006aff"/><stop offset="0.9242" stop-color="#005bff"/><stop offset="0.9827" stop-color="#0021ff"/><stop offset="0.9954" stop-color="#001bff"/><stop offset="0.998" stop-color="#001bff"/></linearGradient>
<linearGradient id="c73" x1="0" y1="0" x2="0" y2="1"><stop offset="0" stop-color="#ddff22"/><stop offset="0.3823" stop-color="#a6ff59"/><stop offset="0.5123" stop-color="#92ff6d"/><stop offset="0.6041" stop-color="#72ff8d"/><stop offset="0.6831" stop-color="#43ffbc"/><stop offset="0.7418" stop-color="#1fffe0"/><stop offset="0.7902" stop-color="#07fff8"/><stop offset="0.8029" stop-color="#00fbff"/><stop offset="0.8488" stop-color="#00bfff"/><stop offset="0.8717" stop-color="#009bff"/><stop offset="0.887" stop-color="#0079ff"/><stop offset="0.8998" stop-color="#006aff"/><stop offset="0.9227" stop-color="#005bff"/><stop offset="0.9814" stop-color="#0021ff"/><stop offset="0.9941" stop-color="#001aff"/><stop offset="0.9992" stop-color="#001aff"/></linearGradient>
<linearGradient id="c74" x1="0" y1="0" x2="0" y2="1"><stop offset="0" stop-color="#deff21"/><stop offset="0.3828" stop-color="#a7ff58"/><stop offset="0.5155" stop-color="#94ff6b"/><stop offset="0.5997" stop-color="#75ff8a"/><stop offset="0.6789" stop-color="#46ffb9"/><stop offset="0.7401" stop-color="#21ffde"/><stop offset="0.7886" stop-color="#09fff6"/><stop offset="0.8014" stop-color="#00fdff"/><stop offset="0.8447" stop-color="#00c3ff"/><stop offset="0.8703" stop-color="#009cff"/><stop offset="0.8856" stop-color="#0079ff"/><stop offset="0.8983" stop-color="#006aff"/><stop offset="0.9213" stop-color="#005bff"/><stop offset="0.98" stop-color="#0021ff"/><stop offset="0.9928" stop-color="#0019ff"/><stop offset="0.9979" stop-color="#0019ff"/></linearGradient>
<linearGradient id="c75" x1="0" y1="0" x2="0" y2="1"><stop offset="0" stop-color="#e0ff1f"/><stop offset="0.3807" stop-color="#a7ff58"/><stop offset="0.5187" stop-color="#94ff6b"/><stop offset="0.6005" stop-color="#76ff89"/><stop offset="0.6771" stop-color="#48ffb7"/><stop offset="0.7385" stop-color="#22ffdd"/><stop offset="0.787" stop-color="#0bfff4"/><stop offset="0.8023" stop-color="#00fcff"/><stop offset="0.8611" stop-color="#00a9ff"/><stop offset="0.8739" stop-color="#0090ff"/><stop offset="0.8867" stop-color="#0075ff"/><stop offset="0.902" stop-color="#0067ff"/><stop offset="0.9199" stop-color="#005bff"/><stop offset="0.9786" stop-color="#0021ff"/><stop offset="0.994" stop-color="#0018ff"/><stop offset="0.9991" stop-color="#0018ff"/></linearGradient>
<linearGradient id="c76" x1="0" y1="0" x2="0" y2="1"><stop offset="0" stop-color="#e1ff1e"/><stop offset="0.2277" stop-color="#bfff40"/><stop offset="0.3633" stop-color="#a9ff56"/><stop offset="0.5193" stop-color="#96ff69"/><stop offset="0.5961" stop-color="#79ff86"/><stop offset="0.6703" stop-color="#4dffb2"/><stop offset="0.7368" stop-color="#23ffdc"/><stop offset="0.7854" stop-color="#0dfff2"/><stop offset="0.8008" stop-color="#00feff"/><stop offset="0.8647" stop-color="#00a2ff"/><stop offset="0.8852" stop-color="#0076ff"/><stop offset="0.9005" stop-color="#0068ff"/><stop offset="0.9184" stop-color="#005bff"/><stop offset="0.9747" stop-color="#0023ff"/><stop offset="0.9926" stop-color="#0017ff"/><stop offset="0.9977" stop-color="#0017ff"/></linearGradient>
<linearGradient id="c77" x1="0" y1="0" x2="0" y2="1"><stop offset="0" stop-color="#e3ff1c"/><stop offset="0.2075" stop-color="#c2ff3d"/><stop offset="0.3765" stop-color="#a8ff57"/><stop offset="0.5251" stop-color="#95ff6a"/><stop offset="0.5994" stop-color="#77ff88"/><stop offset="0.6685" stop-color="#4effb1"/><stop offset="0.7351" stop-color="#23ffdc"/><stop offset="0.7838" stop-color="#0ffff0"/><stop offset="0.8017" stop-color="#00fdff"/><stop offset="0.8683" stop-color="#0097ff"/><stop offset="0.8837" stop-color="#0077ff"/><stop offset="0.8965" stop-color="#0069ff"/><stop offset="0.917" stop-color="#005cff"/><stop offset="0.9733" stop-color="#0023ff"/><stop offset="0.9938" stop-color="#0016ff"/><stop offset="0.999" stop-color="#0016ff"/></linearGradient>
<linearGradient id="c78" x1="0" y1="0" x2="0" y2="1"><stop offset="0" stop-color="#e4ff1b"/><stop offset="0.2" stop-color="#c3ff3c"/><stop offset="0.2616" stop-color="#bbff44"/><stop offset="0.3462" stop-color="#abff54"/><stop offset="0.5283" stop-color="#95ff6a"/><stop offset="0.6027" stop-color="#76ff89"/><stop offset="0.6668" stop-color="#50ffaf"/><stop offset="0.736" stop-color="#23ffdc"/><stop offset="0.7848" stop-color="#10ffef"/><stop offset="0.8027" stop-color="#00fcff"/><stop offset="0.8668" stop-color="#0097ff"/><stop offset="0.8822" stop-color="#0077ff"/><stop offset="0.895" stop-color="#0069ff"/><stop offset="0.9156" stop-color="#005cff"/><stop offset="0.9694" stop-color="#0025ff"/><stop offset="0.9925" stop-color="#0015ff"/><stop offset="0.9976" stop-color="#0015ff"/></linearGradient>
<linearGradient id="c79" x1="0" y1="0" x2="0" y2="1"><stop offset="0" stop-color="#e5ff1a"/><stop offset="0.1951" stop-color="#c3ff3c"/><stop offset="0.2593" stop-color="#bdff42"/><stop offset="0.3004" stop-color="#b1ff4e"/><stop offset="0.5341" stop-color="#94ff6b"/><stop offset="0.6342" stop-color="#66ff99"/><stop offset="0.7369" stop-color="#23ffdc"/><stop offset="0.7857" stop-color="#10ffef"/><stop offset="0.8011" stop-color="#00ffff"/><stop offset="0.8499" stop-color="#00aeff"/><stop offset="0.8653" stop-color="#0097ff"/><stop offset="0.8807" stop-color="#0077ff"/><stop offset="0.8936" stop-color="#006aff"/><stop offset="0.9141" stop-color="#005cff"/><stop offset="0.968" stop-color="#0025ff"/><stop offset="0.9911" stop-color="#0015ff"/><stop offset="0.9988" stop-color="#0015ff"/></linearGradient>
<linearGradient id="c80" x1="0" y1="0" x2="0" y2="1"><stop offset="0" stop-color="#e6ff19"/><stop offset="0.1928" stop-color="#c3ff3c"/><stop offset="0.2622" stop-color="#beff41"/><stop offset="0.2802" stop-color="#b3ff4c"/><stop offset="0.5373" stop-color="#92ff6d"/><stop offset="0.6581" stop-color="#58ffa7"/><stop offset="0.7121" stop-color="#32ffcd"/><stop offset="0.7507" stop-color="#1fffe0"/><stop offset="0.7867" stop-color="#10ffef"/><stop offset="0.8021" stop-color="#00feff"/><stop offset="0.8432" stop-color="#00b5ff"/><stop offset="0.8638" stop-color="#0096ff"/><stop offset="0.8792" stop-color="#0077ff"/><stop offset="0.8921" stop-color="#006aff"/><stop offset="0.9101" stop-color="#005eff"/><stop offset="0.9615" stop-color="#0029ff"/><stop offset="0.9924" stop-color="#0014ff"/><stop offset="0.9975" stop-color="#0014ff"/></linearGradient>
<linearGradient id="c81" x1="0" y1="0" x2="0" y2="1"><stop offset="0" stop-color="#e5ff1a"/><stop offset="0.1931" stop-color="#c3ff3c"/><stop offset="0.2626" stop-color="#bdff42"/><stop offset="0.2831" stop-color="#b2ff4d"/><stop offset="0.538" stop-color="#90ff6f"/><stop offset="0.6615" stop-color="#55ffaa"/><stop offset="0.7182" stop-color="#2effd1"/><stop offset="0.7619" stop-color="#1bffe4"/><stop offset="0.7902" stop-color="#0dfff2"/><stop offset="0.8031" stop-color="#00fdff"/><stop offset="0.8443" stop-color="#00b2ff"/><stop offset="0.8623" stop-color="#0096ff"/><stop offset="0.8777" stop-color="#0076ff"/><stop offset="0.8932" stop-color="#0068ff"/><stop offset="0.9086" stop-color="#005dff"/><stop offset="0.9575" stop-color="#002bff"/><stop offset="0.991" stop-color="#0013ff"/><stop offset="0.9987" stop-color="#0013ff"/></linearGradient>
<linearGradient id="c82" x1="0" y1="0" x2="0" y2="1"><stop offset="0" stop-color="#e2ff1d"/><stop offset="0.1959" stop-color="#c2ff3d"/><stop offset="0.2655" stop-color="#b8ff47"/><stop offset="0.3221" stop-color="#abff54"/><stop offset="0.5361" stop-color="#8eff71"/><stop offset="0.6495" stop-color="#5bffa4"/><stop offset="0.7371" stop-color="#23ffdc"/><stop offset="0.786" stop-color="#0ffff0"/><stop offset="0.8015" stop-color="#00feff"/><stop offset="0.8608" stop-color="#0097ff"/><stop offset="0.8762" stop-color="#0076ff"/><stop offset="0.8917" stop-color="#0068ff"/><stop offset="0.9072" stop-color="#005cff"/><stop offset="0.9561" stop-color="#002aff"/><stop offset="0.9922" stop-color="#0012ff"/><stop offset="1" stop-color="#0012ff"/></linearGradient>
<linearGradient id="c83" x1="0" y1="0" x2="0" y2="1"><stop offset="0" stop-color="#deff21"/><stop offset="0.2038" stop-color="#c1ff3e"/><stop offset="0.2813" stop-color="#b1ff4e"/><stop offset="0.5367" stop-color="#8aff75"/><stop offset="0.6503" stop-color="#59ffa6"/><stop offset="0.7406" stop-color="#21ffde"/><stop offset="0.787" stop-color="#0dfff2"/><stop offset="0.8025" stop-color="#00fdff"/><stop offset="0.8386" stop-color="#00c0ff"/><stop offset="0.8567" stop-color="#009fff"/><stop offset="0.8722" stop-color="#007aff"/><stop offset="0.8851" stop-color="#006bff"/><stop offset="0.9005" stop-color="#0061ff"/><stop offset="0.9444" stop-color="#0032ff"/><stop offset="0.9909" stop-color="#0011ff"/><stop offset="0.9986" stop-color="#0011ff"/></linearGradient>
<linearGradient id="c84" x1="0" y1="0" x2="0" y2="1"><stop offset="0" stop-color="#daff25"/><stop offset="0.2532" stop-color="#b7ff48"/><stop offset="0.3746" stop-color="#a0ff5f"/><stop offset="0.5296" stop-color="#88ff77"/><stop offset="0.6356" stop-color="#5effa1"/><stop offset="0.7441" stop-color="#1fffe0"/><stop offset="0.788" stop-color="#0bfff4"/><stop offset="0.8035" stop-color="#00fcff"/><stop offset="0.8345" stop-color="#00cbff"/><stop offset="0.8552" stop-color="#00a3ff"/><stop offset="0.8707" stop-color="#007aff"/><stop offset="0.8836" stop-color="#006bff"/><stop offset="0.8965" stop-color="#0062ff"/><stop offset="0.9378" stop-color="#0035ff"/><stop offset="0.9895" stop-color="#0010ff"/><stop offset="0.9998" stop-color="#0010ff"/></linearGradient>
<linearGradient id="c85" x1="0" y1="0" x2="0" y2="1"><stop offset="0" stop-color="#d6ff29"/><stop offset="0.2457" stop-color="#b7ff48"/><stop offset="0.3803" stop-color="#9dff62"/><stop offset="0.5277" stop-color="#84ff7b"/><stop offset="0.6389" stop-color="#5affa5"/><stop offset="0.7502" stop-color="#1dffe2"/><stop offset="0.7915" stop-color="#08fff7"/><stop offset="0.8019" stop-color="#00fdff"/><stop offset="0.8303" stop-color="#00d5ff"/><stop offset="0.8536" stop-color="#00a7ff"/><stop offset="0.8666" stop-color="#0080ff"/><stop offset="0.8795" stop-color="#006dff"/><stop offset="0.8924" stop-color="#0063ff"/><stop offset="0.9286" stop-color="#0039ff"/><stop offset="0.9881" stop-color="#0010ff"/><stop offset="0.9985" stop-color="#000fff"/></linearGradient>
<linearGradient id="c86" x1="0" y1="0" x2="0" y2="1"><stop offset="0" stop-color="#d2ff2d"/><stop offset="0.2435" stop-color="#b5ff4a"/><stop offset="0.3911" stop-color="#99ff66"/><stop offset="0.5258" stop-color="#80ff7f"/><stop offset="0.6423" stop-color="#56ffa9"/><stop offset="0.7096" stop-color="#31ffce"/><stop offset="0.7951" stop-color="#04fffb"/><stop offset="0.8055" stop-color="#00faff"/><stop offset="0.8314" stop-color="#00d7ff"/><stop offset="0.8521" stop-color="#00adff"/><stop offset="0.8676" stop-color="#007dff"/><stop offset="0.878" stop-color="#006dff"/><stop offset="0.8883" stop-color="#0065ff"/><stop offset="0.9194" stop-color="#003eff"/><stop offset="0.966" stop-color="#001cff"/><stop offset="0.9945" stop-color="#000fff"/><stop offset="0.9997" stop-color="#000fff"/></linearGradient>
<linearGradient id="c87" x1="0" y1="0" x2="0" y2="1"><stop offset="0" stop-color="#cdff32"/><stop offset="0.2438" stop-color="#b2ff4d"/><stop offset="0.4123" stop-color="#92ff6d"/><stop offset="0.5316" stop-color="#79ff86"/><stop offset="0.6483" stop-color="#50ffaf"/><stop offset="0.7961" stop-color="#03fffc"/><stop offset="0.8117" stop-color="#00f4ff"/><stop offset="0.835" stop-color="#00d4ff"/><stop offset="0.8506" stop-color="#00b5ff"/><stop offset="0.8661" stop-color="#007fff"/><stop offset="0.8765" stop-color="#006eff"/><stop offset="0.8869" stop-color="#0064ff"/><stop offset="0.9154" stop-color="#003eff"/><stop offset="0.9569" stop-color="#001fff"/><stop offset="0.9932" stop-color="#000eff"/><stop offset="0.9984" stop-color="#000eff"/></linearGradient>
<linearGradient id="c88" x1="0" y1="0" x2="0" y2="1"><stop offset="0" stop-color="#c8ff37"/><stop offset="0.2415" stop-color="#afff50"/><stop offset="0.5167" stop-color="#79ff86"/><stop offset="0.6439" stop-color="#4fffb0"/><stop offset="0.8023" stop-color="#00fdff"/><stop offset="0.8282" stop-color="#00e3ff"/><stop offset="0.849" stop-color="#00bdff"/><stop offset="0.8646" stop-color="#0083ff"/><stop offset="0.875" stop-color="#006fff"/><stop offset="0.8854" stop-color="#0064ff"/><stop offset="0.9087" stop-color="#0041ff"/><stop offset="0.9425" stop-color="#0025ff"/><stop offset="0.9944" stop-color="#000eff"/><stop offset="0.9996" stop-color="#000eff"/></linearGradient>
<linearGradient id="c89" x1="0" y1="0" x2="0" y2="1"><stop offset="0" stop-color="#c3ff3c"/><stop offset="0.234" stop-color="#adff52"/><stop offset="0.5121" stop-color="#76ff89"/><stop offset="0.6473" stop-color="#4affb5"/><stop offset="0.8007" stop-color="#00feff"/><stop offset="0.8267" stop-color="#00e7ff"/><stop offset="0.8449" stop-color="#00c9ff"/><stop offset="0.8527" stop-color="#00b3ff"/><stop offset="0.8657" stop-color="#0080ff"/><stop offset="0.8735" stop-color="#0070ff"/><stop offset="0.8839" stop-color="#0064ff"/><stop offset="0.9047" stop-color="#0042ff"/><stop offset="0.9332" stop-color="#0028ff"/><stop offset="0.9956" stop-color="#000eff"/><stop offset="0.9982" stop-color="#000eff"/></linearGradient>
<linearGradient id="c90" x1="0" y1="0" x2="0" y2="1"><stop offset="0" stop-color="#bcff43"/><stop offset="0.2212" stop-color="#abff54"/><stop offset="0.5075" stop-color="#73ff8c"/><stop offset="0.6533" stop-color="#44ffbb"/><stop offset="0.8017" stop-color="#00fdff"/><stop offset="0.8277" stop-color="#00e7ff"/><stop offset="0.8459" stop-color="#00c8ff"/><stop offset="0.8537" stop-color="#00afff"/><stop offset="0.8641" stop-color="#0084ff"/><stop offset="0.8719" stop-color="#0072ff"/><stop offset="0.8824" stop-color="#0064ff"/><stop offset="0.9032" stop-color="#0040ff"/><stop offset="0.9318" stop-color="#0026ff"/><stop offset="0.9943" stop-color="#000eff"/><stop offset="0.9995" stop-color="#000eff"/></linearGradient>
<linearGradient id="c91" x1="0" y1="0" x2="0" y2="1"><stop offset="0" stop-color="#b6ff49"/><stop offset="0.2111" stop-color="#a7ff58"/><stop offset="0.503" stop-color="#70ff8f"/><stop offset="0.6593" stop-color="#3fffc0"/><stop offset="0.8001" stop-color="#00fdff"/><stop offset="0.8261" stop-color="#00e9ff"/><stop offset="0.8444" stop-color="#00cdff"/><stop offset="0.8522" stop-color="#00b8ff"/><stop offset="0.8652" stop-color="#0082ff"/><stop offset="0.873" stop-color="#0071ff"/><stop offset="0.8808" stop-color="#0066ff"/><stop offset="0.9017" stop-color="#0040ff"/><stop offset="0.9278" stop-color="#0025ff"/><stop offset="0.9851" stop-color="#000fff"/><stop offset="0.9981" stop-color="#000dff"/></linearGradient>
<linearGradient id="c92" x1="0" y1="0" x2="0" y2="1"><stop offset="0" stop-color="#aeff51"/><stop offset="0.1983" stop-color="#a4ff5b"/><stop offset="0.4958" stop-color="#6eff91"/><stop offset="0.6602" stop-color="#3bffc4"/><stop offset="0.7958" stop-color="#00fdff"/><stop offset="0.8245" stop-color="#00ebff"/><stop offset="0.8428" stop-color="#00d1ff"/><stop offset="0.8532" stop-color="#00b7ff"/><stop offset="0.8663" stop-color="#0082ff"/><stop offset="0.8741" stop-color="#0071ff"/><stop offset="0.8793" stop-color="#006cff"/><stop offset="0.8976" stop-color="#0045ff"/><stop offset="0.9211" stop-color="#0028ff"/><stop offset="0.955" stop-color="#0017ff"/><stop offset="0.9994" stop-color="#000dff"/></linearGradient>
<linearGradient id="c93" x1="0" y1="0" x2="0" y2="1"><stop offset="0" stop-color="#a7ff58"/><stop offset="0.1881" stop-color="#9fff60"/><stop offset="0.4885" stop-color="#6bff94"/><stop offset="0.6531" stop-color="#39ffc6"/><stop offset="0.7942" stop-color="#00fdff"/><stop offset="0.823" stop-color="#00edff"/><stop offset="0.8412" stop-color="#00d4ff"/><stop offset="0.8517" stop-color="#00bdff"/><stop offset="0.8674" stop-color="#0081ff"/><stop offset="0.8752" stop-color="#0070ff"/><stop offset="0.883" stop-color="#0063ff"/><stop offset="0.9013" stop-color="#003eff"/><stop offset="0.9248" stop-color="#0023ff"/><stop offset="0.9614" stop-color="#0013ff"/><stop offset="0.998" stop-color="#000cff"/></linearGradient>
<linearGradient id="c94" x1="0" y1="0" x2="0" y2="1"><stop offset="0" stop-color="#9fff60"/><stop offset="0.1805" stop-color="#9aff65"/><stop offset="0.4787" stop-color="#68ff97"/><stop offset="0.633" stop-color="#3bffc4"/><stop offset="0.7717" stop-color="#06fff9"/><stop offset="0.7978" stop-color="#00fbff"/><stop offset="0.824" stop-color="#00ecff"/><stop offset="0.8423" stop-color="#00d3ff"/><stop offset="0.8528" stop-color="#00bcff"/><stop offset="0.8684" stop-color="#0080ff"/><stop offset="0.8763" stop-color="#0070ff"/><stop offset="0.8815" stop-color="#0067ff"/><stop offset="0.8998" stop-color="#0040ff"/><stop offset="0.9208" stop-color="#0025ff"/><stop offset="0.9522" stop-color="#0014ff"/><stop offset="0.9992" stop-color="#000cff"/></linearGradient>
<linearGradient id="c95" x1="0" y1="0" x2="0" y2="1"><stop offset="0" stop-color="#97ff68"/><stop offset="0.1755" stop-color="#95ff6a"/><stop offset="0.4714" stop-color="#65ff9a"/><stop offset="0.6181" stop-color="#3cffc3"/><stop offset="0.7622" stop-color="#09fff6"/><stop offset="0.791" stop-color="#00fcff"/><stop offset="0.8224" stop-color="#00edff"/><stop offset="0.8407" stop-color="#00d7ff"/><stop offset="0.8538" stop-color="#00bbff"/><stop offset="0.8695" stop-color="#007fff"/><stop offset="0.8774" stop-color="#0070ff"/><stop offset="0.8826" stop-color="#0066ff"/><stop offset="0.901" stop-color="#003eff"/><stop offset="0.9219" stop-color="#0023ff"/><stop offset="0.9507" stop-color="#0013ff"/><stop offset="0.9979" stop-color="#000bff"/></linearGradient>
<linearGradient id="c96" x1="0" y1="0" x2="0" y2="1"><stop offset="0" stop-color="#90ff6f"/><stop offset="0.1705" stop-color="#8fff70"/><stop offset="0.4615" stop-color="#62ff9d"/><stop offset="0.6058" stop-color="#3bffc4"/><stop offset="0.771" stop-color="#04fffb"/><stop offset="0.7972" stop-color="#00f9ff"/><stop offset="0.8287" stop-color="#00e7ff"/><stop offset="0.847" stop-color="#00ccff"/><stop offset="0.8575" stop-color="#00b1ff"/><stop offset="0.8706" stop-color="#007fff"/><stop offset="0.8837" stop-color="#0065ff"/><stop offset="0.9021" stop-color="#003cff"/><stop offset="0.9231" stop-color="#0021ff"/><stop offset="0.9519" stop-color="#0012ff"/><stop offset="0.9991" stop-color="#000bff"/></linearGradient>
<linearGradient id="c97" x1="0" y1="0" x2="0" y2="1"><stop offset="0" stop-color="#88ff77"/><stop offset="0.168" stop-color="#88ff77"/><stop offset="0.4569" stop-color="#5dffa2"/><stop offset="0.596" stop-color="#39ffc6"/><stop offset="0.7693" stop-color="#03fffc"/><stop offset="0.8008" stop-color="#00f6ff"/><stop offset="0.8323" stop-color="#00e1ff"/><stop offset="0.8507" stop-color="#00c6ff"/><stop offset="0.8586" stop-color="#00b0ff"/><stop offset="0.8717" stop-color="#007eff"/><stop offset="0.8848" stop-color="#0062ff"/><stop offset="0.9032" stop-color="#003aff"/><stop offset="0.9242" stop-color="#001fff"/><stop offset="0.9531" stop-color="#0010ff"/><stop offset="0.9977" stop-color="#000bff"/></linearGradient>
<linearGradient id="c98" x1="0" y1="0" x2="0" y2="1"><stop offset="0" stop-color="#81ff7e"/><stop offset="0.1683" stop-color="#82ff7d"/><stop offset="0.4548" stop-color="#58ffa7"/><stop offset="0.5994" stop-color="#32ffcd"/><stop offset="0.7519" stop-color="#07fff8"/><stop offset="0.7808" stop-color="#00fcff"/><stop offset="0.8255" stop-color="#00e4ff"/><stop offset="0.8465" stop-color="#00cbff"/><stop offset="0.857" stop-color="#00b5ff"/><stop offset="0.8728" stop-color="#007cff"/><stop offset="0.8833" stop-color="#0066ff"/><stop offset="0.9017" stop-color="#003cff"/><stop offset="0.9228" stop-color="#0020ff"/><stop offset="0.949" stop-color="#0010ff"/><stop offset="0.999" stop-color="#000aff"/></linearGradient>
<linearGradient id="c99" x1="0" y1="0" x2="0" y2="1"><stop offset="0" stop-color="#79ff86"/><stop offset="0.1685" stop-color="#7bff84"/><stop offset="0.4527" stop-color="#53ffac"/><stop offset="0.7423" stop-color="#07fff8"/><stop offset="0.7712" stop-color="#00fbff"/><stop offset="0.8213" stop-color="#00e1ff"/><stop offset="0.845" stop-color="#00c8ff"/><stop offset="0.8607" stop-color="#00a7ff"/><stop offset="0.8739" stop-color="#007bff"/><stop offset="0.8871" stop-color="#005dff"/><stop offset="0.9055" stop-color="#0037ff"/><stop offset="0.9292" stop-color="#001aff"/><stop offset="0.9581" stop-color="#000cff"/><stop offset="0.9976" stop-color="#0008ff"/></linearGradient>
<linearGradient id="c100" x1="0" y1="0" x2="0" y2="1"><stop offset="0" stop-color="#72ff8d"/><stop offset="0.1687" stop-color="#73ff8c"/><stop offset="0.4533" stop-color="#4cffb3"/><stop offset="0.6668" stop-color="#18ffe7"/><stop offset="0.7432" stop-color="#04fffb"/><stop offset="0.7749" stop-color="#00f5ff"/><stop offset="0.8223" stop-color="#00daff"/><stop offset="0.8486" stop-color="#00bdff"/><stop offset="0.8645" stop-color="#009dff"/><stop offset="0.8776" stop-color="#0076ff"/><stop offset="0.9014" stop-color="#0041ff"/><stop offset="0.9251" stop-color="#001fff"/><stop offset="0.9514" stop-color="#000dff"/><stop offset="0.9989" stop-color="#0007ff"/></linearGradient>
<linearGradient id="c101" x1="0" y1="0" x2="0" y2="1"><stop offset="0" stop-color="#6aff95"/><stop offset="0.1689" stop-color="#6cff93"/><stop offset="0.4539" stop-color="#46ffb9"/><stop offset="0.636" stop-color="#1bffe4"/><stop offset="0.7336" stop-color="#04fffb"/><stop offset="0.7574" stop-color="#00f9ff"/><stop offset="0.8181" stop-color="#00d7ff"/><stop offset="0.8524" stop-color="#00b5ff"/><stop offset="0.8656" stop-color="#009fff"/><stop offset="0.8814" stop-color="#0075ff"/><stop offset="0.8893" stop-color="#0066ff"/><stop offset="0.9131" stop-color="#0032ff"/><stop offset="0.9342" stop-color="#0017ff"/><stop offset="0.9632" stop-color="#0009ff"/><stop offset="0.9975" stop-color="#0006ff"/></linearGradient>
<linearGradient id="c102" x1="0" y1="0" x2="0" y2="1"><stop offset="0" stop-color="#63ff9c"/><stop offset="0.1691" stop-color="#65ff9a"/><stop offset="0.4545" stop-color="#3fffc0"/><stop offset="0.6236" stop-color="#18ffe7"/><stop offset="0.7319" stop-color="#01fffe"/><stop offset="0.8138" stop-color="#00d4ff"/><stop offset="0.864" stop-color="#00a9ff"/><stop offset="0.8746" stop-color="#0092ff"/><stop offset="0.8878" stop-color="#0073ff"/><stop offset="0.8957" stop-color="#0066ff"/><stop offset="0.9116" stop-color="#003aff"/><stop offset="0.9274" stop-color="#001fff"/><stop offset="0.9512" stop-color="#000cff"/><stop offset="0.9988" stop-color="#0005ff"/></linearGradient>
<linearGradient id="c103" x1="0" y1="0" x2="0" y2="1"><stop offset="0" stop-color="#5cffa3"/><stop offset="0.172" stop-color="#5dffa2"/><stop offset="0.4577" stop-color="#38ffc7"/><stop offset="0.6191" stop-color="#15ffea"/><stop offset="0.7275" stop-color="#00fdff"/><stop offset="0.8254" stop-color="#00c8ff"/><stop offset="0.8677" stop-color="#00a9ff"/><stop offset="0.8783" stop-color="#008fff"/><stop offset="0.8915" stop-color="#0071ff"/><stop offset="0.8968" stop-color="#0065ff"/><stop offset="0.9101" stop-color="#003dff"/><stop offset="0.9259" stop-color="#0020ff"/><stop offset="0.9471" stop-color="#000dff"/><stop offset="0.9868" stop-color="#0005ff"/><stop offset="0.9974" stop-color="#0004ff"/></linearGradient>
<linearGradient id="c104" x1="0" y1="0" x2="0" y2="1"><stop offset="0" stop-color="#55ffaa"/><stop offset="0.1748" stop-color="#54ffab"/><stop offset="0.4662" stop-color="#2fffd0"/><stop offset="0.6172" stop-color="#10ffef"/><stop offset="0.7099" stop-color="#00fcff"/><stop offset="0.7682" stop-color="#00e3ff"/><stop offset="0.8635" stop-color="#00aeff"/><stop offset="0.8741" stop-color="#009fff"/><stop offset="0.8927" stop-color="#006aff"/><stop offset="0.9006" stop-color="#004eff"/><stop offset="0.9192" stop-color="#0029ff"/><stop offset="0.9404" stop-color="#0011ff"/><stop offset="0.9721" stop-color="#0005ff"/><stop offset="0.9986" stop-color="#0004ff"/></linearGradient>
<linearGradient id="c105" x1="0" y1="0" x2="0" y2="1"><stop offset="0" stop-color="#4dffb2"/><stop offset="0.175" stop-color="#4cffb3"/><stop offset="0.4721" stop-color="#27ffd8"/><stop offset="0.6418" stop-color="#07fff8"/><stop offset="0.6896" stop-color="#00fcff"/><stop offset="0.7612" stop-color="#00e1ff"/><stop offset="0.8408" stop-color="#00baff"/><stop offset="0.8673" stop-color="#00aaff"/><stop offset="0.8752" stop-color="#009eff"/><stop offset="0.8938" stop-color="#006dff"/><stop offset="0.9044" stop-color="#0049ff"/><stop offset="0.9203" stop-color="#0028ff"/><stop offset="0.9415" stop-color="#0011ff"/><stop offset="0.9734" stop-color="#0004ff"/><stop offset="0.9999" stop-color="#0003ff"/></linearGradient>
<linearGradient id="c106" x1="0" y1="0" x2="0" y2="1"><stop offset="0" stop-color="#46ffb9"/><stop offset="0.1753" stop-color="#44ffbb"/><stop offset="0.4833" stop-color="#1dffe2"/><stop offset="0.6612" stop-color="#00fdff"/><stop offset="0.7542" stop-color="#00ddff"/><stop offset="0.8312" stop-color="#00baff"/><stop offset="0.8631" stop-color="#00abff"/><stop offset="0.8763" stop-color="#009bff"/><stop offset="0.8976" stop-color="#0064ff"/><stop offset="0.9135" stop-color="#0038ff"/><stop offset="0.9321" stop-color="#001bff"/><stop offset="0.9587" stop-color="#0008ff"/><stop offset="0.9985" stop-color="#0002ff"/></linearGradient>
<linearGradient id="c107" x1="0" y1="0" x2="0" y2="1"><stop offset="0" stop-color="#3effc1"/><stop offset="0.1755" stop-color="#3bffc4"/><stop offset="0.4946" stop-color="#13ffec"/><stop offset="0.6275" stop-color="#00fdff"/><stop offset="0.7312" stop-color="#00e0ff"/><stop offset="0.8376" stop-color="#00b5ff"/><stop offset="0.8642" stop-color="#00a7ff"/><stop offset="0.8801" stop-color="#0090ff"/><stop offset="0.9147" stop-color="#003aff"/><stop offset="0.9333" stop-color="#001dff"/><stop offset="0.9599" stop-color="#000aff"/><stop offset="0.9998" stop-color="#0001ff"/></linearGradient>
<linearGradient id="c108" x1="0" y1="0" x2="0" y2="1"><stop offset="0" stop-color="#36ffc9"/><stop offset="0.1757" stop-color="#32ffcd"/><stop offset="0.5138" stop-color="#08fff7"/><stop offset="0.5964" stop-color="#00fcff"/><stop offset="0.7268" stop-color="#00d9ff"/><stop offset="0.8573" stop-color="#00a8ff"/><stop offset="0.8759" stop-color="#0094ff"/><stop offset="0.8999" stop-color="#0060ff"/><stop offset="0.9185" stop-color="#0037ff"/><stop offset="0.9425" stop-color="#0018ff"/><stop offset="0.9744" stop-color="#0006ff"/><stop offset="0.9984" stop-color="#0001ff"/></linearGradient>
<linearGradient id="c109" x1="0" y1="0" x2="0" y2="1"><stop offset="0" stop-color="#2effd1"/><stop offset="0.1786" stop-color="#28ffd7"/><stop offset="0.5358" stop-color="#00fdff"/><stop offset="0.5731" stop-color="#00faff"/><stop offset="0.7357" stop-color="#00cfff"/><stop offset="0.8557" stop-color="#00a4ff"/><stop offset="0.877" stop-color="#0090ff"/><stop offset="0.901" stop-color="#0060ff"/><stop offset="0.9223" stop-color="#0036ff"/><stop offset="0.9463" stop-color="#0019ff"/><stop offset="0.9837" stop-color="#0004ff"/><stop offset="0.9997" stop-color="#0002ff"/></linearGradient>
<linearGradient id="c110" x1="0" y1="0" x2="0" y2="1"><stop offset="0" stop-color="#26ffd9"/><stop offset="0.1842" stop-color="#1dffe2"/><stop offset="0.4564" stop-color="#00fcff"/><stop offset="0.5819" stop-color="#00efff"/><stop offset="0.75" stop-color="#00c2ff"/><stop offset="0.8488" stop-color="#00a2ff"/><stop offset="0.8755" stop-color="#008dff"/><stop offset="0.8942" stop-color="#0070ff"/><stop offset="0.9235" stop-color="#0039ff"/><stop offset="0.9502" stop-color="#001aff"/><stop offset="0.9876" stop-color="#0004ff"/><stop offset="0.9983" stop-color="#0003ff"/></linearGradient>
<linearGradient id="c111" x1="0" y1="0" x2="0" y2="1"><stop offset="0" stop-color="#1effe1"/><stop offset="0.2031" stop-color="#11ffee"/><stop offset="0.3742" stop-color="#00fcff"/><stop offset="0.5906" stop-color="#00e3ff"/><stop offset="0.7617" stop-color="#00b8ff"/><stop offset="0.8419" stop-color="#00a0ff"/><stop offset="0.8739" stop-color="#0089ff"/><stop offset="0.898" stop-color="#0067ff"/><stop offset="0.93" stop-color="#0034ff"/><stop offset="0.9621" stop-color="#0015ff"/><stop offset="0.9942" stop-color="#0005ff"/><stop offset="0.9995" stop-color="#0005ff"/></linearGradient>
<linearGradient id="c112" x1="0" y1="0" x2="0" y2="1"><stop offset="0" stop-color="#15ffea"/><stop offset="0.2944" stop-color="#00fcff"/><stop offset="0.6128" stop-color="#00d4ff"/><stop offset="0.8162" stop-color="#00a4ff"/><stop offset="0.859" stop-color="#0090ff"/><stop offset="0.8911" stop-color="#006fff"/><stop offset="0.9366" stop-color="#0030ff"/><stop offset="0.974" stop-color="#0010ff"/><stop offset="0.9955" stop-color="#0007ff"/><stop offset="0.9981" stop-color="#0007ff"/></linearGradient>
<linearGradient id="c113" x1="0" y1="0" x2="0" y2="1"><stop offset="0" stop-color="#0cfff3"/><stop offset="0.1795" stop-color="#00fcff"/><stop offset="0.6189" stop-color="#00c9ff"/><stop offset="0.8145" stop-color="#009fff"/><stop offset="0.8574" stop-color="#008cff"/><stop offset="0.8976" stop-color="#0064ff"/><stop offset="0.9485" stop-color="#0028ff"/><stop offset="0.9887" stop-color="#000aff"/><stop offset="0.9994" stop-color="#000aff"/></linearGradient>
<linearGradient id="c114" x1="0" y1="0" x2="0" y2="1"><stop offset="0" stop-color="#02fffd"/><stop offset="0.2844" stop-color="#00e7ff"/><stop offset="0.6546" stop-color="#00baff"/><stop offset="0.8236" stop-color="#0097ff"/><stop offset="0.8639" stop-color="#0083ff"/><stop offset="0.9122" stop-color="#0053ff"/><stop offset="0.9631" stop-color="#001fff"/><stop offset="0.9926" stop-color="#000cff"/><stop offset="0.998" stop-color="#000cff"/></linearGradient>
<linearGradient id="c115" x1="0" y1="0" x2="0" y2="1"><stop offset="0" stop-color="#00f5ff"/><stop offset="0.5131" stop-color="#00c2ff"/><stop offset="0.5749" stop-color="#00bdff"/><stop offset="0.7817" stop-color="#009cff"/><stop offset="0.8515" stop-color="#0086ff"/><stop offset="0.8918" stop-color="#0068ff"/><stop offset="0.9697" stop-color="#001cff"/><stop offset="0.9912" stop-color="#000eff"/><stop offset="0.9993" stop-color="#000eff"/></linearGradient>
<linearGradient id="c116" x1="0" y1="0" x2="0" y2="1"><stop offset="0" stop-color="#00e9ff"/><stop offset="0.5595" stop-color="#00b8ff"/><stop offset="0.7988" stop-color="#0093ff"/><stop offset="0.8634" stop-color="#007cff"/><stop offset="0.9172" stop-color="#004fff"/><stop offset="0.9871" stop-color="#0012ff"/><stop offset="0.9979" stop-color="#0011ff"/></linearGradient>
<linearGradient id="c117" x1="0" y1="0" x2="0" y2="1"><stop offset="0" stop-color="#00dbff"/><stop offset="0.6087" stop-color="#00aaff"/><stop offset="0.8079" stop-color="#008cff"/><stop offset="0.8726" stop-color="#0073ff"/><stop offset="0.9453" stop-color="#0037ff"/><stop offset="0.9911" stop-color="#0013ff"/><stop offset="0.9992" stop-color="#0013ff"/></linearGradient>
<linearGradient id="c118" x1="0" y1="0" x2="0" y2="1"><stop offset="0" stop-color="#00cfff"/><stop offset="0.6256" stop-color="#00a3ff"/><stop offset="0.8171" stop-color="#0085ff"/><stop offset="0.8791" stop-color="#006cff"/><stop offset="0.9924" stop-color="#0015ff"/><stop offset="0.9978" stop-color="#0015ff"/></linearGradient>
<linearGradient id="c119" x1="0" y1="0" x2="0" y2="1"><stop offset="0" stop-color="#00c3ff"/><stop offset="0.6318" stop-color="#009dff"/><stop offset="0.8262" stop-color="#007fff"/><stop offset="0.8883" stop-color="#0064ff"/><stop offset="0.9909" stop-color="#0018ff"/><stop offset="0.999" stop-color="#0018ff"/></linearGradient>
<linearGradient id="c120" x1="0" y1="0" x2="0" y2="1"><stop offset="0" stop-color="#00baff"/><stop offset="0.638" stop-color="#0097ff"/><stop offset="0.8327" stop-color="#007aff"/><stop offset="0.8949" stop-color="#005fff"/><stop offset="0.9922" stop-color="#001aff"/><stop offset="0.9976" stop-color="#001aff"/></linearGradient>
<linearGradient id="c121" x1="0" y1="0" x2="0" y2="1"><stop offset="0" stop-color="#00b3ff"/><stop offset="0.6497" stop-color="#0092ff"/><stop offset="0.8392" stop-color="#0075ff"/><stop offset="0.9042" stop-color="#0059ff"/><stop offset="0.9908" stop-color="#001cff"/><stop offset="0.9989" stop-color="#001cff"/></linearGradient>
<linearGradient id="c122" x1="0" y1="0" x2="0" y2="1"><stop offset="0" stop-color="#00adff"/><stop offset="0.2738" stop-color="#00a1ff"/><stop offset="0.6641" stop-color="#008cff"/><stop offset="0.8457" stop-color="#0071ff"/><stop offset="0.9135" stop-color="#0054ff"/><stop offset="0.9921" stop-color="#001eff"/><stop offset="0.9975" stop-color="#001eff"/></linearGradient>
<linearGradient id="c123" x1="0" y1="0" x2="0" y2="1"><stop offset="0" stop-color="#00a8ff"/><stop offset="0.2036" stop-color="#009eff"/><stop offset="0.6405" stop-color="#008cff"/><stop offset="0.8495" stop-color="#006dff"/><stop offset="0.9174" stop-color="#0052ff"/><stop offset="0.9906" stop-color="#0020ff"/><stop offset="0.9988" stop-color="#0020ff"/></linearGradient>
<linearGradient id="c124" x1="0" y1="0" x2="0" y2="1"><stop offset="0" stop-color="#00a3ff"/><stop offset="0.1957" stop-color="#009aff"/><stop offset="0.606" stop-color="#008bff"/><stop offset="0.837" stop-color="#006eff"/><stop offset="0.9077" stop-color="#0056ff"/><stop offset="0.9729" stop-color="#002eff"/><stop offset="0.9919" stop-color="#0022ff"/><stop offset="0.9974" stop-color="#0022ff"/></linearGradient>
<linearGradient id="c125" x1="0" y1="0" x2="0" y2="1"><stop offset="0" stop-color="#009eff"/><stop offset="0.2014" stop-color="#0096ff"/><stop offset="0.5361" stop-color="#008bff"/><stop offset="0.6776" stop-color="#0081ff"/><stop offset="0.8599" stop-color="#0066ff"/><stop offset="0.9306" stop-color="#004bff"/><stop offset="0.9932" stop-color="#0023ff"/><stop offset="0.9987" stop-color="#0023ff"/></linearGradient>
<linearGradient id="c126" x1="0" y1="0" x2="0" y2="1"><stop offset="0" stop-color="#009aff"/><stop offset="0.2261" stop-color="#0093ff"/><stop offset="0.5449" stop-color="#0087ff"/><stop offset="0.6757" stop-color="#007fff"/><stop offset="0.8637" stop-color="#0064ff"/><stop offset="0.9346" stop-color="#0049ff"/><stop offset="0.9918" stop-color="#0024ff"/><stop offset="1" stop-color="#0024ff"/></linearGradient>
<linearGradient id="c127" x1="0" y1="0" x2="0" y2="1"><stop offset="0" stop-color="#0095ff"/><stop offset="0.4993" stop-color="#0087ff"/><stop offset="0.6766" stop-color="#007dff"/><stop offset="0.8703" stop-color="#0061ff"/><stop offset="0.9412" stop-color="#0045ff"/><stop offset="0.9931" stop-color="#0025ff"/><stop offset="0.9985" stop-color="#0025ff"/></linearGradient>
<linearGradient id="c128" x1="0" y1="0" x2="0" y2="1"><stop offset="0" stop-color="#0091ff"/><stop offset="0.4753" stop-color="#0085ff"/><stop offset="0.6802" stop-color="#0079ff"/><stop offset="0.8742" stop-color="#005eff"/><stop offset="0.9425" stop-color="#0045ff"/><stop offset="0.9916" stop-color="#0027ff"/><stop offset="0.9998" stop-color="#0027ff"/></linearGradient>
<linearGradient id="c129" x1="0" y1="0" x2="0" y2="1"><stop offset="0" stop-color="#008eff"/><stop offset="0.4568" stop-color="#0083ff"/><stop offset="0.6866" stop-color="#0076ff"/><stop offset="0.878" stop-color="#005bff"/><stop offset="0.9464" stop-color="#0043ff"/><stop offset="0.9929" stop-color="#0028ff"/><stop offset="0.9984" stop-color="#0028ff"/></linearGradient>
<linearGradient id="c130" x1="0" y1="0" x2="0" y2="1"><stop offset="0" stop-color="#008bff"/><stop offset="0.4464" stop-color="#0081ff"/><stop offset="0.7012" stop-color="#0071ff"/><stop offset="0.8792" stop-color="#005aff"/><stop offset="0.9477" stop-color="#0042ff"/><stop offset="0.9915" stop-color="#0028ff"/><stop offset="0.9997" stop-color="#0028ff"/></linearGradient>
<linearGradient id="c131" x1="0" y1="0" x2="0" y2="1"><stop offset="0" stop-color="#0087ff"/><stop offset="0.4525" stop-color="#007dff"/><stop offset="0.724" stop-color="#006cff"/><stop offset="0.8858" stop-color="#0056ff"/><stop offset="0.9544" stop-color="#003eff"/><stop offset="0.9928" stop-color="#0029ff"/><stop offset="0.9983" stop-color="#0029ff"/></linearGradient>
<linearGradient id="c132" x1="0" y1="0" x2="0" y2="1"><stop offset="0" stop-color="#0084ff"/><stop offset="0.4559" stop-color="#0079ff"/><stop offset="0.7579" stop-color="#0066ff"/><stop offset="0.898" stop-color="#0052ff"/><stop offset="0.9611" stop-color="#003aff"/><stop offset="0.9913" stop-color="#0029ff"/><stop offset="0.9996" stop-color="#0029ff"/></linearGradient>
<linearGradient id="c133" x1="0" y1="0" x2="0" y2="1"><stop offset="0" stop-color="#0081ff"/><stop offset="0.4675" stop-color="#0075ff"/><stop offset="0.6297" stop-color="#006cff"/><stop offset="0.8304" stop-color="#005bff"/><stop offset="0.9294" stop-color="#0047ff"/><stop offset="0.9844" stop-color="#002dff"/><stop offset="0.9981" stop-color="#002aff"/></linearGradient>
<linearGradient id="c134" x1="0" y1="0" x2="0" y2="1"><stop offset="0" stop-color="#007dff"/><stop offset="0.3469" stop-color="#0075ff"/><stop offset="0.5094" stop-color="#006dff"/><stop offset="0.614" stop-color="#0067ff"/><stop offset="0.7654" stop-color="#0060ff"/><stop offset="0.9086" stop-color="#004bff"/><stop offset="0.9692" stop-color="#0036ff"/><stop offset="0.994" stop-color="#002aff"/><stop offset="0.9995" stop-color="#002aff"/></linearGradient>
<linearGradient id="c135" x1="0" y1="0" x2="0" y2="1"><stop offset="0" stop-color="#0077ff"/><stop offset="0.2316" stop-color="#0072ff"/><stop offset="0.3198" stop-color="#006eff"/><stop offset="0.4577" stop-color="#006dff"/><stop offset="0.5983" stop-color="#0061ff"/><stop offset="0.7251" stop-color="#0061ff"/><stop offset="0.896" stop-color="#004cff"/><stop offset="0.9649" stop-color="#0038ff"/><stop offset="0.9953" stop-color="#002aff"/><stop offset="0.998" stop-color="#002aff"/></linearGradient>
<linearGradient id="c136" x1="0" y1="0" x2="0" y2="1"><stop offset="0" stop-color="#0071ff"/><stop offset="0.2043" stop-color="#0070ff"/><stop offset="0.3037" stop-color="#0067ff"/><stop offset="0.4196" stop-color="#006bff"/><stop offset="0.5411" stop-color="#0060ff"/><stop offset="0.6018" stop-color="#005cff"/><stop offset="0.7095" stop-color="#005fff"/><stop offset="0.8779" stop-color="#004dff"/><stop offset="0.9634" stop-color="#0038ff"/><stop offset="0.9938" stop-color="#002aff"/><stop offset="0.9993" stop-color="#002aff"/></linearGradient>
<linearGradient id="c137" x1="0" y1="0" x2="0" y2="1"><stop offset="0" stop-color="#006bff"/><stop offset="0.1769" stop-color="#006dff"/><stop offset="0.3013" stop-color="#0061ff"/><stop offset="0.398" stop-color="#0067ff"/><stop offset="0.5252" stop-color="#005eff"/><stop offset="0.5915" stop-color="#0056ff"/><stop offset="0.6828" stop-color="#005cff"/><stop offset="0.8293" stop-color="#0051ff"/><stop offset="0.9592" stop-color="#0038ff"/><stop offset="0.9951" stop-color="#002bff"/><stop offset="0.9979" stop-color="#002bff"/></linearGradient>
<linearGradient id="c138" x1="0" y1="0" x2="0" y2="1"><stop offset="0" stop-color="#0066ff"/><stop offset="0.155" stop-color="#006aff"/><stop offset="0.2491" stop-color="#0061ff"/><stop offset="0.3016" stop-color="#005dff"/><stop offset="0.3819" stop-color="#0063ff"/><stop offset="0.5203" stop-color="#005cff"/><stop offset="0.5894" stop-color="#0052ff"/><stop offset="0.6697" stop-color="#005aff"/><stop offset="0.8081" stop-color="#0052ff"/><stop offset="0.963" stop-color="#0036ff"/><stop offset="0.9962" stop-color="#002bff"/><stop offset="0.999" stop-color="#002bff"/></linearGradient>
<clipPath id="cpc"><rect x="1424.20" y="26.80" width="568.60" height="484.80"/></clipPath>
<filter id="fc" filterUnits="userSpaceOnUse" x="1394.2" y="21.8" width="628.6" height="496.2"><feGaussianBlur stdDeviation="2.0 0"/></filter>
<linearGradient id="cb" x1="0" y1="0" x2="0" y2="1"><stop offset="0.00000" stop-color="#800000"/><stop offset="0.01562" stop-color="#800000"/><stop offset="0.01562" stop-color="#8f0000"/><stop offset="0.03125" stop-color="#8f0000"/><stop offset="0.03125" stop-color="#9f0000"/><stop offset="0.04688" stop-color="#9f0000"/><stop offset="0.04688" stop-color="#af0000"/><stop offset="0.06250" stop-color="#af0000"/><stop offset="0.06250" stop-color="#bf0000"/><stop offset="0.07812" stop-color="#bf0000"/><stop offset="0.07812" stop-color="#cf0000"/><stop offset="0.09375" stop-color="#cf0000"/><stop offset="0.09375" stop-color="#df0000"/><stop offset="0.10938" stop-color="#df0000"/><stop offset="0.10938" stop-color="#ef0000"/><stop offset="0.12500" stop-color="#ef0000"/><stop offset="0.12500" stop-color="#ff0000"/><stop offset="0.14062" stop-color="#ff0000"/><stop offset="0.14062" stop-color="#ff1000"/><stop offset="0.15625" stop-color="#ff1000"/><stop offset="0.15625" stop-color="#ff2000"/><stop offset="0.17188" stop-color="#ff2000"/><stop offset="0.17188" stop-color="#ff3000"/><stop offset="0.18750" stop-color="#ff3000"/><stop offset="0.18750" stop-color="#ff4000"/><stop offset="0.20312" stop-color="#ff4000"/><stop offset="0.20312" stop-color="#ff5000"/><stop offset="0.21875" stop-color="#ff5000"/><stop offset="0.21875" stop-color="#ff6000"/><stop offset="0.23438" stop-color="#ff6000"/><stop offset="0.23438" stop-color="#ff7000"/><stop offset="0.25000" stop-color="#ff7000"/><stop offset="0.25000" stop-color="#ff8000"/><stop offset="0.26562" stop-color="#ff8000"/><stop offset="0.26562" stop-color="#ff8f00"/><stop offset="0.28125" stop-color="#ff8f00"/><stop offset="0.28125" stop-color="#ff9f00"/><stop offset="0.29688" stop-color="#ff9f00"/><stop offset="0.29688" stop-color="#ffaf00"/><stop offset="0.31250" stop-color="#ffaf00"/><stop offset="0.31250" stop-color="#ffbf00"/><stop offset="0.32812" stop-color="#ffbf00"/><stop offset="0.32812" stop-color="#ffcf00"/><stop offset="0.34375" stop-color="#ffcf00"/><stop offset="0.34375" stop-color="#ffdf00"/><stop offset="0.35938" stop-color="#ffdf00"/><stop offset="0.35938" stop-color="#ffef00"/><stop offset="0.37500" stop-color="#ffef00"/><stop offset="0.37500" stop-color="#ffff00"/><stop offset="0.39062" stop-color="#ffff00"/><stop offset="0.39062" stop-color="#efff10"/><stop offset="0.40625" stop-color="#efff10"/><stop offset="0.40625" stop-color="#dfff20"/><stop offset="0.42188" stop-color="#dfff20"/><stop offset="0.42188" stop-color="#cfff30"/><stop offset="0.43750" stop-color="#cfff30"/><stop offset="0.43750" stop-color="#bfff40"/><stop offset="0.45312" stop-color="#bfff40"/><stop offset="0.45312" stop-color="#afff50"/><stop offset="0.46875" stop-color="#afff50"/><stop offset="0.46875" stop-color="#9fff60"/><stop offset="0.48438" stop-color="#9fff60"/><stop offset="0.48438" stop-color="#8fff70"/><stop offset="0.50000" stop-color="#8fff70"/><stop offset="0.50000" stop-color="#80ff80"/><stop offset="0.51562" stop-color="#80ff80"/><stop offset="0.51562" stop-color="#70ff8f"/><stop offset="0.53125" stop-color="#70ff8f"/><stop offset="0.53125" stop-color="#60ff9f"/><stop offset="0.54688" stop-color="#60ff9f"/><stop offset="0.54688" stop-color="#50ffaf"/><stop offset="0.56250" stop-color="#50ffaf"/><stop offset="0.56250" stop-color="#40ffbf"/><stop offset="0.57812" stop-color="#40ffbf"/><stop offset="0.57812" stop-color="#30ffcf"/><stop offset="0.59375" stop-color="#30ffcf"/><stop offset="0.59375" stop-color="#20ffdf"/><stop offset="0.60938" stop-color="#20ffdf"/><stop offset="0.60938" stop-color="#10ffef"/><stop offset="0.62500" stop-color="#10ffef"/><stop offset="0.62500" stop-color="#00ffff"/><stop offset="0.64062" stop-color="#00ffff"/><stop offset="0.64062" stop-color="#00efff"/><stop offset="0.65625" stop-color="#00efff"/><stop offset="0.65625" stop-color="#00dfff"/><stop offset="0.67188" stop-color="#00dfff"/><stop offset="0.67188" stop-color="#00cfff"/><stop offset="0.68750" stop-color="#00cfff"/><stop offset="0.68750" stop-color="#00bfff"/><stop offset="0.70312" stop-color="#00bfff"/><stop offset="0.70312" stop-color="#00afff"/><stop offset="0.71875" stop-color="#00afff"/><stop offset="0.71875" stop-color="#009fff"/><stop offset="0.73438" stop-color="#009fff"/><stop offset="0.73438" stop-color="#008fff"/><stop offset="0.75000" stop-color="#008fff"/><stop offset="0.75000" stop-color="#0080ff"/><stop offset="0.76562" stop-color="#0080ff"/><stop offset="0.76562" stop-color="#0070ff"/><stop offset="0.78125" stop-color="#0070ff"/><stop offset="0.78125" stop-color="#0060ff"/><stop offset="0.79688" stop-color="#0060ff"/><stop offset="0.79688" stop-color="#0050ff"/><stop offset="0.81250" stop-color="#0050ff"/><stop offset="0.81250" stop-color="#0040ff"/><stop offset="0.82812" stop-color="#0040ff"/><stop offset="0.82812" stop-color="#0030ff"/><stop offset="0.84375" stop-color="#0030ff"/><stop offset="0.84375" stop-color="#0020ff"/><stop offset="0.85938" stop-color="#0020ff"/><stop offset="0.85938" stop-color="#0010ff"/><stop offset="0.87500" stop-color="#0010ff"/><stop offset="0.87500" stop-color="#0000ff"/><stop offset="0.89062" stop-color="#0000ff"/><stop offset="0.89062" stop-color="#0000ef"/><stop offset="0.90625" stop-color="#0000ef"/><stop offset="0.90625" stop-color="#0000df"/><stop offset="0.92188" stop-color="#0000df"/><stop offset="0.92188" stop-color="#0000cf"/><stop offset="0.93750" stop-color="#0000cf"/><stop offset="0.93750" stop-color="#0000bf"/><stop offset="0.95312" stop-color="#0000bf"/><stop offset="0.95312" stop-color="#0000af"/><stop offset="0.96875" stop-color="#0000af"/><stop offset="0.96875" stop-color="#00009f"/><stop offset="0.98438" stop-color="#00009f"/><stop offset="0.98438" stop-color="#00008f"/><stop offset="1.00000" stop-color="#00008f"/></linearGradient></defs>
<rect width="2124" height="973" fill="#fff"/>
<line x1="122.00" y1="24.20" x2="697.40" y2="24.20" stroke="#262626" stroke-width="1.50"/>
<line x1="122.00" y1="512.00" x2="697.40" y2="512.00" stroke="#262626" stroke-width="1.50"/>
<line x1="696.80" y1="24.20" x2="696.80" y2="512.00" stroke="#262626" stroke-width="1.50"/>
<line x1="122.60" y1="24.20" x2="122.60" y2="512.00" stroke="#262626" stroke-width="1.50"/>
<line x1="122.60" y1="512.00" x2="122.60" y2="506.00" stroke="#262626" stroke-width="1.50"/>
<line x1="122.60" y1="24.20" x2="122.60" y2="30.20" stroke="#262626" stroke-width="1.50"/>
<text x="122.60" y="558.80" font-size="37.50" font-family='"Liberation Serif", "Times New Roman", serif' text-anchor="middle" fill="#000">0</text>
<line x1="314.00" y1="512.00" x2="314.00" y2="506.00" stroke="#262626" stroke-width="1.50"/>
<line x1="314.00" y1="24.20" x2="314.00" y2="30.20" stroke="#262626" stroke-width="1.50"/>
<text x="314.00" y="558.80" font-size="37.50" font-family='"Liberation Serif", "Times New Roman", serif' text-anchor="middle" fill="#000">5</text>
<line x1="505.40" y1="512.00" x2="505.40" y2="506.00" stroke="#262626" stroke-width="1.50"/>
<line x1="505.40" y1="24.20" x2="505.40" y2="30.20" stroke="#262626" stroke-width="1.50"/>
<text x="505.40" y="558.80" font-size="37.50" font-family='"Liberation Serif", "Times New Roman", serif' text-anchor="middle" fill="#000">10</text>
<line x1="696.80" y1="512.00" x2="696.80" y2="506.00" stroke="#262626" stroke-width="1.50"/>
<line x1="696.80" y1="24.20" x2="696.80" y2="30.20" stroke="#262626" stroke-width="1.50"/>
<text x="696.80" y="558.80" font-size="37.50" font-family='"Liberation Serif", "Times New Roman", serif' text-anchor="middle" fill="#000">15</text>
<line x1="122.60" y1="24.20" x2="128.60" y2="24.20" stroke="#262626" stroke-width="1.50"/>
<line x1="696.80" y1="24.20" x2="690.80" y2="24.20" stroke="#262626" stroke-width="1.50"/>
<text x="110.00" y="37.88" font-size="37.50" font-family='"Liberation Serif", "Times New Roman", serif' text-anchor="end" fill="#000">0</text>
<line x1="122.60" y1="121.76" x2="128.60" y2="121.76" stroke="#262626" stroke-width="1.50"/>
<line x1="696.80" y1="121.76" x2="690.80" y2="121.76" stroke="#262626" stroke-width="1.50"/>
<text x="110.00" y="135.44" font-size="37.50" font-family='"Liberation Serif", "Times New Roman", serif' text-anchor="end" fill="#000">2</text>
<line x1="122.60" y1="219.32" x2="128.60" y2="219.32" stroke="#262626" stroke-width="1.50"/>
<line x1="696.80" y1="219.32" x2="690.80" y2="219.32" stroke="#262626" stroke-width="1.50"/>
<text x="110.00" y="233.00" font-size="37.50" font-family='"Liberation Serif", "Times New Roman", serif' text-anchor="end" fill="#000">4</text>
<line x1="122.60" y1="316.88" x2="128.60" y2="316.88" stroke="#262626" stroke-width="1.50"/>
<line x1="696.80" y1="316.88" x2="690.80" y2="316.88" stroke="#262626" stroke-width="1.50"/>
<text x="110.00" y="330.56" font-size="37.50" font-family='"Liberation Serif", "Times New Roman", serif' text-anchor="end" fill="#000">6</text>
<line x1="122.60" y1="414.44" x2="128.60" y2="414.44" stroke="#262626" stroke-width="1.50"/>
<line x1="696.80" y1="414.44" x2="690.80" y2="414.44" stroke="#262626" stroke-width="1.50"/>
<text x="110.00" y="428.12" font-size="37.50" font-family='"Liberation Serif", "Times New Roman", serif' text-anchor="end" fill="#000">8</text>
<line x1="122.60" y1="512.00" x2="128.60" y2="512.00" stroke="#262626" stroke-width="1.50"/>
<line x1="696.80" y1="512.00" x2="690.80" y2="512.00" stroke="#262626" stroke-width="1.50"/>
<text x="110.00" y="525.67" font-size="37.50" font-family='"Liberation Serif", "Times New Roman", serif' text-anchor="end" fill="#000">10</text>
<line x1="781.70" y1="24.20" x2="1356.10" y2="24.20" stroke="#262626" stroke-width="1.50"/>
<line x1="781.70" y1="512.00" x2="1356.10" y2="512.00" stroke="#262626" stroke-width="1.50"/>
<line x1="782.30" y1="512.00" x2="782.30" y2="506.00" stroke="#262626" stroke-width="1.50"/>
<line x1="782.30" y1="24.20" x2="782.30" y2="30.20" stroke="#262626" stroke-width="1.50"/>
<text x="782.30" y="553.50" font-size="32.50" font-family='"Liberation Serif", "Times New Roman", serif' text-anchor="middle" fill="#000">0</text>
<line x1="973.33" y1="512.00" x2="973.33" y2="506.00" stroke="#262626" stroke-width="1.50"/>
<line x1="973.33" y1="24.20" x2="973.33" y2="30.20" stroke="#262626" stroke-width="1.50"/>
<text x="973.33" y="553.50" font-size="32.50" font-family='"Liberation Serif", "Times New Roman", serif' text-anchor="middle" fill="#000">5</text>
<line x1="1164.37" y1="512.00" x2="1164.37" y2="506.00" stroke="#262626" stroke-width="1.50"/>
<line x1="1164.37" y1="24.20" x2="1164.37" y2="30.20" stroke="#262626" stroke-width="1.50"/>
<text x="1164.37" y="553.50" font-size="32.50" font-family='"Liberation Serif", "Times New Roman", serif' text-anchor="middle" fill="#000">10</text>
<line x1="1355.40" y1="512.00" x2="1355.40" y2="506.00" stroke="#262626" stroke-width="1.50"/>
<line x1="1355.40" y1="24.20" x2="1355.40" y2="30.20" stroke="#262626" stroke-width="1.50"/>
<text x="1355.40" y="553.50" font-size="32.50" font-family='"Liberation Serif", "Times New Roman", serif' text-anchor="middle" fill="#000">15</text>
<line x1="1419.60" y1="24.20" x2="1993.20" y2="24.20" stroke="#262626" stroke-width="1.50"/>
<line x1="1419.60" y1="512.00" x2="1993.20" y2="512.00" stroke="#262626" stroke-width="1.50"/>
<line x1="1420.20" y1="512.00" x2="1420.20" y2="506.00" stroke="#262626" stroke-width="1.50"/>
<line x1="1420.20" y1="24.20" x2="1420.20" y2="30.20" stroke="#262626" stroke-width="1.50"/>
<text x="1420.20" y="553.50" font-size="32.50" font-family='"Liberation Serif", "Times New Roman", serif' text-anchor="middle" fill="#000">0</text>
<line x1="1534.68" y1="512.00" x2="1534.68" y2="506.00" stroke="#262626" stroke-width="1.50"/>
<line x1="1534.68" y1="24.20" x2="1534.68" y2="30.20" stroke="#262626" stroke-width="1.50"/>
<text x="1534.68" y="553.50" font-size="32.50" font-family='"Liberation Serif", "Times New Roman", serif' text-anchor="middle" fill="#000">2</text>
<line x1="1649.16" y1="512.00" x2="1649.16" y2="506.00" stroke="#262626" stroke-width="1.50"/>
<line x1="1649.16" y1="24.20" x2="1649.16" y2="30.20" stroke="#262626" stroke-width="1.50"/>
<text x="1649.16" y="553.50" font-size="32.50" font-family='"Liberation Serif", "Times New Roman", serif' text-anchor="middle" fill="#000">4</text>
<line x1="1763.64" y1="512.00" x2="1763.64" y2="506.00" stroke="#262626" stroke-width="1.50"/>
<line x1="1763.64" y1="24.20" x2="1763.64" y2="30.20" stroke="#262626" stroke-width="1.50"/>
<text x="1763.64" y="553.50" font-size="32.50" font-family='"Liberation Serif", "Times New Roman", serif' text-anchor="middle" fill="#000">6</text>
<line x1="1878.12" y1="512.00" x2="1878.12" y2="506.00" stroke="#262626" stroke-width="1.50"/>
<line x1="1878.12" y1="24.20" x2="1878.12" y2="30.20" stroke="#262626" stroke-width="1.50"/>
<text x="1878.12" y="553.50" font-size="32.50" font-family='"Liberation Serif", "Times New Roman", serif' text-anchor="middle" fill="#000">8</text>
<line x1="1992.60" y1="512.00" x2="1992.60" y2="506.00" stroke="#262626" stroke-width="1.50"/>
<line x1="1992.60" y1="24.20" x2="1992.60" y2="30.20" stroke="#262626" stroke-width="1.50"/>
<text x="1992.60" y="553.50" font-size="32.50" font-family='"Liberation Serif", "Times New Roman", serif' text-anchor="middle" fill="#000">10</text>
<g clip-path="url(#cpa)"><g filter="url(#fa)"><rect x="109.90" y="26.80" width="16.70" height="482.83" fill="url(#a0)"/><rect x="126.00" y="26.80" width="4.70" height="481.69" fill="url(#a1)"/><rect x="130.10" y="26.80" width="4.70" height="480.56" fill="url(#a2)"/><rect x="134.20" y="26.80" width="4.70" height="479.42" fill="url(#a3)"/><rect x="138.30" y="26.80" width="4.70" height="478.29" fill="url(#a4)"/><rect x="142.40" y="26.80" width="4.70" height="477.16" fill="url(#a5)"/><rect x="146.50" y="26.80" width="4.70" height="476.03" fill="url(#a6)"/><rect x="150.60" y="26.80" width="4.70" height="474.90" fill="url(#a7)"/><rect x="154.70" y="26.80" width="4.70" height="473.77" fill="url(#a8)"/><rect x="158.80" y="26.80" width="4.70" height="472.64" fill="url(#a9)"/><rect x="162.90" y="26.80" width="4.70" height="471.52" fill="url(#a10)"/><rect x="167.00" y="26.80" width="4.70" height="470.39" fill="url(#a11)"/><rect x="171.10" y="26.80" width="4.70" height="469.26" fill="url(#a12)"/><rect x="175.20" y="26.80" width="4.70" height="468.13" fill="url(#a13)"/><rect x="179.30" y="26.80" width="4.70" height="467.01" fill="url(#a14)"/><rect x="183.40" y="26.80" width="4.70" height="465.88" fill="url(#a15)"/><rect x="187.50" y="26.80" width="4.70" height="464.75" fill="url(#a16)"/><rect x="191.60" y="26.80" width="4.70" height="463.62" fill="url(#a17)"/><rect x="195.70" y="26.80" width="4.70" height="462.49" fill="url(#a18)"/><rect x="199.80" y="26.80" width="4.70" height="461.36" fill="url(#a19)"/><rect x="203.90" y="26.80" width="4.70" height="460.23" fill="url(#a20)"/><rect x="208.00" y="26.80" width="4.70" height="459.10" fill="url(#a21)"/><rect x="212.10" y="26.80" width="4.70" height="457.97" fill="url(#a22)"/><rect x="216.20" y="26.80" width="4.70" height="456.84" fill="url(#a23)"/><rect x="220.30" y="26.80" width="4.70" height="455.70" fill="url(#a24)"/><rect x="224.40" y="26.80" width="4.70" height="454.57" fill="url(#a25)"/><rect x="228.50" y="26.80" width="4.70" height="453.43" fill="url(#a26)"/><rect x="232.60" y="26.80" width="4.70" height="452.29" fill="url(#a27)"/><rect x="236.70" y="26.80" width="4.70" height="451.15" fill="url(#a28)"/><rect x="240.80" y="26.80" width="4.70" height="450.00" fill="url(#a29)"/><rect x="244.90" y="26.80" width="4.70" height="448.86" fill="url(#a30)"/><rect x="249.00" y="26.80" width="4.70" height="447.71" fill="url(#a31)"/><rect x="253.10" y="26.80" width="4.70" height="446.56" fill="url(#a32)"/><rect x="257.20" y="26.80" width="4.70" height="445.41" fill="url(#a33)"/><rect x="261.30" y="26.80" width="4.70" height="444.25" fill="url(#a34)"/><rect x="265.40" y="26.80" width="4.70" height="443.10" fill="url(#a35)"/><rect x="269.50" y="26.80" width="4.70" height="441.94" fill="url(#a36)"/><rect x="273.60" y="26.80" width="4.70" height="440.77" fill="url(#a37)"/><rect x="277.70" y="26.80" width="4.70" height="439.61" fill="url(#a38)"/><rect x="281.80" y="26.80" width="4.70" height="438.44" fill="url(#a39)"/><rect x="285.90" y="26.80" width="4.70" height="437.27" fill="url(#a40)"/><rect x="290.00" y="26.80" width="4.70" height="436.09" fill="url(#a41)"/><rect x="294.10" y="26.80" width="4.70" height="434.91" fill="url(#a42)"/><rect x="298.20" y="26.80" width="4.70" height="433.73" fill="url(#a43)"/><rect x="302.30" y="26.80" width="4.70" height="432.54" fill="url(#a44)"/><rect x="306.40" y="26.80" width="4.70" height="431.35" fill="url(#a45)"/><rect x="310.50" y="26.80" width="4.70" height="430.16" fill="url(#a46)"/><rect x="314.60" y="26.80" width="4.70" height="428.96" fill="url(#a47)"/><rect x="318.70" y="26.80" width="4.70" height="427.75" fill="url(#a48)"/><rect x="322.80" y="26.80" width="4.70" height="426.54" fill="url(#a49)"/><rect x="326.90" y="26.80" width="4.70" height="425.32" fill="url(#a50)"/><rect x="331.00" y="26.80" width="4.70" height="424.10" fill="url(#a51)"/><rect x="335.10" y="26.80" width="4.70" height="422.88" fill="url(#a52)"/><rect x="339.20" y="26.80" width="4.70" height="421.65" fill="url(#a53)"/><rect x="343.30" y="26.80" width="4.70" height="420.41" fill="url(#a54)"/><rect x="347.40" y="26.80" width="4.70" height="419.18" fill="url(#a55)"/><rect x="351.50" y="26.80" width="4.70" height="417.94" fill="url(#a56)"/><rect x="355.60" y="26.80" width="4.70" height="416.69" fill="url(#a57)"/><rect x="359.70" y="26.80" width="4.70" height="415.44" fill="url(#a58)"/><rect x="363.80" y="26.80" width="4.70" height="414.19" fill="url(#a59)"/><rect x="367.90" y="26.80" width="4.70" height="412.94" fill="url(#a60)"/><rect x="372.00" y="26.80" width="4.70" height="411.69" fill="url(#a61)"/><rect x="376.10" y="26.80" width="4.70" height="410.43" fill="url(#a62)"/><rect x="380.20" y="26.80" width="4.70" height="409.18" fill="url(#a63)"/><rect x="384.30" y="26.80" width="4.70" height="407.92" fill="url(#a64)"/><rect x="388.40" y="26.80" width="4.70" height="406.66" fill="url(#a65)"/><rect x="392.50" y="26.80" width="4.70" height="405.40" fill="url(#a66)"/><rect x="396.60" y="26.80" width="4.70" height="404.14" fill="url(#a67)"/><rect x="400.70" y="26.80" width="4.70" height="402.88" fill="url(#a68)"/><rect x="404.80" y="26.80" width="4.70" height="401.62" fill="url(#a69)"/><rect x="408.90" y="26.80" width="4.70" height="400.36" fill="url(#a70)"/><rect x="413.00" y="26.80" width="4.70" height="399.10" fill="url(#a71)"/><rect x="417.10" y="26.80" width="4.70" height="397.85" fill="url(#a72)"/><rect x="421.20" y="26.80" width="4.70" height="396.59" fill="url(#a73)"/><rect x="425.30" y="26.80" width="4.70" height="395.33" fill="url(#a74)"/><rect x="429.40" y="26.80" width="4.70" height="394.07" fill="url(#a75)"/><rect x="433.50" y="26.80" width="4.70" height="392.81" fill="url(#a76)"/><rect x="437.60" y="26.80" width="4.70" height="391.54" fill="url(#a77)"/><rect x="441.70" y="26.80" width="4.70" height="390.28" fill="url(#a78)"/><rect x="445.80" y="26.80" width="4.70" height="389.01" fill="url(#a79)"/><rect x="449.90" y="26.80" width="4.70" height="387.74" fill="url(#a80)"/><rect x="454.00" y="26.80" width="4.70" height="386.47" fill="url(#a81)"/><rect x="458.10" y="26.80" width="4.70" height="385.20" fill="url(#a82)"/><rect x="462.20" y="26.80" width="4.70" height="383.93" fill="url(#a83)"/><rect x="466.30" y="26.80" width="4.70" height="382.66" fill="url(#a84)"/><rect x="470.40" y="26.80" width="4.70" height="381.38" fill="url(#a85)"/><rect x="474.50" y="26.80" width="4.70" height="380.11" fill="url(#a86)"/><rect x="478.60" y="26.80" width="4.70" height="378.83" fill="url(#a87)"/><rect x="482.70" y="26.80" width="4.70" height="377.56" fill="url(#a88)"/><rect x="486.80" y="26.80" width="4.70" height="376.28" fill="url(#a89)"/><rect x="490.90" y="26.80" width="4.70" height="375.01" fill="url(#a90)"/><rect x="495.00" y="26.80" width="4.70" height="373.73" fill="url(#a91)"/><rect x="499.10" y="26.80" width="4.70" height="372.45" fill="url(#a92)"/><rect x="503.20" y="26.80" width="4.70" height="371.17" fill="url(#a93)"/><rect x="507.30" y="26.80" width="4.70" height="369.89" fill="url(#a94)"/><rect x="511.40" y="26.80" width="4.70" height="368.61" fill="url(#a95)"/><rect x="515.50" y="26.80" width="4.70" height="367.33" fill="url(#a96)"/><rect x="519.60" y="26.80" width="4.70" height="366.05" fill="url(#a97)"/><rect x="523.70" y="26.80" width="4.70" height="364.78" fill="url(#a98)"/><rect x="527.80" y="26.80" width="4.70" height="363.50" fill="url(#a99)"/><rect x="531.90" y="26.80" width="4.70" height="362.22" fill="url(#a100)"/><rect x="536.00" y="26.80" width="4.70" height="360.94" fill="url(#a101)"/><rect x="540.10" y="26.80" width="4.70" height="359.66" fill="url(#a102)"/><rect x="544.20" y="26.80" width="4.70" height="358.38" fill="url(#a103)"/><rect x="548.30" y="26.80" width="4.70" height="357.11" fill="url(#a104)"/><rect x="552.40" y="26.80" width="4.70" height="355.83" fill="url(#a105)"/><rect x="556.50" y="26.80" width="4.70" height="354.55" fill="url(#a106)"/><rect x="560.60" y="26.80" width="4.70" height="353.28" fill="url(#a107)"/><rect x="564.70" y="26.80" width="4.70" height="352.00" fill="url(#a108)"/><rect x="568.80" y="26.80" width="4.70" height="350.73" fill="url(#a109)"/><rect x="572.90" y="26.80" width="4.70" height="349.45" fill="url(#a110)"/><rect x="577.00" y="26.80" width="4.70" height="348.18" fill="url(#a111)"/><rect x="581.10" y="26.80" width="4.70" height="346.91" fill="url(#a112)"/><rect x="585.20" y="26.80" width="4.70" height="345.64" fill="url(#a113)"/><rect x="589.30" y="26.80" width="4.70" height="344.37" fill="url(#a114)"/><rect x="593.40" y="26.80" width="4.70" height="343.11" fill="url(#a115)"/><rect x="597.50" y="26.80" width="4.70" height="341.84" fill="url(#a116)"/><rect x="601.60" y="26.80" width="4.70" height="340.57" fill="url(#a117)"/><rect x="605.70" y="26.80" width="4.70" height="339.31" fill="url(#a118)"/><rect x="609.80" y="26.80" width="4.70" height="338.05" fill="url(#a119)"/><rect x="613.90" y="26.80" width="4.70" height="336.79" fill="url(#a120)"/><rect x="618.00" y="26.80" width="4.70" height="335.53" fill="url(#a121)"/><rect x="622.10" y="26.80" width="4.70" height="334.27" fill="url(#a122)"/><rect x="626.20" y="26.80" width="4.70" height="333.01" fill="url(#a123)"/><rect x="630.30" y="26.80" width="4.70" height="331.75" fill="url(#a124)"/><rect x="634.40" y="26.80" width="4.70" height="330.49" fill="url(#a125)"/><rect x="638.50" y="26.80" width="4.70" height="329.24" fill="url(#a126)"/><rect x="642.60" y="26.80" width="4.70" height="327.98" fill="url(#a127)"/><rect x="646.70" y="26.80" width="4.70" height="326.72" fill="url(#a128)"/><rect x="650.80" y="26.80" width="4.70" height="325.47" fill="url(#a129)"/><rect x="654.90" y="26.80" width="4.70" height="324.21" fill="url(#a130)"/><rect x="659.00" y="26.80" width="4.70" height="322.95" fill="url(#a131)"/><rect x="663.10" y="26.80" width="4.70" height="321.70" fill="url(#a132)"/><rect x="667.20" y="26.80" width="4.70" height="320.44" fill="url(#a133)"/><rect x="671.30" y="26.80" width="4.70" height="319.18" fill="url(#a134)"/><rect x="675.40" y="26.80" width="4.70" height="317.92" fill="url(#a135)"/><rect x="679.50" y="26.80" width="4.70" height="316.66" fill="url(#a136)"/><rect x="683.60" y="26.80" width="4.70" height="315.40" fill="url(#a137)"/><rect x="687.70" y="26.80" width="4.70" height="314.14" fill="url(#a138)"/><rect x="691.80" y="26.80" width="4.70" height="312.88" fill="url(#a139)"/><rect x="695.90" y="26.80" width="13.70" height="311.98" fill="url(#a140)"/></g></g>
<polygon shape-rendering="crispEdges" fill="#fff" points="123.35,506.53 125.10,506.53 125.10,504.09 134.10,504.09 134.10,501.66 142.85,501.66 142.85,499.22 151.60,499.22 151.60,496.78 160.60,496.78 160.60,494.35 169.35,494.35 169.35,491.91 178.35,491.91 178.35,489.48 187.10,489.48 187.10,487.04 195.85,487.04 195.85,484.60 204.85,484.60 204.85,482.17 213.60,482.17 213.60,479.73 222.35,479.73 222.35,477.30 231.10,477.30 231.10,474.86 239.85,474.86 239.85,472.42 248.60,472.42 248.60,469.99 257.35,469.99 257.35,467.55 266.10,467.55 266.10,465.12 274.60,465.12 274.60,462.68 283.10,462.68 283.10,460.24 291.60,460.24 291.60,457.81 300.10,457.81 300.10,455.37 308.60,455.37 308.60,452.94 316.85,452.94 316.85,450.50 325.10,450.50 325.10,448.06 333.35,448.06 333.35,445.63 341.60,445.63 341.60,443.19 349.60,443.19 349.60,440.76 357.60,440.76 357.60,438.32 365.60,438.32 365.60,435.88 373.60,435.88 373.60,433.45 381.60,433.45 381.60,431.01 389.60,431.01 389.60,428.58 397.35,428.58 397.35,426.14 405.35,426.14 405.35,423.70 413.35,423.70 413.35,421.27 421.10,421.27 421.10,418.83 429.10,418.83 429.10,416.40 437.10,416.40 437.10,413.96 444.85,413.96 444.85,411.52 452.85,411.52 452.85,409.09 460.60,409.09 460.60,406.65 468.60,406.65 468.60,404.22 476.35,404.22 476.35,401.78 484.10,401.78 484.10,399.34 492.10,399.34 492.10,396.91 499.85,396.91 499.85,394.47 507.60,394.47 507.60,392.04 515.60,392.04 515.60,389.60 523.35,389.60 523.35,387.16 531.10,387.16 531.10,384.73 538.85,384.73 538.85,382.29 546.60,382.29 546.60,379.86 554.60,379.86 554.60,377.42 562.35,377.42 562.35,374.98 570.10,374.98 570.10,372.55 578.10,372.55 578.10,370.11 585.85,370.11 585.85,367.68 593.85,367.68 593.85,365.24 601.60,365.24 601.60,362.80 609.60,362.80 609.60,360.37 617.60,360.37 617.60,357.93 625.35,357.93 625.35,355.50 633.35,355.50 633.35,353.06 641.35,353.06 641.35,350.62 649.35,350.62 649.35,348.19 657.10,348.19 657.10,345.75 665.10,345.75 665.10,343.32 673.10,343.32 673.10,340.88 681.10,340.88 681.10,338.44 688.85,338.44 688.85,336.01 695.85,336.01 695.85,342.06 693.85,342.68 691.85,343.29 689.85,343.91 687.85,344.53 685.85,345.14 683.85,345.76 681.85,346.37 679.85,346.98 677.85,347.60 675.85,348.21 673.85,348.83 671.85,349.44 669.85,350.05 667.85,350.67 665.85,351.28 663.85,351.89 661.85,352.51 659.85,353.12 657.85,353.73 655.85,354.35 653.85,354.96 651.85,355.57 649.85,356.19 647.85,356.80 645.85,357.41 643.85,358.03 641.85,358.64 639.85,359.25 637.85,359.86 635.85,360.48 633.85,361.09 631.85,361.70 629.85,362.32 627.85,362.93 625.85,363.55 623.85,364.16 621.85,364.77 619.85,365.39 617.85,366.00 615.85,366.62 613.85,367.23 611.85,367.85 609.85,368.46 607.85,369.08 605.85,369.70 603.85,370.31 601.85,370.93 599.85,371.55 597.85,372.16 595.85,372.78 593.85,373.40 591.85,374.02 589.85,374.64 587.85,375.26 585.85,375.87 583.85,376.49 581.85,377.11 579.85,377.73 577.85,378.35 575.85,378.98 573.85,379.60 571.85,380.22 569.85,380.84 567.85,381.46 565.85,382.08 563.85,382.70 561.85,383.33 559.85,383.95 557.85,384.57 555.85,385.19 553.85,385.82 551.85,386.44 549.85,387.06 547.85,387.68 545.85,388.31 543.85,388.93 541.85,389.55 539.85,390.18 537.85,390.80 535.85,391.43 533.85,392.05 531.85,392.67 529.85,393.30 527.85,393.92 525.85,394.54 523.85,395.17 521.85,395.79 519.85,396.42 517.85,397.04 515.85,397.66 513.85,398.29 511.85,398.91 509.85,399.54 507.85,400.16 505.85,400.78 503.85,401.41 501.85,402.03 499.85,402.65 497.85,403.28 495.85,403.90 493.85,404.52 491.85,405.15 489.85,405.77 487.85,406.39 485.85,407.02 483.85,407.64 481.85,408.26 479.85,408.88 477.85,409.51 475.85,410.13 473.85,410.75 471.85,411.37 469.85,411.99 467.85,412.61 465.85,413.23 463.85,413.86 461.85,414.48 459.85,415.10 457.85,415.72 455.85,416.34 453.85,416.95 451.85,417.57 449.85,418.19 447.85,418.81 445.85,419.43 443.85,420.05 441.85,420.66 439.85,421.28 437.85,421.90 435.85,422.51 433.85,423.13 431.85,423.75 429.85,424.36 427.85,424.98 425.85,425.59 423.85,426.21 421.85,426.82 419.85,427.43 417.85,428.05 415.85,428.66 413.85,429.27 411.85,429.89 409.85,430.50 407.85,431.11 405.85,431.73 403.85,432.34 401.85,432.96 399.85,433.57 397.85,434.19 395.85,434.80 393.85,435.41 391.85,436.03 389.85,436.64 387.85,437.26 385.85,437.87 383.85,438.48 381.85,439.10 379.85,439.71 377.85,440.32 375.85,440.94 373.85,441.55 371.85,442.16 369.85,442.77 367.85,443.38 365.85,443.99 363.85,444.60 361.85,445.21 359.85,445.82 357.85,446.43 355.85,447.04 353.85,447.64 351.85,448.25 349.85,448.86 347.85,449.46 345.85,450.06 343.85,450.67 341.85,451.27 339.85,451.87 337.85,452.47 335.85,453.07 333.85,453.66 331.85,454.26 329.85,454.86 327.85,455.45 325.85,456.04 323.85,456.64 321.85,457.23 319.85,457.82 317.85,458.40 315.85,458.99 313.85,459.58 311.85,460.16 309.85,460.74 307.85,461.33 305.85,461.91 303.85,462.49 301.85,463.07 299.85,463.64 297.85,464.22 295.85,464.80 293.85,465.37 291.85,465.95 289.85,466.52 287.85,467.09 285.85,467.67 283.85,468.24 281.85,468.81 279.85,469.38 277.85,469.95 275.85,470.52 273.85,471.08 271.85,471.65 269.85,472.22 267.85,472.78 265.85,473.35 263.85,473.91 261.85,474.48 259.85,475.04 257.85,475.60 255.85,476.16 253.85,476.73 251.85,477.29 249.85,477.85 247.85,478.41 245.85,478.97 243.85,479.52 241.85,480.08 239.85,480.64 237.85,481.20 235.85,481.75 233.85,482.31 231.85,482.87 229.85,483.42 227.85,483.98 225.85,484.53 223.85,485.09 221.85,485.64 219.85,486.19 217.85,486.75 215.85,487.30 213.85,487.85 211.85,488.41 209.85,488.96 207.85,489.51 205.85,490.06 203.85,490.61 201.85,491.16 199.85,491.72 197.85,492.27 195.85,492.82 193.85,493.37 191.85,493.92 189.85,494.47 187.85,495.02 185.85,495.57 183.85,496.12 181.85,496.67 179.85,497.22 177.85,497.77 175.85,498.32 173.85,498.87 171.85,499.42 169.85,499.97 167.85,500.52 165.85,501.07 163.85,501.62 161.85,502.17 159.85,502.72 157.85,503.27 155.85,503.82 153.85,504.37 151.85,504.92 149.85,505.47 147.85,506.02 145.85,506.57 143.85,507.13 141.85,507.68 139.85,508.23 137.85,508.78 135.85,509.33 133.85,509.89 131.85,510.44 129.85,510.99 127.85,511.30 125.85,511.30 123.85,511.30"/>
<g clip-path="url(#cpb)"><g filter="url(#fb)"><rect x="772.80" y="26.80" width="16.70" height="388.22" fill="url(#b0)"/><rect x="788.90" y="26.80" width="4.70" height="389.47" fill="url(#b1)"/><rect x="793.00" y="26.80" width="4.70" height="390.72" fill="url(#b2)"/><rect x="797.10" y="26.80" width="4.70" height="391.96" fill="url(#b3)"/><rect x="801.20" y="26.80" width="4.70" height="393.21" fill="url(#b4)"/><rect x="805.30" y="26.80" width="4.70" height="394.46" fill="url(#b5)"/><rect x="809.40" y="26.80" width="4.70" height="395.70" fill="url(#b6)"/><rect x="813.50" y="26.80" width="4.70" height="396.95" fill="url(#b7)"/><rect x="817.60" y="26.80" width="4.70" height="398.20" fill="url(#b8)"/><rect x="821.70" y="26.80" width="4.70" height="399.44" fill="url(#b9)"/><rect x="825.80" y="26.80" width="4.70" height="400.69" fill="url(#b10)"/><rect x="829.90" y="26.80" width="4.70" height="401.94" fill="url(#b11)"/><rect x="834.00" y="26.80" width="4.70" height="403.18" fill="url(#b12)"/><rect x="838.10" y="26.80" width="4.70" height="404.43" fill="url(#b13)"/><rect x="842.20" y="26.80" width="4.70" height="405.68" fill="url(#b14)"/><rect x="846.30" y="26.80" width="4.70" height="406.92" fill="url(#b15)"/><rect x="850.40" y="26.80" width="4.70" height="408.17" fill="url(#b16)"/><rect x="854.50" y="26.80" width="4.70" height="409.42" fill="url(#b17)"/><rect x="858.60" y="26.80" width="4.70" height="410.66" fill="url(#b18)"/><rect x="862.70" y="26.80" width="4.70" height="411.91" fill="url(#b19)"/><rect x="866.80" y="26.80" width="4.70" height="413.16" fill="url(#b20)"/><rect x="870.90" y="26.80" width="4.70" height="414.40" fill="url(#b21)"/><rect x="875.00" y="26.80" width="4.70" height="415.65" fill="url(#b22)"/><rect x="879.10" y="26.80" width="4.70" height="416.90" fill="url(#b23)"/><rect x="883.20" y="26.80" width="4.70" height="418.14" fill="url(#b24)"/><rect x="887.30" y="26.80" width="4.70" height="419.39" fill="url(#b25)"/><rect x="891.40" y="26.80" width="4.70" height="420.64" fill="url(#b26)"/><rect x="895.50" y="26.80" width="4.70" height="421.88" fill="url(#b27)"/><rect x="899.60" y="26.80" width="4.70" height="423.13" fill="url(#b28)"/><rect x="903.70" y="26.80" width="4.70" height="424.38" fill="url(#b29)"/><rect x="907.80" y="26.80" width="4.70" height="425.62" fill="url(#b30)"/><rect x="911.90" y="26.80" width="4.70" height="426.87" fill="url(#b31)"/><rect x="916.00" y="26.80" width="4.70" height="428.12" fill="url(#b32)"/><rect x="920.10" y="26.80" width="4.70" height="429.36" fill="url(#b33)"/><rect x="924.20" y="26.80" width="4.70" height="430.61" fill="url(#b34)"/><rect x="928.30" y="26.80" width="4.70" height="431.86" fill="url(#b35)"/><rect x="932.40" y="26.80" width="4.70" height="433.10" fill="url(#b36)"/><rect x="936.50" y="26.80" width="4.70" height="434.35" fill="url(#b37)"/><rect x="940.60" y="26.80" width="4.70" height="435.60" fill="url(#b38)"/><rect x="944.70" y="26.80" width="4.70" height="436.84" fill="url(#b39)"/><rect x="948.80" y="26.80" width="4.70" height="438.09" fill="url(#b40)"/><rect x="952.90" y="26.80" width="4.70" height="439.34" fill="url(#b41)"/><rect x="957.00" y="26.80" width="4.70" height="440.58" fill="url(#b42)"/><rect x="961.10" y="26.80" width="4.70" height="441.83" fill="url(#b43)"/><rect x="965.20" y="26.80" width="4.70" height="443.08" fill="url(#b44)"/><rect x="969.30" y="26.80" width="4.70" height="444.32" fill="url(#b45)"/><rect x="973.40" y="26.80" width="4.70" height="445.57" fill="url(#b46)"/><rect x="977.50" y="26.80" width="4.70" height="446.82" fill="url(#b47)"/><rect x="981.60" y="26.80" width="4.70" height="448.06" fill="url(#b48)"/><rect x="985.70" y="26.80" width="4.70" height="449.31" fill="url(#b49)"/><rect x="989.80" y="26.80" width="4.70" height="450.56" fill="url(#b50)"/><rect x="993.90" y="26.80" width="4.70" height="451.80" fill="url(#b51)"/><rect x="998.00" y="26.80" width="4.70" height="453.05" fill="url(#b52)"/><rect x="1002.10" y="26.80" width="4.70" height="454.30" fill="url(#b53)"/><rect x="1006.20" y="26.80" width="4.70" height="455.54" fill="url(#b54)"/><rect x="1010.30" y="26.80" width="4.70" height="456.79" fill="url(#b55)"/><rect x="1014.40" y="26.80" width="4.70" height="458.04" fill="url(#b56)"/><rect x="1018.50" y="26.80" width="4.70" height="459.28" fill="url(#b57)"/><rect x="1022.60" y="26.80" width="4.70" height="460.53" fill="url(#b58)"/><rect x="1026.70" y="26.80" width="4.70" height="461.78" fill="url(#b59)"/><rect x="1030.80" y="26.80" width="4.70" height="463.02" fill="url(#b60)"/><rect x="1034.90" y="26.80" width="4.70" height="464.27" fill="url(#b61)"/><rect x="1039.00" y="26.80" width="4.70" height="465.52" fill="url(#b62)"/><rect x="1043.10" y="26.80" width="4.70" height="466.76" fill="url(#b63)"/><rect x="1047.20" y="26.80" width="4.70" height="468.01" fill="url(#b64)"/><rect x="1051.30" y="26.80" width="4.70" height="469.26" fill="url(#b65)"/><rect x="1055.40" y="26.80" width="4.70" height="470.50" fill="url(#b66)"/><rect x="1059.50" y="26.80" width="4.70" height="471.75" fill="url(#b67)"/><rect x="1063.60" y="26.80" width="4.70" height="473.00" fill="url(#b68)"/><rect x="1067.70" y="26.80" width="4.70" height="474.24" fill="url(#b69)"/><rect x="1071.80" y="26.80" width="4.70" height="475.49" fill="url(#b70)"/><rect x="1075.90" y="26.80" width="4.70" height="476.74" fill="url(#b71)"/><rect x="1080.00" y="26.80" width="4.70" height="477.98" fill="url(#b72)"/><rect x="1084.10" y="26.80" width="4.70" height="479.23" fill="url(#b73)"/><rect x="1088.20" y="26.80" width="4.70" height="480.48" fill="url(#b74)"/><rect x="1092.30" y="26.80" width="4.70" height="481.72" fill="url(#b75)"/><rect x="1096.40" y="26.80" width="4.70" height="482.97" fill="url(#b76)"/><rect x="1100.50" y="26.80" width="4.70" height="484.22" fill="url(#b77)"/><rect x="1104.60" y="26.80" width="4.70" height="485.46" fill="url(#b78)"/><rect x="1108.70" y="26.80" width="4.70" height="486.00" fill="url(#b79)"/><rect x="1112.80" y="26.80" width="4.70" height="486.00" fill="url(#b80)"/><rect x="1116.90" y="26.80" width="4.70" height="486.00" fill="url(#b81)"/><rect x="1121.00" y="26.80" width="4.70" height="486.00" fill="url(#b82)"/><rect x="1125.10" y="26.80" width="4.70" height="486.00" fill="url(#b83)"/><rect x="1129.20" y="26.80" width="4.70" height="486.00" fill="url(#b84)"/><rect x="1133.30" y="26.80" width="4.70" height="486.00" fill="url(#b85)"/><rect x="1137.40" y="26.80" width="4.70" height="486.00" fill="url(#b86)"/><rect x="1141.50" y="26.80" width="4.70" height="486.00" fill="url(#b87)"/><rect x="1145.60" y="26.80" width="4.70" height="486.00" fill="url(#b88)"/><rect x="1149.70" y="26.80" width="4.70" height="486.00" fill="url(#b89)"/><rect x="1153.80" y="26.80" width="4.70" height="486.00" fill="url(#b90)"/><rect x="1157.90" y="26.80" width="4.70" height="486.00" fill="url(#b91)"/><rect x="1162.00" y="26.80" width="4.70" height="486.00" fill="url(#b92)"/><rect x="1166.10" y="26.80" width="4.70" height="486.00" fill="url(#b93)"/><rect x="1170.20" y="26.80" width="4.70" height="486.00" fill="url(#b94)"/><rect x="1174.30" y="26.80" width="4.70" height="486.00" fill="url(#b95)"/><rect x="1178.40" y="26.80" width="4.70" height="486.00" fill="url(#b96)"/><rect x="1182.50" y="26.80" width="4.70" height="486.00" fill="url(#b97)"/><rect x="1186.60" y="26.80" width="4.70" height="486.00" fill="url(#b98)"/><rect x="1190.70" y="26.80" width="4.70" height="486.00" fill="url(#b99)"/><rect x="1194.80" y="26.80" width="4.70" height="486.00" fill="url(#b100)"/><rect x="1198.90" y="26.80" width="4.70" height="486.00" fill="url(#b101)"/><rect x="1203.00" y="26.80" width="4.70" height="486.00" fill="url(#b102)"/><rect x="1207.10" y="26.80" width="4.70" height="486.00" fill="url(#b103)"/><rect x="1211.20" y="26.80" width="4.70" height="486.00" fill="url(#b104)"/><rect x="1215.30" y="26.80" width="4.70" height="486.00" fill="url(#b105)"/><rect x="1219.40" y="26.80" width="4.70" height="486.00" fill="url(#b106)"/><rect x="1223.50" y="26.80" width="4.70" height="486.00" fill="url(#b107)"/><rect x="1227.60" y="26.80" width="4.70" height="486.00" fill="url(#b108)"/><rect x="1231.70" y="26.80" width="4.70" height="486.00" fill="url(#b109)"/><rect x="1235.80" y="26.80" width="4.70" height="486.00" fill="url(#b110)"/><rect x="1239.90" y="26.80" width="4.70" height="486.00" fill="url(#b111)"/><rect x="1244.00" y="26.80" width="4.70" height="486.00" fill="url(#b112)"/><rect x="1248.10" y="26.80" width="4.70" height="486.00" fill="url(#b113)"/><rect x="1252.20" y="26.80" width="4.70" height="486.00" fill="url(#b114)"/><rect x="1256.30" y="26.80" width="4.70" height="486.00" fill="url(#b115)"/><rect x="1260.40" y="26.80" width="4.70" height="486.00" fill="url(#b116)"/><rect x="1264.50" y="26.80" width="4.70" height="486.00" fill="url(#b117)"/><rect x="1268.60" y="26.80" width="4.70" height="486.00" fill="url(#b118)"/><rect x="1272.70" y="26.80" width="4.70" height="486.00" fill="url(#b119)"/><rect x="1276.80" y="26.80" width="4.70" height="486.00" fill="url(#b120)"/><rect x="1280.90" y="26.80" width="4.70" height="486.00" fill="url(#b121)"/><rect x="1285.00" y="26.80" width="4.70" height="486.00" fill="url(#b122)"/><rect x="1289.10" y="26.80" width="4.70" height="486.00" fill="url(#b123)"/><rect x="1293.20" y="26.80" width="4.70" height="486.00" fill="url(#b124)"/><rect x="1297.30" y="26.80" width="4.70" height="486.00" fill="url(#b125)"/><rect x="1301.40" y="26.80" width="4.70" height="486.00" fill="url(#b126)"/><rect x="1305.50" y="26.80" width="4.70" height="486.00" fill="url(#b127)"/><rect x="1309.60" y="26.80" width="4.70" height="486.00" fill="url(#b128)"/><rect x="1313.70" y="26.80" width="4.70" height="486.00" fill="url(#b129)"/><rect x="1317.80" y="26.80" width="4.70" height="486.00" fill="url(#b130)"/><rect x="1321.90" y="26.80" width="4.70" height="486.00" fill="url(#b131)"/><rect x="1326.00" y="26.80" width="4.70" height="486.00" fill="url(#b132)"/><rect x="1330.10" y="26.80" width="4.70" height="486.00" fill="url(#b133)"/><rect x="1334.20" y="26.80" width="4.70" height="486.00" fill="url(#b134)"/><rect x="1338.30" y="26.80" width="4.70" height="486.00" fill="url(#b135)"/><rect x="1342.40" y="26.80" width="4.70" height="486.00" fill="url(#b136)"/><rect x="1346.50" y="26.80" width="4.70" height="486.00" fill="url(#b137)"/><rect x="1350.60" y="26.80" width="4.70" height="486.00" fill="url(#b138)"/><rect x="1354.70" y="26.80" width="12.70" height="486.00" fill="url(#b139)"/></g></g>
<polygon shape-rendering="crispEdges" fill="#fff" points="784.30,409.09 784.55,409.09 784.55,411.52 792.55,411.52 792.55,413.96 800.55,413.96 800.55,416.40 808.55,416.40 808.55,418.83 816.55,418.83 816.55,421.27 824.55,421.27 824.55,423.70 832.80,423.70 832.80,426.14 840.80,426.14 840.80,428.58 848.80,428.58 848.80,431.01 856.80,431.01 856.80,433.45 864.80,433.45 864.80,435.88 872.80,435.88 872.80,438.32 880.80,438.32 880.80,440.76 888.80,440.76 888.80,443.19 896.80,443.19 896.80,445.63 904.80,445.63 904.80,448.06 912.80,448.06 912.80,450.50 920.80,450.50 920.80,452.94 928.80,452.94 928.80,455.37 936.80,455.37 936.80,457.81 944.80,457.81 944.80,460.24 952.80,460.24 952.80,462.68 960.80,462.68 960.80,465.12 968.80,465.12 968.80,467.55 976.80,467.55 976.80,469.99 984.80,469.99 984.80,472.42 992.80,472.42 992.80,474.86 1001.05,474.86 1001.05,477.30 1009.05,477.30 1009.05,479.73 1017.05,479.73 1017.05,482.17 1025.05,482.17 1025.05,484.60 1033.05,484.60 1033.05,487.04 1041.05,487.04 1041.05,489.48 1049.05,489.48 1049.05,491.91 1057.05,491.91 1057.05,494.35 1065.05,494.35 1065.05,496.78 1073.05,496.78 1073.05,499.22 1081.05,499.22 1081.05,501.66 1089.05,501.66 1089.05,504.09 1097.05,504.09 1097.05,506.53 1105.05,506.53 1105.05,508.96 1113.05,508.96 1113.05,511.30 1113.30,511.30 1113.30,511.30 1111.30,511.30 1109.30,511.30 1107.30,511.30 1105.30,511.30 1103.30,511.30 1101.30,511.30 1099.30,511.30 1097.30,511.30 1095.30,511.30 1093.30,511.20 1091.30,510.59 1089.30,509.99 1087.30,509.38 1085.30,508.77 1083.30,508.16 1081.30,507.55 1079.30,506.95 1077.30,506.34 1075.30,505.73 1073.30,505.12 1071.30,504.51 1069.30,503.91 1067.30,503.30 1065.30,502.69 1063.30,502.08 1061.30,501.47 1059.30,500.86 1057.30,500.26 1055.30,499.65 1053.30,499.04 1051.30,498.43 1049.30,497.82 1047.30,497.22 1045.30,496.61 1043.30,496.00 1041.30,495.39 1039.30,494.78 1037.30,494.18 1035.30,493.57 1033.30,492.96 1031.30,492.35 1029.30,491.74 1027.30,491.13 1025.30,490.53 1023.30,489.92 1021.30,489.31 1019.30,488.70 1017.30,488.09 1015.30,487.49 1013.30,486.88 1011.30,486.27 1009.30,485.66 1007.30,485.05 1005.30,484.45 1003.30,483.84 1001.30,483.23 999.30,482.62 997.30,482.01 995.30,481.40 993.30,480.80 991.30,480.19 989.30,479.58 987.30,478.97 985.30,478.36 983.30,477.76 981.30,477.15 979.30,476.54 977.30,475.93 975.30,475.32 973.30,474.72 971.30,474.11 969.30,473.50 967.30,472.89 965.30,472.28 963.30,471.67 961.30,471.07 959.30,470.46 957.30,469.85 955.30,469.24 953.30,468.63 951.30,468.03 949.30,467.42 947.30,466.81 945.30,466.20 943.30,465.59 941.30,464.99 939.30,464.38 937.30,463.77 935.30,463.16 933.30,462.55 931.30,461.94 929.30,461.34 927.30,460.73 925.30,460.12 923.30,459.51 921.30,458.90 919.30,458.30 917.30,457.69 915.30,457.08 913.30,456.47 911.30,455.86 909.30,455.26 907.30,454.65 905.30,454.04 903.30,453.43 901.30,452.82 899.30,452.21 897.30,451.61 895.30,451.00 893.30,450.39 891.30,449.78 889.30,449.17 887.30,448.57 885.30,447.96 883.30,447.35 881.30,446.74 879.30,446.13 877.30,445.53 875.30,444.92 873.30,444.31 871.30,443.70 869.30,443.09 867.30,442.48 865.30,441.88 863.30,441.27 861.30,440.66 859.30,440.05 857.30,439.44 855.30,438.84 853.30,438.23 851.30,437.62 849.30,437.01 847.30,436.40 845.30,435.80 843.30,435.19 841.30,434.58 839.30,433.97 837.30,433.36 835.30,432.76 833.30,432.15 831.30,431.54 829.30,430.93 827.30,430.32 825.30,429.71 823.30,429.11 821.30,428.50 819.30,427.89 817.30,427.28 815.30,426.67 813.30,426.07 811.30,425.46 809.30,424.85 807.30,424.24 805.30,423.63 803.30,423.03 801.30,422.42 799.30,421.81 797.30,421.20 795.30,420.59 793.30,419.98 791.30,419.38 789.30,418.77 787.30,418.16 785.30,417.55"/>
<g clip-path="url(#cpc)"><g filter="url(#fc)"><rect x="1412.20" y="26.80" width="16.70" height="427.16" fill="url(#c0)"/><rect x="1428.30" y="26.80" width="4.70" height="426.68" fill="url(#c1)"/><rect x="1432.40" y="26.80" width="4.70" height="426.21" fill="url(#c2)"/><rect x="1436.50" y="26.80" width="4.70" height="425.73" fill="url(#c3)"/><rect x="1440.60" y="26.80" width="4.70" height="425.25" fill="url(#c4)"/><rect x="1444.70" y="26.80" width="4.70" height="424.77" fill="url(#c5)"/><rect x="1448.80" y="26.80" width="4.70" height="424.30" fill="url(#c6)"/><rect x="1452.90" y="26.80" width="4.70" height="423.82" fill="url(#c7)"/><rect x="1457.00" y="26.80" width="4.70" height="423.34" fill="url(#c8)"/><rect x="1461.10" y="26.80" width="4.70" height="422.87" fill="url(#c9)"/><rect x="1465.20" y="26.80" width="4.70" height="422.39" fill="url(#c10)"/><rect x="1469.30" y="26.80" width="4.70" height="421.91" fill="url(#c11)"/><rect x="1473.40" y="26.80" width="4.70" height="421.43" fill="url(#c12)"/><rect x="1477.50" y="26.80" width="4.70" height="420.96" fill="url(#c13)"/><rect x="1481.60" y="26.80" width="4.70" height="420.48" fill="url(#c14)"/><rect x="1485.70" y="26.80" width="4.70" height="420.00" fill="url(#c15)"/><rect x="1489.80" y="26.80" width="4.70" height="419.52" fill="url(#c16)"/><rect x="1493.90" y="26.80" width="4.70" height="419.05" fill="url(#c17)"/><rect x="1498.00" y="26.80" width="4.70" height="418.57" fill="url(#c18)"/><rect x="1502.10" y="26.80" width="4.70" height="418.09" fill="url(#c19)"/><rect x="1506.20" y="26.80" width="4.70" height="417.61" fill="url(#c20)"/><rect x="1510.30" y="26.80" width="4.70" height="417.14" fill="url(#c21)"/><rect x="1514.40" y="26.80" width="4.70" height="416.66" fill="url(#c22)"/><rect x="1518.50" y="26.80" width="4.70" height="416.18" fill="url(#c23)"/><rect x="1522.60" y="26.80" width="4.70" height="415.70" fill="url(#c24)"/><rect x="1526.70" y="26.80" width="4.70" height="415.23" fill="url(#c25)"/><rect x="1530.80" y="26.80" width="4.70" height="414.75" fill="url(#c26)"/><rect x="1534.90" y="26.80" width="4.70" height="414.27" fill="url(#c27)"/><rect x="1539.00" y="26.80" width="4.70" height="413.80" fill="url(#c28)"/><rect x="1543.10" y="26.80" width="4.70" height="413.32" fill="url(#c29)"/><rect x="1547.20" y="26.80" width="4.70" height="412.84" fill="url(#c30)"/><rect x="1551.30" y="26.80" width="4.70" height="412.36" fill="url(#c31)"/><rect x="1555.40" y="26.80" width="4.70" height="411.89" fill="url(#c32)"/><rect x="1559.50" y="26.80" width="4.70" height="411.41" fill="url(#c33)"/><rect x="1563.60" y="26.80" width="4.70" height="410.93" fill="url(#c34)"/><rect x="1567.70" y="26.80" width="4.70" height="410.45" fill="url(#c35)"/><rect x="1571.80" y="26.80" width="4.70" height="409.98" fill="url(#c36)"/><rect x="1575.90" y="26.80" width="4.70" height="409.50" fill="url(#c37)"/><rect x="1580.00" y="26.80" width="4.70" height="409.02" fill="url(#c38)"/><rect x="1584.10" y="26.80" width="4.70" height="408.54" fill="url(#c39)"/><rect x="1588.20" y="26.80" width="4.70" height="408.07" fill="url(#c40)"/><rect x="1592.30" y="26.80" width="4.70" height="407.59" fill="url(#c41)"/><rect x="1596.40" y="26.80" width="4.70" height="407.11" fill="url(#c42)"/><rect x="1600.50" y="26.80" width="4.70" height="406.64" fill="url(#c43)"/><rect x="1604.60" y="26.80" width="4.70" height="406.16" fill="url(#c44)"/><rect x="1608.70" y="26.80" width="4.70" height="405.68" fill="url(#c45)"/><rect x="1612.80" y="26.80" width="4.70" height="405.20" fill="url(#c46)"/><rect x="1616.90" y="26.80" width="4.70" height="404.73" fill="url(#c47)"/><rect x="1621.00" y="26.80" width="4.70" height="404.25" fill="url(#c48)"/><rect x="1625.10" y="26.80" width="4.70" height="403.77" fill="url(#c49)"/><rect x="1629.20" y="26.80" width="4.70" height="403.29" fill="url(#c50)"/><rect x="1633.30" y="26.80" width="4.70" height="402.82" fill="url(#c51)"/><rect x="1637.40" y="26.80" width="4.70" height="402.34" fill="url(#c52)"/><rect x="1641.50" y="26.80" width="4.70" height="401.86" fill="url(#c53)"/><rect x="1645.60" y="26.80" width="4.70" height="401.38" fill="url(#c54)"/><rect x="1649.70" y="26.80" width="4.70" height="400.91" fill="url(#c55)"/><rect x="1653.80" y="26.80" width="4.70" height="400.43" fill="url(#c56)"/><rect x="1657.90" y="26.80" width="4.70" height="399.95" fill="url(#c57)"/><rect x="1662.00" y="26.80" width="4.70" height="399.48" fill="url(#c58)"/><rect x="1666.10" y="26.80" width="4.70" height="399.00" fill="url(#c59)"/><rect x="1670.20" y="26.80" width="4.70" height="398.52" fill="url(#c60)"/><rect x="1674.30" y="26.80" width="4.70" height="398.04" fill="url(#c61)"/><rect x="1678.40" y="26.80" width="4.70" height="397.57" fill="url(#c62)"/><rect x="1682.50" y="26.80" width="4.70" height="397.09" fill="url(#c63)"/><rect x="1686.60" y="26.80" width="4.70" height="396.61" fill="url(#c64)"/><rect x="1690.70" y="26.80" width="4.70" height="396.13" fill="url(#c65)"/><rect x="1694.80" y="26.80" width="4.70" height="395.66" fill="url(#c66)"/><rect x="1698.90" y="26.80" width="4.70" height="395.18" fill="url(#c67)"/><rect x="1703.00" y="26.80" width="4.70" height="394.70" fill="url(#c68)"/><rect x="1707.10" y="26.80" width="4.70" height="394.22" fill="url(#c69)"/><rect x="1711.20" y="26.80" width="4.70" height="393.75" fill="url(#c70)"/><rect x="1715.30" y="26.80" width="4.70" height="393.27" fill="url(#c71)"/><rect x="1719.40" y="26.80" width="4.70" height="392.79" fill="url(#c72)"/><rect x="1723.50" y="26.80" width="4.70" height="392.31" fill="url(#c73)"/><rect x="1727.60" y="26.80" width="4.70" height="391.84" fill="url(#c74)"/><rect x="1731.70" y="26.80" width="4.70" height="391.36" fill="url(#c75)"/><rect x="1735.80" y="26.80" width="4.70" height="390.88" fill="url(#c76)"/><rect x="1739.90" y="26.80" width="4.70" height="390.41" fill="url(#c77)"/><rect x="1744.00" y="26.80" width="4.70" height="389.93" fill="url(#c78)"/><rect x="1748.10" y="26.80" width="4.70" height="389.45" fill="url(#c79)"/><rect x="1752.20" y="26.80" width="4.70" height="388.97" fill="url(#c80)"/><rect x="1756.30" y="26.80" width="4.70" height="388.50" fill="url(#c81)"/><rect x="1760.40" y="26.80" width="4.70" height="388.02" fill="url(#c82)"/><rect x="1764.50" y="26.80" width="4.70" height="387.54" fill="url(#c83)"/><rect x="1768.60" y="26.80" width="4.70" height="387.06" fill="url(#c84)"/><rect x="1772.70" y="26.80" width="4.70" height="386.59" fill="url(#c85)"/><rect x="1776.80" y="26.80" width="4.70" height="386.11" fill="url(#c86)"/><rect x="1780.90" y="26.80" width="4.70" height="385.63" fill="url(#c87)"/><rect x="1785.00" y="26.80" width="4.70" height="385.15" fill="url(#c88)"/><rect x="1789.10" y="26.80" width="4.70" height="384.68" fill="url(#c89)"/><rect x="1793.20" y="26.80" width="4.70" height="384.20" fill="url(#c90)"/><rect x="1797.30" y="26.80" width="4.70" height="383.72" fill="url(#c91)"/><rect x="1801.40" y="26.80" width="4.70" height="383.25" fill="url(#c92)"/><rect x="1805.50" y="26.80" width="4.70" height="382.77" fill="url(#c93)"/><rect x="1809.60" y="26.80" width="4.70" height="382.29" fill="url(#c94)"/><rect x="1813.70" y="26.80" width="4.70" height="381.81" fill="url(#c95)"/><rect x="1817.80" y="26.80" width="4.70" height="381.34" fill="url(#c96)"/><rect x="1821.90" y="26.80" width="4.70" height="380.86" fill="url(#c97)"/><rect x="1826.00" y="26.80" width="4.70" height="380.38" fill="url(#c98)"/><rect x="1830.10" y="26.80" width="4.70" height="379.90" fill="url(#c99)"/><rect x="1834.20" y="26.80" width="4.70" height="379.43" fill="url(#c100)"/><rect x="1838.30" y="26.80" width="4.70" height="378.95" fill="url(#c101)"/><rect x="1842.40" y="26.80" width="4.70" height="378.47" fill="url(#c102)"/><rect x="1846.50" y="26.80" width="4.70" height="377.99" fill="url(#c103)"/><rect x="1850.60" y="26.80" width="4.70" height="377.52" fill="url(#c104)"/><rect x="1854.70" y="26.80" width="4.70" height="377.04" fill="url(#c105)"/><rect x="1858.80" y="26.80" width="4.70" height="376.56" fill="url(#c106)"/><rect x="1862.90" y="26.80" width="4.70" height="376.09" fill="url(#c107)"/><rect x="1867.00" y="26.80" width="4.70" height="375.61" fill="url(#c108)"/><rect x="1871.10" y="26.80" width="4.70" height="375.13" fill="url(#c109)"/><rect x="1875.20" y="26.80" width="4.70" height="374.65" fill="url(#c110)"/><rect x="1879.30" y="26.80" width="4.70" height="374.18" fill="url(#c111)"/><rect x="1883.40" y="26.80" width="4.70" height="373.70" fill="url(#c112)"/><rect x="1887.50" y="26.80" width="4.70" height="373.22" fill="url(#c113)"/><rect x="1891.60" y="26.80" width="4.70" height="372.74" fill="url(#c114)"/><rect x="1895.70" y="26.80" width="4.70" height="372.27" fill="url(#c115)"/><rect x="1899.80" y="26.80" width="4.70" height="371.79" fill="url(#c116)"/><rect x="1903.90" y="26.80" width="4.70" height="371.31" fill="url(#c117)"/><rect x="1908.00" y="26.80" width="4.70" height="370.83" fill="url(#c118)"/><rect x="1912.10" y="26.80" width="4.70" height="370.36" fill="url(#c119)"/><rect x="1916.20" y="26.80" width="4.70" height="369.88" fill="url(#c120)"/><rect x="1920.30" y="26.80" width="4.70" height="369.40" fill="url(#c121)"/><rect x="1924.40" y="26.80" width="4.70" height="368.92" fill="url(#c122)"/><rect x="1928.50" y="26.80" width="4.70" height="368.45" fill="url(#c123)"/><rect x="1932.60" y="26.80" width="4.70" height="367.97" fill="url(#c124)"/><rect x="1936.70" y="26.80" width="4.70" height="367.49" fill="url(#c125)"/><rect x="1940.80" y="26.80" width="4.70" height="367.02" fill="url(#c126)"/><rect x="1944.90" y="26.80" width="4.70" height="366.54" fill="url(#c127)"/><rect x="1949.00" y="26.80" width="4.70" height="366.06" fill="url(#c128)"/><rect x="1953.10" y="26.80" width="4.70" height="365.58" fill="url(#c129)"/><rect x="1957.20" y="26.80" width="4.70" height="365.11" fill="url(#c130)"/><rect x="1961.30" y="26.80" width="4.70" height="364.63" fill="url(#c131)"/><rect x="1965.40" y="26.80" width="4.70" height="364.15" fill="url(#c132)"/><rect x="1969.50" y="26.80" width="4.70" height="363.67" fill="url(#c133)"/><rect x="1973.60" y="26.80" width="4.70" height="363.20" fill="url(#c134)"/><rect x="1977.70" y="26.80" width="4.70" height="362.72" fill="url(#c135)"/><rect x="1981.80" y="26.80" width="4.70" height="362.24" fill="url(#c136)"/><rect x="1985.90" y="26.80" width="4.70" height="361.76" fill="url(#c137)"/><rect x="1990.00" y="26.80" width="14.80" height="361.36" fill="url(#c138)"/></g></g>
<polygon shape-rendering="crispEdges" fill="#fff" points="1423.70,450.50 1432.20,450.50 1432.20,448.06 1453.20,448.06 1453.20,445.63 1473.95,445.63 1473.95,443.19 1494.95,443.19 1494.95,440.76 1515.95,440.76 1515.95,438.32 1536.95,438.32 1536.95,435.88 1557.70,435.88 1557.70,433.45 1578.70,433.45 1578.70,431.01 1599.70,431.01 1599.70,428.58 1620.45,428.58 1620.45,426.14 1641.45,426.14 1641.45,423.70 1662.45,423.70 1662.45,421.27 1683.20,421.27 1683.20,418.83 1704.20,418.83 1704.20,416.40 1725.20,416.40 1725.20,413.96 1745.95,413.96 1745.95,411.52 1766.95,411.52 1766.95,409.09 1787.95,409.09 1787.95,406.65 1808.95,406.65 1808.95,404.22 1829.70,404.22 1829.70,401.78 1850.70,401.78 1850.70,399.34 1871.70,399.34 1871.70,396.91 1892.45,396.91 1892.45,394.47 1913.45,394.47 1913.45,392.04 1934.45,392.04 1934.45,389.60 1955.20,389.60 1955.20,387.16 1976.20,387.16 1976.20,384.73 1993.20,384.73 1993.20,390.95 1991.20,391.19 1989.20,391.42 1987.20,391.65 1985.20,391.88 1983.20,392.12 1981.20,392.35 1979.20,392.58 1977.20,392.82 1975.20,393.05 1973.20,393.28 1971.20,393.51 1969.20,393.75 1967.20,393.98 1965.20,394.21 1963.20,394.45 1961.20,394.68 1959.20,394.91 1957.20,395.14 1955.20,395.38 1953.20,395.61 1951.20,395.84 1949.20,396.08 1947.20,396.31 1945.20,396.54 1943.20,396.77 1941.20,397.01 1939.20,397.24 1937.20,397.47 1935.20,397.71 1933.20,397.94 1931.20,398.17 1929.20,398.40 1927.20,398.64 1925.20,398.87 1923.20,399.10 1921.20,399.34 1919.20,399.57 1917.20,399.80 1915.20,400.03 1913.20,400.27 1911.20,400.50 1909.20,400.73 1907.20,400.97 1905.20,401.20 1903.20,401.43 1901.20,401.66 1899.20,401.90 1897.20,402.13 1895.20,402.36 1893.20,402.60 1891.20,402.83 1889.20,403.06 1887.20,403.29 1885.20,403.53 1883.20,403.76 1881.20,403.99 1879.20,404.23 1877.20,404.46 1875.20,404.69 1873.20,404.92 1871.20,405.16 1869.20,405.39 1867.20,405.62 1865.20,405.86 1863.20,406.09 1861.20,406.32 1859.20,406.55 1857.20,406.79 1855.20,407.02 1853.20,407.25 1851.20,407.49 1849.20,407.72 1847.20,407.95 1845.20,408.18 1843.20,408.42 1841.20,408.65 1839.20,408.88 1837.20,409.12 1835.20,409.35 1833.20,409.58 1831.20,409.81 1829.20,410.05 1827.20,410.28 1825.20,410.51 1823.20,410.75 1821.20,410.98 1819.20,411.21 1817.20,411.44 1815.20,411.68 1813.20,411.91 1811.20,412.14 1809.20,412.38 1807.20,412.61 1805.20,412.84 1803.20,413.07 1801.20,413.31 1799.20,413.54 1797.20,413.77 1795.20,414.01 1793.20,414.24 1791.20,414.47 1789.20,414.70 1787.20,414.94 1785.20,415.17 1783.20,415.40 1781.20,415.64 1779.20,415.87 1777.20,416.10 1775.20,416.33 1773.20,416.57 1771.20,416.80 1769.20,417.03 1767.20,417.27 1765.20,417.50 1763.20,417.73 1761.20,417.96 1759.20,418.20 1757.20,418.43 1755.20,418.66 1753.20,418.90 1751.20,419.13 1749.20,419.36 1747.20,419.59 1745.20,419.83 1743.20,420.06 1741.20,420.29 1739.20,420.53 1737.20,420.76 1735.20,420.99 1733.20,421.22 1731.20,421.46 1729.20,421.69 1727.20,421.92 1725.20,422.16 1723.20,422.39 1721.20,422.62 1719.20,422.85 1717.20,423.09 1715.20,423.32 1713.20,423.55 1711.20,423.79 1709.20,424.02 1707.20,424.25 1705.20,424.48 1703.20,424.72 1701.20,424.95 1699.20,425.18 1697.20,425.42 1695.20,425.65 1693.20,425.88 1691.20,426.11 1689.20,426.35 1687.20,426.58 1685.20,426.81 1683.20,427.05 1681.20,427.28 1679.20,427.51 1677.20,427.74 1675.20,427.98 1673.20,428.21 1671.20,428.44 1669.20,428.68 1667.20,428.91 1665.20,429.14 1663.20,429.37 1661.20,429.61 1659.20,429.84 1657.20,430.07 1655.20,430.31 1653.20,430.54 1651.20,430.77 1649.20,431.00 1647.20,431.24 1645.20,431.47 1643.20,431.70 1641.20,431.94 1639.20,432.17 1637.20,432.40 1635.20,432.63 1633.20,432.87 1631.20,433.10 1629.20,433.33 1627.20,433.57 1625.20,433.80 1623.20,434.03 1621.20,434.26 1619.20,434.50 1617.20,434.73 1615.20,434.96 1613.20,435.20 1611.20,435.43 1609.20,435.66 1607.20,435.89 1605.20,436.13 1603.20,436.36 1601.20,436.59 1599.20,436.83 1597.20,437.06 1595.20,437.29 1593.20,437.52 1591.20,437.76 1589.20,437.99 1587.20,438.22 1585.20,438.46 1583.20,438.69 1581.20,438.92 1579.20,439.15 1577.20,439.39 1575.20,439.62 1573.20,439.85 1571.20,440.09 1569.20,440.32 1567.20,440.55 1565.20,440.78 1563.20,441.02 1561.20,441.25 1559.20,441.48 1557.20,441.72 1555.20,441.95 1553.20,442.18 1551.20,442.41 1549.20,442.65 1547.20,442.88 1545.20,443.11 1543.20,443.35 1541.20,443.58 1539.20,443.81 1537.20,444.04 1535.20,444.28 1533.20,444.51 1531.20,444.74 1529.20,444.98 1527.20,445.21 1525.20,445.44 1523.20,445.67 1521.20,445.91 1519.20,446.14 1517.20,446.37 1515.20,446.61 1513.20,446.84 1511.20,447.07 1509.20,447.30 1507.20,447.54 1505.20,447.77 1503.20,448.00 1501.20,448.24 1499.20,448.47 1497.20,448.70 1495.20,448.93 1493.20,449.17 1491.20,449.40 1489.20,449.63 1487.20,449.87 1485.20,450.10 1483.20,450.33 1481.20,450.56 1479.20,450.80 1477.20,451.03 1475.20,451.26 1473.20,451.50 1471.20,451.73 1469.20,451.96 1467.20,452.19 1465.20,452.43 1463.20,452.66 1461.20,452.89 1459.20,453.13 1457.20,453.36 1455.20,453.59 1453.20,453.82 1451.20,454.06 1449.20,454.29 1447.20,454.52 1445.20,454.76 1443.20,454.99 1441.20,455.22 1439.20,455.45 1437.20,455.69 1435.20,455.92 1433.20,456.15 1431.20,456.39 1429.20,456.62 1427.20,456.85 1425.20,457.08"/>
<rect x="2025.80" y="53.60" width="31.40" height="457.90" fill="url(#cb)" stroke="#262626" stroke-width="1.2"/>
<text x="2068.30" y="522.10" font-size="29.00" font-family='"Liberation Serif", "Times New Roman", serif' text-anchor="start" fill="#000">0</text>
<line x1="2057.20" y1="358.87" x2="2052.20" y2="358.87" stroke="#262626" stroke-width="1.50"/>
<text x="2068.30" y="369.47" font-size="29.00" font-family='"Liberation Serif", "Times New Roman", serif' text-anchor="start" fill="#000">0.05</text>
<line x1="2057.20" y1="206.23" x2="2052.20" y2="206.23" stroke="#262626" stroke-width="1.50"/>
<text x="2068.30" y="216.84" font-size="29.00" font-family='"Liberation Serif", "Times New Roman", serif' text-anchor="start" fill="#000">0.1</text>
<text x="2068.30" y="64.20" font-size="29.00" font-family='"Liberation Serif", "Times New Roman", serif' text-anchor="start" fill="#000">0.15</text>
<text x="1992.70" y="35.60" font-size="32.50" font-family='"Liberation Serif", "Times New Roman", serif' text-anchor="start" fill="#000">m/s/km</text>
<text x="34.50" y="41.50" font-size="42.00" font-family='"Liberation Sans", Arial, sans-serif' text-anchor="start" fill="#000">A</text>
<text x="728.50" y="40.80" font-size="42.00" font-family='"Liberation Sans", Arial, sans-serif' text-anchor="start" fill="#000">B</text>
<text x="1362.50" y="40.80" font-size="42.00" font-family='"Liberation Sans", Arial, sans-serif' text-anchor="start" fill="#000">C</text>
<text x="53.40" y="558.00" font-size="42.00" font-family='"Liberation Sans", Arial, sans-serif' text-anchor="start" fill="#000">D</text>
<text x="724.20" y="597.00" font-size="42.00" font-family='"Liberation Sans", Arial, sans-serif' text-anchor="start" fill="#000">E</text>
<text x="1362.00" y="597.00" font-size="42.00" font-family='"Liberation Sans", Arial, sans-serif' text-anchor="start" fill="#000">F</text>
<text x="141.30" y="88.60" font-size="37.90" font-family='"Liberation Sans", Arial, sans-serif' text-anchor="start" fill="#000">2005</text>
<text x="800.20" y="88.50" font-size="37.90" font-family='"Liberation Sans", Arial, sans-serif' text-anchor="start" fill="#000">2014</text>
<text x="1447.50" y="88.80" font-size="37.90" font-family='"Liberation Sans", Arial, sans-serif' text-anchor="start" fill="#000">2020</text>
<text transform="translate(49.5,266.8) rotate(-90)" font-size="38.3" font-family='"Liberation Sans", Arial, sans-serif' text-anchor="middle" fill="#000">Depth(m)</text>
<text transform="translate(49.2,744) rotate(-90)" font-size="38.5" font-family='"Liberation Sans", Arial, sans-serif' text-anchor="middle" fill="#000"><tspan font-style="italic">τ</tspan><tspan dy="15.5" font-size="29">b</tspan><tspan dy="-15.5"> gradient (N/m</tspan><tspan dy="-23.7" font-size="29">2</tspan><tspan dy="23.7">/km)</tspan></text>
<text x="1058.20" y="956.00" font-size="36.60" font-family='"Liberation Serif", "Times New Roman", serif' text-anchor="middle" fill="#000">Distance (km)</text>
<text transform="translate(2086,725.2) rotate(-90)" font-size="36.8" font-family='"Liberation Serif", "Times New Roman", serif' text-anchor="middle" fill="#D95319">Slope (rad)</text>
<text y="572.6" font-size="31.5" font-family='"Liberation Serif", "Times New Roman", serif' fill="#000"><tspan x="123.8" font-size="42" dy="6">×</tspan><tspan x="150" dy="-6">10</tspan><tspan x="182.4" dy="-16.5" font-size="24.5">-3</tspan></text>
<polyline fill="none" stroke="#D95319" stroke-width="1.50" stroke-linejoin="round" points="123.3,723.3 142.4,714.4 162.4,709.1 180.2,706.9 200.2,706.9 218.0,702.0 235.8,693.5 255.9,684.2 275.9,670.4 293.7,661.0 311.5,653.0 329.3,649.5 349.3,644.1 367.1,641.5 386.3,635.2 404.1,633.4 422.7,634.8 440.5,635.7 456.1,637.0 473.9,641.9 489.5,653.5 507.3,669.0 525.1,681.5 542.9,682.4 560.7,680.6 578.5,684.6 594.1,688.2 611.9,696.6 627.4,710.0 645.2,728.2 663.0,746.0 680.8,757.6 696.4,758.9"/>
<polyline fill="none" stroke="#0072BD" stroke-width="1.50" stroke-linejoin="round" points="123.3,861.3 142.4,860.4 162.4,858.6 180.2,857.7 200.2,857.7 218.0,856.4 238.1,855.9 255.9,853.3 275.9,851.1 291.5,847.0 311.5,845.3 329.3,839.9 348.0,840.4 367.1,832.4 386.3,832.4 404.1,824.4 420.5,822.6 439.7,815.0 456.1,812.8 473.9,818.1 491.7,823.5 507.3,830.6 525.1,835.0 542.9,838.6 560.7,839.9 578.5,842.6 596.3,845.3 611.9,846.6 627.4,849.3 645.2,850.6 663.0,851.5 680.8,853.3 696.4,853.7"/>
<polyline fill="none" stroke="#D95319" stroke-width="1.50" stroke-linejoin="round" points="771.2,788.3 788.1,792.8 822.4,793.2 840.2,790.5 856.6,787.4 875.8,782.5 892.2,779.9 909.1,780.7 926.9,790.5 944.7,807.4 962.5,823.5 979.0,833.7 997.3,832.4 1014.2,829.2 1031.5,829.2 1049.3,830.1 1067.1,831.0 1084.9,834.1 1102.7,840.4 1120.5,849.3 1138.3,855.9 1156.1,862.2 1173.9,868.0 1191.7,869.3 1209.5,870.6 1227.3,872.4 1245.1,871.1 1262.9,867.5 1280.7,867.1 1298.5,864.8 1318.5,864.4 1336.3,872.4 1345.2,867.1"/>
<polyline fill="none" stroke="#0072BD" stroke-width="1.50" stroke-linejoin="round" points="771.2,861.3 788.1,863.5 805.5,862.6 822.4,864.0 840.2,863.1 856.6,863.5 875.8,864.0 892.2,863.1 909.1,866.2 926.9,863.1 944.7,864.4 962.5,861.7 979.0,865.3 997.3,862.2 1014.2,865.3 1031.5,862.6 1049.3,864.4 1067.1,863.5 1084.9,864.4 1102.7,864.4 1120.5,863.5 1138.3,864.8 1156.1,863.1 1173.9,864.8 1191.7,863.5 1209.5,864.0 1227.3,863.1 1245.1,864.0 1262.9,862.2 1280.7,863.5 1298.5,861.3 1318.5,863.5 1336.3,860.4 1345.2,861.7"/>
<polyline fill="none" stroke="#D95319" stroke-width="1.50" stroke-linejoin="round" points="1420.1,692.2 1449.0,683.7 1477.9,674.8 1506.8,666.8 1535.8,664.1 1564.7,657.9 1593.6,657.0 1622.5,651.2 1651.4,646.3 1679.5,643.2 1707.1,643.2 1736.0,645.9 1762.7,648.1 1789.4,658.8 1818.3,673.5 1845.0,691.3 1871.7,715.8 1900.6,742.5 1929.5,752.7 1956.2,764.7 1982.9,763.4 1991.8,763.8"/>
<polyline fill="none" stroke="#0072BD" stroke-width="1.50" stroke-linejoin="round" points="1420.1,848.8 1449.0,847.9 1477.9,846.6 1506.8,845.2 1535.8,844.8 1564.7,844.4 1593.6,842.1 1622.5,834.6 1651.4,831.9 1678.1,822.1 1707.1,821.7 1733.8,815.0 1762.7,815.4 1789.4,820.3 1818.3,827.0 1845.0,836.8 1871.7,846.6 1900.6,853.3 1929.5,854.6 1956.2,857.7 1982.9,859.5 1991.8,859.9"/>
<line x1="122.20" y1="580.20" x2="697.20" y2="580.20" stroke="#262626" stroke-width="1.50"/>
<line x1="122.20" y1="872.20" x2="697.20" y2="872.20" stroke="#262626" stroke-width="1.50"/>
<line x1="122.80" y1="580.20" x2="122.80" y2="872.20" stroke="#262626" stroke-width="1.50"/>
<line x1="122.80" y1="872.20" x2="122.80" y2="866.20" stroke="#262626" stroke-width="1.50"/>
<line x1="122.80" y1="580.20" x2="122.80" y2="586.20" stroke="#262626" stroke-width="1.50"/>
<text x="122.80" y="914.40" font-size="32.50" font-family='"Liberation Serif", "Times New Roman", serif' text-anchor="middle" fill="#000">0</text>
<line x1="314.07" y1="872.20" x2="314.07" y2="866.20" stroke="#262626" stroke-width="1.50"/>
<line x1="314.07" y1="580.20" x2="314.07" y2="586.20" stroke="#262626" stroke-width="1.50"/>
<text x="314.07" y="914.40" font-size="32.50" font-family='"Liberation Serif", "Times New Roman", serif' text-anchor="middle" fill="#000">5</text>
<line x1="505.33" y1="872.20" x2="505.33" y2="866.20" stroke="#262626" stroke-width="1.50"/>
<line x1="505.33" y1="580.20" x2="505.33" y2="586.20" stroke="#262626" stroke-width="1.50"/>
<text x="505.33" y="914.40" font-size="32.50" font-family='"Liberation Serif", "Times New Roman", serif' text-anchor="middle" fill="#000">10</text>
<text x="696.60" y="914.40" font-size="32.50" font-family='"Liberation Serif", "Times New Roman", serif' text-anchor="middle" fill="#000">15</text>
<line x1="770.60" y1="580.20" x2="1344.80" y2="580.20" stroke="#262626" stroke-width="1.50"/>
<line x1="770.60" y1="872.20" x2="1344.80" y2="872.20" stroke="#262626" stroke-width="1.50"/>
<line x1="771.20" y1="580.20" x2="771.20" y2="872.20" stroke="#262626" stroke-width="1.50"/>
<line x1="771.20" y1="872.20" x2="771.20" y2="866.20" stroke="#262626" stroke-width="1.50"/>
<line x1="771.20" y1="580.20" x2="771.20" y2="586.20" stroke="#262626" stroke-width="1.50"/>
<text x="771.20" y="914.40" font-size="32.50" font-family='"Liberation Serif", "Times New Roman", serif' text-anchor="middle" fill="#000">0</text>
<line x1="962.20" y1="872.20" x2="962.20" y2="866.20" stroke="#262626" stroke-width="1.50"/>
<line x1="962.20" y1="580.20" x2="962.20" y2="586.20" stroke="#262626" stroke-width="1.50"/>
<text x="962.20" y="914.40" font-size="32.50" font-family='"Liberation Serif", "Times New Roman", serif' text-anchor="middle" fill="#000">5</text>
<line x1="1153.20" y1="872.20" x2="1153.20" y2="866.20" stroke="#262626" stroke-width="1.50"/>
<line x1="1153.20" y1="580.20" x2="1153.20" y2="586.20" stroke="#262626" stroke-width="1.50"/>
<text x="1153.20" y="914.40" font-size="32.50" font-family='"Liberation Serif", "Times New Roman", serif' text-anchor="middle" fill="#000">10</text>
<text x="1344.20" y="914.40" font-size="32.50" font-family='"Liberation Serif", "Times New Roman", serif' text-anchor="middle" fill="#000">15</text>
<line x1="1419.40" y1="580.20" x2="1992.60" y2="580.20" stroke="#262626" stroke-width="1.50"/>
<line x1="1419.40" y1="872.20" x2="1992.60" y2="872.20" stroke="#262626" stroke-width="1.50"/>
<line x1="1420.00" y1="580.20" x2="1420.00" y2="872.20" stroke="#262626" stroke-width="1.50"/>
<line x1="1420.00" y1="872.20" x2="1420.00" y2="866.20" stroke="#262626" stroke-width="1.50"/>
<line x1="1420.00" y1="580.20" x2="1420.00" y2="586.20" stroke="#262626" stroke-width="1.50"/>
<text x="1420.00" y="914.40" font-size="32.50" font-family='"Liberation Serif", "Times New Roman", serif' text-anchor="middle" fill="#000">0</text>
<line x1="1534.40" y1="872.20" x2="1534.40" y2="866.20" stroke="#262626" stroke-width="1.50"/>
<line x1="1534.40" y1="580.20" x2="1534.40" y2="586.20" stroke="#262626" stroke-width="1.50"/>
<text x="1534.40" y="914.40" font-size="32.50" font-family='"Liberation Serif", "Times New Roman", serif' text-anchor="middle" fill="#000">2</text>
<line x1="1648.80" y1="872.20" x2="1648.80" y2="866.20" stroke="#262626" stroke-width="1.50"/>
<line x1="1648.80" y1="580.20" x2="1648.80" y2="586.20" stroke="#262626" stroke-width="1.50"/>
<text x="1648.80" y="914.40" font-size="32.50" font-family='"Liberation Serif", "Times New Roman", serif' text-anchor="middle" fill="#000">4</text>
<line x1="1763.20" y1="872.20" x2="1763.20" y2="866.20" stroke="#262626" stroke-width="1.50"/>
<line x1="1763.20" y1="580.20" x2="1763.20" y2="586.20" stroke="#262626" stroke-width="1.50"/>
<text x="1763.20" y="914.40" font-size="32.50" font-family='"Liberation Serif", "Times New Roman", serif' text-anchor="middle" fill="#000">6</text>
<line x1="1877.60" y1="872.20" x2="1877.60" y2="866.20" stroke="#262626" stroke-width="1.50"/>
<line x1="1877.60" y1="580.20" x2="1877.60" y2="586.20" stroke="#262626" stroke-width="1.50"/>
<text x="1877.60" y="914.40" font-size="32.50" font-family='"Liberation Serif", "Times New Roman", serif' text-anchor="middle" fill="#000">8</text>
<text x="1992.00" y="914.40" font-size="32.50" font-family='"Liberation Serif", "Times New Roman", serif' text-anchor="middle" fill="#000">10</text>
<line x1="122.80" y1="872.20" x2="128.80" y2="872.20" stroke="#262626" stroke-width="1.50"/>
<text x="110.50" y="883.19" font-size="32.50" font-family='"Liberation Serif", "Times New Roman", serif' text-anchor="end" fill="#000">0</text>
<line x1="122.80" y1="807.16" x2="128.80" y2="807.16" stroke="#262626" stroke-width="1.50"/>
<text x="110.50" y="818.15" font-size="32.50" font-family='"Liberation Serif", "Times New Roman", serif' text-anchor="end" fill="#000">2</text>
<line x1="122.80" y1="742.12" x2="128.80" y2="742.12" stroke="#262626" stroke-width="1.50"/>
<text x="110.50" y="753.11" font-size="32.50" font-family='"Liberation Serif", "Times New Roman", serif' text-anchor="end" fill="#000">4</text>
<line x1="122.80" y1="677.08" x2="128.80" y2="677.08" stroke="#262626" stroke-width="1.50"/>
<text x="110.50" y="688.07" font-size="32.50" font-family='"Liberation Serif", "Times New Roman", serif' text-anchor="end" fill="#000">6</text>
<line x1="122.80" y1="612.04" x2="128.80" y2="612.04" stroke="#262626" stroke-width="1.50"/>
<text x="110.50" y="623.02" font-size="32.50" font-family='"Liberation Serif", "Times New Roman", serif' text-anchor="end" fill="#000">8</text>
<line x1="1992.00" y1="580.20" x2="1992.00" y2="872.20" stroke="#D95319" stroke-width="1.50"/>
<line x1="1992.00" y1="872.20" x2="1986.00" y2="872.20" stroke="#D95319" stroke-width="1.50"/>
<text x="2005.00" y="883.99" font-size="32.50" font-family='"Liberation Serif", "Times New Roman", serif' text-anchor="start" fill="#D95319">0</text>
<line x1="1992.00" y1="774.87" x2="1986.00" y2="774.87" stroke="#D95319" stroke-width="1.50"/>
<text x="2005.00" y="786.65" font-size="32.50" font-family='"Liberation Serif", "Times New Roman", serif' text-anchor="start" fill="#D95319">0.5</text>
<line x1="1992.00" y1="677.53" x2="1986.00" y2="677.53" stroke="#D95319" stroke-width="1.50"/>
<text x="2005.00" y="689.32" font-size="32.50" font-family='"Liberation Serif", "Times New Roman", serif' text-anchor="start" fill="#D95319">1</text>
<line x1="1992.00" y1="580.20" x2="1986.00" y2="580.20" stroke="#D95319" stroke-width="1.50"/>
<text x="2005.00" y="591.99" font-size="32.50" font-family='"Liberation Serif", "Times New Roman", serif' text-anchor="start" fill="#D95319">1.5</text>
</svg></body></html>
